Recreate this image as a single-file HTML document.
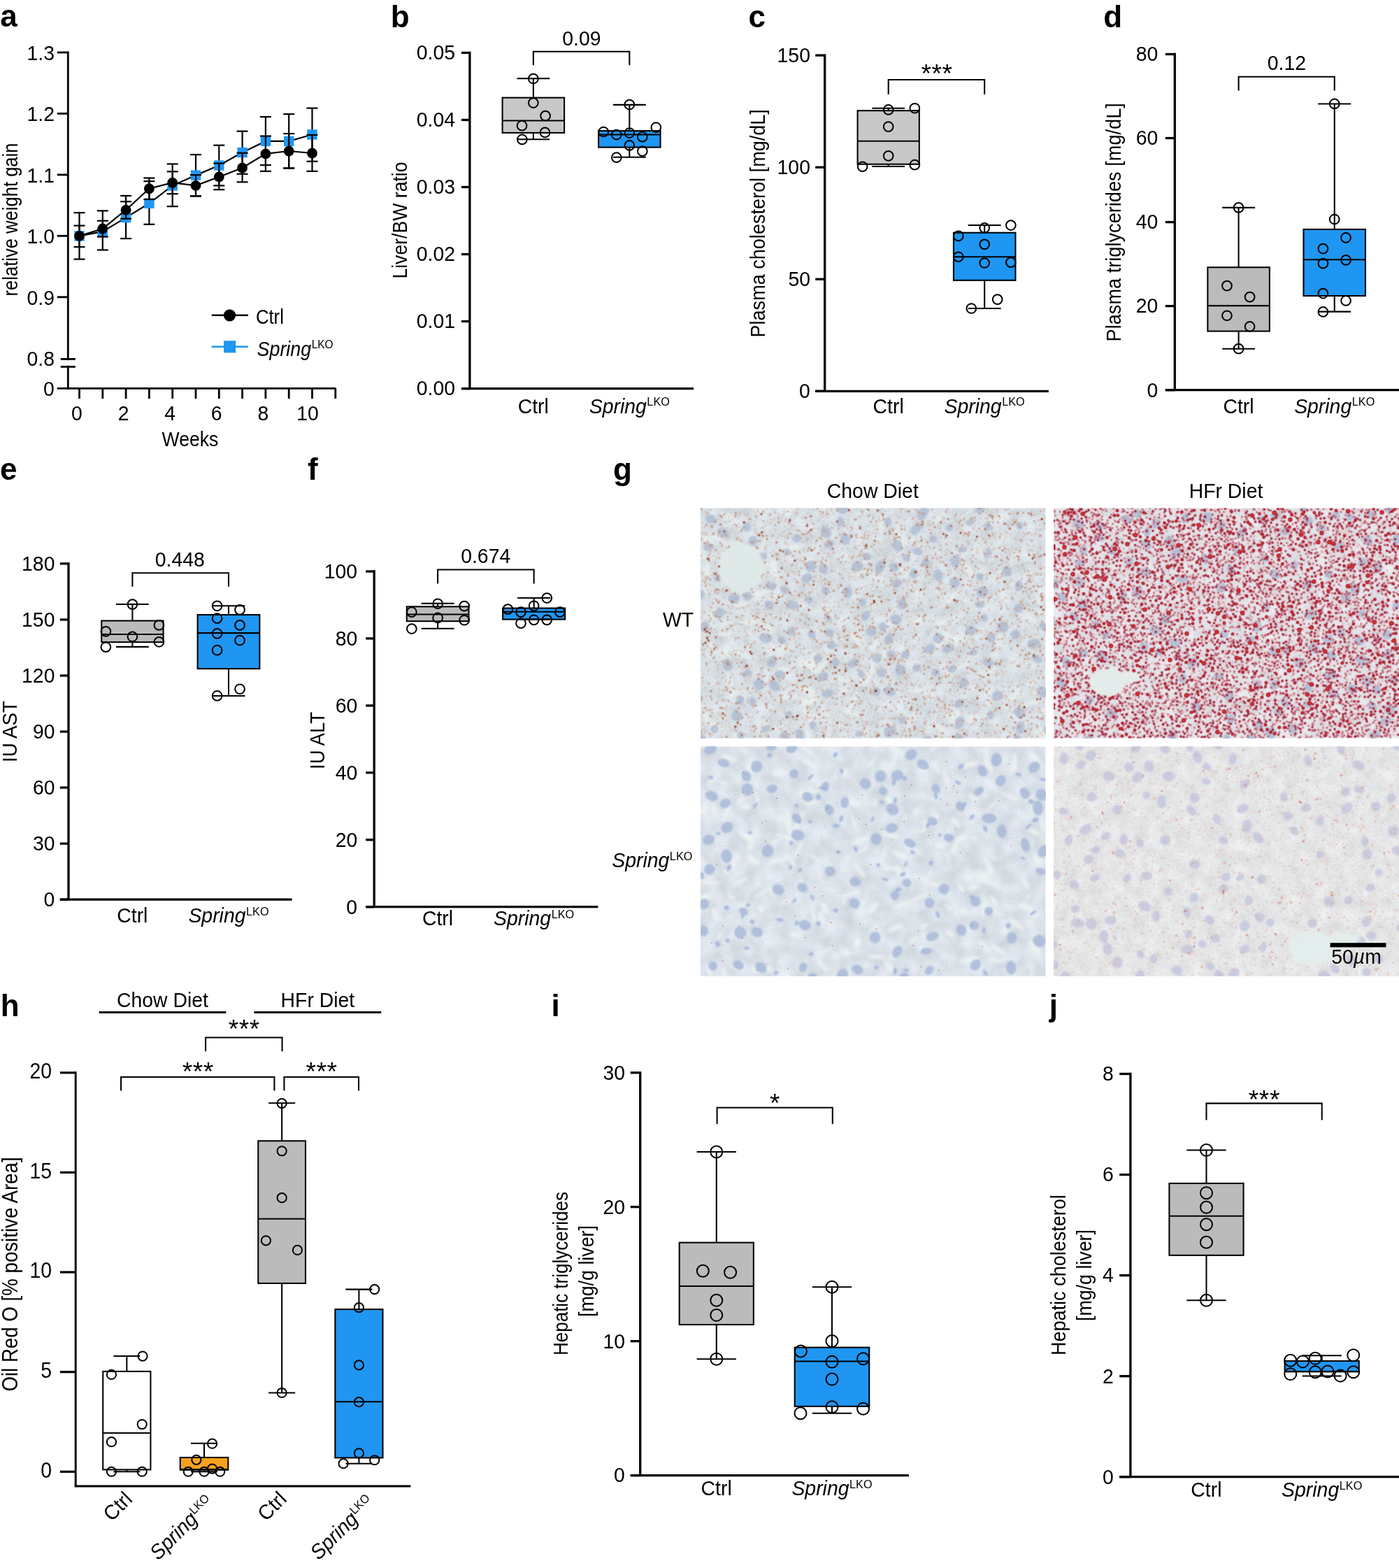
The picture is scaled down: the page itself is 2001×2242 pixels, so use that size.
<!DOCTYPE html>
<html lang="en"><head><meta charset="utf-8"><title>Figure</title>
<style>
html,body{margin:0;padding:0;background:#fff;}
body{width:2001px;height:2242px;overflow:hidden;}
svg{display:block;font-family:'Liberation Sans', sans-serif;fill:#000;}
</style></head><body>
<svg width="2001" height="2242" viewBox="0 0 2001 2242">
<rect width="2001" height="2242" fill="#fff"/>
<defs><filter id="b0" x="-2%" y="-2%" width="104%" height="104%"><feGaussianBlur stdDeviation="0.4"/></filter><filter id="b1" x="-5%" y="-5%" width="110%" height="110%"><feGaussianBlur stdDeviation="1.1"/></filter><filter id="b2" x="-5%" y="-5%" width="110%" height="110%"><feGaussianBlur stdDeviation="2.2"/></filter><clipPath id="ctl"><rect x="1002" y="726.4" width="493.4" height="329"/></clipPath><filter id="ttl" x="0" y="0" width="100%" height="100%" color-interpolation-filters="sRGB"><feTurbulence type="fractalNoise" baseFrequency="0.05" numOctaves="2" seed="11" result="a"/><feColorMatrix in="a" type="matrix" values="0.13 0 0 0 0.774 0.13 0 0 0 0.806 0.13 0 0 0 0.829 0 0 0 0 1" result="A"/><feTurbulence type="fractalNoise" baseFrequency="0.5" numOctaves="2" seed="12" result="b"/><feColorMatrix in="b" type="matrix" values="0.2 0 0 0 -0.100 0.2 0 0 0 -0.100 0.2 0 0 0 -0.100 0 0 0 0 1" result="B"/><feComposite in="A" in2="B" operator="arithmetic" k1="0" k2="1" k3="1" k4="0"/><feColorMatrix type="matrix" values="1 0 0 0 0 0 1 0 0 0 0 0 1 0 0 0 0 0 0 1"/></filter><filter id="dtl" x="0" y="0" width="100%" height="100%" color-interpolation-filters="sRGB"><feGaussianBlur in="SourceAlpha" stdDeviation="0.85"/><feColorMatrix type="matrix" values="0 0 0 1 0 0 0 0 1 0 0 0 0 1 0 0 0 0 1 0"/><feComponentTransfer><feFuncR type="table" tableValues="0.86 0.8 0.7 0.58 0.45 0.36 0.36 0.36 0.36"/><feFuncG type="table" tableValues="0.66 0.56 0.42 0.3 0.2 0.14 0.14 0.14 0.14"/><feFuncB type="table" tableValues="0.54 0.44 0.32 0.24 0.2 0.16 0.16 0.16 0.16"/><feFuncA type="table" tableValues="0 0.24 0.48 0.72 0.9 1 1 1 1"/></feComponentTransfer></filter><clipPath id="ctr"><rect x="1507" y="726.4" width="494" height="329"/></clipPath><filter id="ttr" x="0" y="0" width="100%" height="100%" color-interpolation-filters="sRGB"><feTurbulence type="fractalNoise" baseFrequency="0.05" numOctaves="2" seed="23" result="a"/><feColorMatrix in="a" type="matrix" values="0.12 0 0 0 0.818 0.12 0 0 0 0.818 0.12 0 0 0 0.846 0 0 0 0 1" result="A"/><feTurbulence type="fractalNoise" baseFrequency="0.5" numOctaves="2" seed="24" result="b"/><feColorMatrix in="b" type="matrix" values="0.2 0 0 0 -0.100 0.2 0 0 0 -0.100 0.2 0 0 0 -0.100 0 0 0 0 1" result="B"/><feComposite in="A" in2="B" operator="arithmetic" k1="0" k2="1" k3="1" k4="0"/><feColorMatrix type="matrix" values="1 0 0 0 0 0 1 0 0 0 0 0 1 0 0 0 0 0 0 1"/></filter><filter id="dtr" x="0" y="0" width="100%" height="100%" color-interpolation-filters="sRGB"><feGaussianBlur in="SourceAlpha" stdDeviation="0.85"/><feColorMatrix type="matrix" values="0 0 0 1 0 0 0 0 1 0 0 0 0 1 0 0 0 0 1 0"/><feComponentTransfer><feFuncR type="table" tableValues="0.9 0.84 0.68 0.6 0.74 0.8 0.83 0.84 0.84"/><feFuncG type="table" tableValues="0.6 0.42 0.23 0.14 0.15 0.17 0.18 0.19 0.19"/><feFuncB type="table" tableValues="0.55 0.42 0.32 0.25 0.18 0.16 0.15 0.15 0.15"/><feFuncA type="table" tableValues="0 0.32 0.62 0.88 1 1 1 1 1"/></feComponentTransfer></filter><clipPath id="cbl"><rect x="1002" y="1067.6" width="493.4" height="328.2"/></clipPath><filter id="tbl" x="0" y="0" width="100%" height="100%" color-interpolation-filters="sRGB"><feTurbulence type="fractalNoise" baseFrequency="0.045" numOctaves="2" seed="37" result="a"/><feColorMatrix in="a" type="matrix" values="0.14 0 0 0 0.781 0.14 0 0 0 0.808 0.14 0 0 0 0.836 0 0 0 0 1" result="A"/><feTurbulence type="fractalNoise" baseFrequency="0.5" numOctaves="2" seed="38" result="b"/><feColorMatrix in="b" type="matrix" values="0.16 0 0 0 -0.080 0.16 0 0 0 -0.080 0.16 0 0 0 -0.080 0 0 0 0 1" result="B"/><feComposite in="A" in2="B" operator="arithmetic" k1="0" k2="1" k3="1" k4="0"/><feColorMatrix type="matrix" values="1 0 0 0 0 0 1 0 0 0 0 0 1 0 0 0 0 0 0 1"/></filter><clipPath id="cbr"><rect x="1507" y="1067.6" width="494" height="328.2"/></clipPath><filter id="tbr" x="0" y="0" width="100%" height="100%" color-interpolation-filters="sRGB"><feTurbulence type="fractalNoise" baseFrequency="0.05" numOctaves="2" seed="51" result="a"/><feColorMatrix in="a" type="matrix" values="0.1 0 0 0 0.840 0.1 0 0 0 0.844 0.1 0 0 0 0.848 0 0 0 0 1" result="A"/><feTurbulence type="fractalNoise" baseFrequency="0.5" numOctaves="2" seed="52" result="b"/><feColorMatrix in="b" type="matrix" values="0.2 0 0 0 -0.100 0.2 0 0 0 -0.100 0.2 0 0 0 -0.100 0 0 0 0 1" result="B"/><feComposite in="A" in2="B" operator="arithmetic" k1="0" k2="1" k3="1" k4="0"/><feColorMatrix type="matrix" values="1 0 0 0 0 0 1 0 0 0 0 0 1 0 0 0 0 0 0 1"/></filter><filter id="dbr" x="0" y="0" width="100%" height="100%" color-interpolation-filters="sRGB"><feGaussianBlur in="SourceAlpha" stdDeviation="0.85"/><feColorMatrix type="matrix" values="0 0 0 1 0 0 0 0 1 0 0 0 0 1 0 0 0 0 1 0"/><feComponentTransfer><feFuncR type="table" tableValues="0.92 0.88 0.82 0.76 0.7 0.7 0.7 0.7 0.7"/><feFuncG type="table" tableValues="0.76 0.64 0.5 0.38 0.28 0.28 0.28 0.28 0.28"/><feFuncB type="table" tableValues="0.7 0.58 0.44 0.34 0.26 0.26 0.26 0.26 0.26"/><feFuncA type="table" tableValues="0 0.24 0.48 0.72 0.9 1 1 1 1"/></feComponentTransfer></filter></defs>
<text transform="translate(877 685.5)" font-size="44" font-weight="bold">g</text>
<text transform="translate(1182.84 712) scale(0.9627 1)" font-size="29.5">Chow Diet</text>
<text transform="translate(1700.67 712) scale(0.9627 1)" font-size="29.5">HFr Diet</text>
<text transform="translate(947.96 896.3) scale(0.9627 1)" font-size="29.5">WT</text>
<text transform="translate(875.24 1240) scale(0.9627 1)" font-size="29.5"><tspan font-style="italic">Spring</tspan><tspan font-size="16.9" dx="0.6" dy="-10.3">LKO</tspan></text>
<g clip-path="url(#ctl)"><rect x="1002" y="726.4" width="493.4" height="329" fill="#d6dee4" filter="url(#ttl)"/><g filter="url(#b2)"><g fill="#e8efee" fill-opacity="0.9"><ellipse cx="1225.2" cy="910.6" rx="12.1" ry="4.8" transform="rotate(25 1225.2 910.6)"/><ellipse cx="1458" cy="879.6" rx="7.7" ry="1.8" transform="rotate(80 1458 879.6)"/><ellipse cx="1252.6" cy="919.6" rx="13.9" ry="3.2" transform="rotate(145 1252.6 919.6)"/><ellipse cx="1093.1" cy="894.8" rx="17.6" ry="3.9" transform="rotate(35 1093.1 894.8)"/><ellipse cx="1312.8" cy="987.3" rx="8.9" ry="3.9" transform="rotate(1 1312.8 987.3)"/><ellipse cx="1048.4" cy="826.2" rx="12.6" ry="2.7" transform="rotate(32 1048.4 826.2)"/><ellipse cx="1046.7" cy="992.8" rx="8.3" ry="2.8" transform="rotate(125 1046.7 992.8)"/><ellipse cx="1344.1" cy="740.2" rx="12.4" ry="3" transform="rotate(136 1344.1 740.2)"/><ellipse cx="1486.6" cy="1043.8" rx="12.3" ry="2.4" transform="rotate(163 1486.6 1043.8)"/><ellipse cx="1324.6" cy="928.9" rx="9.5" ry="1.6" transform="rotate(130 1324.6 928.9)"/><ellipse cx="1079.7" cy="731.3" rx="7.7" ry="2.3" transform="rotate(112 1079.7 731.3)"/><ellipse cx="1262.7" cy="746" rx="14.1" ry="4.6" transform="rotate(102 1262.7 746)"/><ellipse cx="1095.8" cy="806" rx="17.8" ry="3.5" transform="rotate(169 1095.8 806)"/><ellipse cx="1016.8" cy="879" rx="12.1" ry="2.8" transform="rotate(36 1016.8 879)"/><ellipse cx="1219.4" cy="1003.6" rx="16.2" ry="3.1" transform="rotate(115 1219.4 1003.6)"/><ellipse cx="1258.1" cy="937.1" rx="11" ry="4.6" transform="rotate(161 1258.1 937.1)"/><ellipse cx="1248.6" cy="944.3" rx="20.8" ry="3.4" transform="rotate(96 1248.6 944.3)"/><ellipse cx="1227.6" cy="817.9" rx="12.6" ry="4.4" transform="rotate(163 1227.6 817.9)"/><ellipse cx="1494.2" cy="1054" rx="13.4" ry="4.5" transform="rotate(14 1494.2 1054)"/><ellipse cx="1416.6" cy="959.3" rx="11.2" ry="2.9" transform="rotate(138 1416.6 959.3)"/><ellipse cx="1157.6" cy="802" rx="7.9" ry="4.5" transform="rotate(145 1157.6 802)"/><ellipse cx="1144.6" cy="749.5" rx="8.6" ry="1.7" transform="rotate(31 1144.6 749.5)"/><ellipse cx="1380.1" cy="858.1" rx="11.6" ry="2.3" transform="rotate(25 1380.1 858.1)"/><ellipse cx="1419.7" cy="853.6" rx="8.1" ry="2.2" transform="rotate(130 1419.7 853.6)"/><ellipse cx="1474.7" cy="1005.2" rx="16.4" ry="3.6" transform="rotate(170 1474.7 1005.2)"/><ellipse cx="1002.3" cy="795.4" rx="14.5" ry="2.4" transform="rotate(15 1002.3 795.4)"/><ellipse cx="1485.7" cy="857.2" rx="8.9" ry="2.4" transform="rotate(52 1485.7 857.2)"/><ellipse cx="1038" cy="933.5" rx="14.8" ry="3.5" transform="rotate(94 1038 933.5)"/><ellipse cx="1386.1" cy="815.2" rx="15.2" ry="3.9" transform="rotate(56 1386.1 815.2)"/><ellipse cx="1477.7" cy="975.8" rx="12.5" ry="2.3" transform="rotate(162 1477.7 975.8)"/><ellipse cx="1060.2" cy="807.5" rx="10.5" ry="2" transform="rotate(174 1060.2 807.5)"/><ellipse cx="1051.9" cy="746.1" rx="12.2" ry="3.1" transform="rotate(36 1051.9 746.1)"/><ellipse cx="1395.3" cy="784.9" rx="11.8" ry="3.2" transform="rotate(108 1395.3 784.9)"/><ellipse cx="1278" cy="873.6" rx="9" ry="1.5" transform="rotate(92 1278 873.6)"/><ellipse cx="1096.1" cy="967.2" rx="12.4" ry="2.4" transform="rotate(101 1096.1 967.2)"/><ellipse cx="1066.6" cy="938.2" rx="12.7" ry="2.8" transform="rotate(11 1066.6 938.2)"/><ellipse cx="1059.5" cy="864.8" rx="11.1" ry="3.4" transform="rotate(172 1059.5 864.8)"/><ellipse cx="1107" cy="815.2" rx="13.2" ry="5" transform="rotate(85 1107 815.2)"/><ellipse cx="1481.1" cy="990.7" rx="7.5" ry="2.3" transform="rotate(146 1481.1 990.7)"/><ellipse cx="1152.1" cy="1017.5" rx="15" ry="4.3" transform="rotate(57 1152.1 1017.5)"/><ellipse cx="1106" cy="856.1" rx="9.1" ry="2.2" transform="rotate(166 1106 856.1)"/><ellipse cx="1423.5" cy="937.6" rx="9.3" ry="1.9" transform="rotate(4 1423.5 937.6)"/><ellipse cx="1051.5" cy="1051.9" rx="7" ry="2.8" transform="rotate(123 1051.5 1051.9)"/><ellipse cx="1383.2" cy="834.6" rx="8.8" ry="3" transform="rotate(111 1383.2 834.6)"/><ellipse cx="1046.5" cy="918.1" rx="8.8" ry="1.8" transform="rotate(22 1046.5 918.1)"/><ellipse cx="1121.9" cy="924.2" rx="9.7" ry="3.8" transform="rotate(35 1121.9 924.2)"/><ellipse cx="1185.4" cy="875.5" rx="11.2" ry="3.4" transform="rotate(67 1185.4 875.5)"/><ellipse cx="1475.2" cy="885.5" rx="10.8" ry="2.9" transform="rotate(28 1475.2 885.5)"/><ellipse cx="1285.5" cy="1011.5" rx="9.3" ry="2.2" transform="rotate(114 1285.5 1011.5)"/><ellipse cx="1092.2" cy="777.1" rx="14.3" ry="2.6" transform="rotate(110 1092.2 777.1)"/><ellipse cx="1450.2" cy="995.5" rx="12.3" ry="4.9" transform="rotate(133 1450.2 995.5)"/><ellipse cx="1125.1" cy="788.8" rx="18" ry="3.2" transform="rotate(56 1125.1 788.8)"/><ellipse cx="1366.8" cy="1035.8" rx="12.2" ry="2.1" transform="rotate(39 1366.8 1035.8)"/><ellipse cx="1099" cy="1039" rx="20.1" ry="3.6" transform="rotate(24 1099 1039)"/><ellipse cx="1437.3" cy="925" rx="10.2" ry="2.2" transform="rotate(46 1437.3 925)"/><ellipse cx="1209.9" cy="760.6" rx="9.2" ry="1.7" transform="rotate(75 1209.9 760.6)"/><ellipse cx="1021.1" cy="1043.1" rx="10.8" ry="5.1" transform="rotate(72 1021.1 1043.1)"/><ellipse cx="1119.6" cy="958.2" rx="9.2" ry="5.2" transform="rotate(36 1119.6 958.2)"/><ellipse cx="1128.8" cy="997.4" rx="16.5" ry="2.9" transform="rotate(174 1128.8 997.4)"/><ellipse cx="1296.3" cy="822.9" rx="7.8" ry="2.1" transform="rotate(136 1296.3 822.9)"/><ellipse cx="1035.9" cy="801.5" rx="12.8" ry="2.8" transform="rotate(34 1035.9 801.5)"/><ellipse cx="1454.6" cy="793.5" rx="5.5" ry="2.7" transform="rotate(6 1454.6 793.5)"/><ellipse cx="1010.2" cy="815" rx="12" ry="3.3" transform="rotate(102 1010.2 815)"/><ellipse cx="1221.9" cy="746.3" rx="6.4" ry="2.8" transform="rotate(36 1221.9 746.3)"/><ellipse cx="1089" cy="847.7" rx="19.2" ry="3.1" transform="rotate(166 1089 847.7)"/><ellipse cx="1284.3" cy="769.7" rx="5.5" ry="2.9" transform="rotate(171 1284.3 769.7)"/><ellipse cx="1180.7" cy="1019.5" rx="12.9" ry="2.6" transform="rotate(58 1180.7 1019.5)"/><ellipse cx="1485.8" cy="942.5" rx="11.2" ry="3" transform="rotate(77 1485.8 942.5)"/><ellipse cx="1343" cy="918.7" rx="8.6" ry="4.9" transform="rotate(126 1343 918.7)"/><ellipse cx="1010.8" cy="1025.9" rx="11.7" ry="5.1" transform="rotate(81 1010.8 1025.9)"/><ellipse cx="1347.9" cy="1043.2" rx="12.9" ry="4" transform="rotate(35 1347.9 1043.2)"/><ellipse cx="1012.5" cy="935.7" rx="8.3" ry="2.3" transform="rotate(2 1012.5 935.7)"/><ellipse cx="1239.9" cy="966.7" rx="18" ry="3.5" transform="rotate(126 1239.9 966.7)"/><ellipse cx="1159.3" cy="1055.2" rx="16" ry="3.8" transform="rotate(72 1159.3 1055.2)"/><ellipse cx="1039.1" cy="906.1" rx="12.4" ry="3.4" transform="rotate(176 1039.1 906.1)"/><ellipse cx="1365.6" cy="1022.6" rx="12.1" ry="4.7" transform="rotate(164 1365.6 1022.6)"/><ellipse cx="1365.7" cy="957.9" rx="16.1" ry="3.2" transform="rotate(146 1365.7 957.9)"/><ellipse cx="1393.4" cy="1027.4" rx="13.1" ry="2.3" transform="rotate(158 1393.4 1027.4)"/><ellipse cx="1175.6" cy="951.8" rx="15.5" ry="3.1" transform="rotate(137 1175.6 951.8)"/><ellipse cx="1446.5" cy="1013" rx="12" ry="2.6" transform="rotate(12 1446.5 1013)"/><ellipse cx="1207.8" cy="986.5" rx="9.7" ry="2.8" transform="rotate(1 1207.8 986.5)"/><ellipse cx="1428" cy="914.9" rx="10.9" ry="2.6" transform="rotate(112 1428 914.9)"/><ellipse cx="1310.4" cy="852.2" rx="11.3" ry="1.9" transform="rotate(119 1310.4 852.2)"/><ellipse cx="1289.5" cy="926.7" rx="10.9" ry="2.5" transform="rotate(102 1289.5 926.7)"/><ellipse cx="1492.1" cy="1015.9" rx="10.9" ry="3.5" transform="rotate(179 1492.1 1015.9)"/><ellipse cx="1361.3" cy="854.2" rx="14.4" ry="3.1" transform="rotate(137 1361.3 854.2)"/><ellipse cx="1364.7" cy="917.5" rx="11.2" ry="6.3" transform="rotate(110 1364.7 917.5)"/><ellipse cx="1043.3" cy="973.2" rx="11.6" ry="4.5" transform="rotate(72 1043.3 973.2)"/><ellipse cx="1016.7" cy="924.2" rx="5.8" ry="2.4" transform="rotate(67 1016.7 924.2)"/><ellipse cx="1239.3" cy="802.1" rx="6.4" ry="2.5" transform="rotate(163 1239.3 802.1)"/><ellipse cx="1346.6" cy="890" rx="11.9" ry="3.3" transform="rotate(174 1346.6 890)"/><ellipse cx="1305.2" cy="1029.2" rx="15.8" ry="2.5" transform="rotate(114 1305.2 1029.2)"/><ellipse cx="1128.2" cy="730.1" rx="10.5" ry="5.4" transform="rotate(107 1128.2 730.1)"/><ellipse cx="1150.5" cy="949.5" rx="9.9" ry="5.4" transform="rotate(167 1150.5 949.5)"/><ellipse cx="1448.9" cy="943.5" rx="8" ry="2.3" transform="rotate(30 1448.9 943.5)"/><ellipse cx="1220" cy="1019.8" rx="12.2" ry="2.9" transform="rotate(10 1220 1019.8)"/><ellipse cx="1163.3" cy="945.5" rx="14.8" ry="4.6" transform="rotate(94 1163.3 945.5)"/><ellipse cx="1099.9" cy="868.2" rx="11.3" ry="3.7" transform="rotate(51 1099.9 868.2)"/><ellipse cx="1436.3" cy="852.9" rx="13.4" ry="3.4" transform="rotate(51 1436.3 852.9)"/><ellipse cx="1069.2" cy="889.7" rx="11.7" ry="4.3" transform="rotate(2 1069.2 889.7)"/><ellipse cx="1415" cy="1005.6" rx="6.4" ry="3.5" transform="rotate(28 1415 1005.6)"/><ellipse cx="1138.6" cy="782" rx="12.9" ry="4.1" transform="rotate(161 1138.6 782)"/><ellipse cx="1310.7" cy="888.9" rx="9.9" ry="5.3" transform="rotate(177 1310.7 888.9)"/><ellipse cx="1157.6" cy="1002.5" rx="11.4" ry="5.9" transform="rotate(162 1157.6 1002.5)"/><ellipse cx="1486.5" cy="875.3" rx="10.6" ry="3" transform="rotate(175 1486.5 875.3)"/><ellipse cx="1038.8" cy="736.8" rx="9.1" ry="2.4" transform="rotate(168 1038.8 736.8)"/><ellipse cx="1432.7" cy="740" rx="13.2" ry="3.8" transform="rotate(176 1432.7 740)"/><ellipse cx="1154.5" cy="986.8" rx="15.4" ry="3.7" transform="rotate(20 1154.5 986.8)"/><ellipse cx="1011.4" cy="771.1" rx="12.2" ry="3.6" transform="rotate(36 1011.4 771.1)"/><ellipse cx="1226.4" cy="734.5" rx="7.3" ry="1.9" transform="rotate(22 1226.4 734.5)"/></g></g><g filter="url(#b1)"><g fill="#a7b7d0" fill-opacity="0.72"><ellipse cx="1219.9" cy="947.8" rx="8.1" ry="5.5" transform="rotate(150 1219.9 947.8)"/><ellipse cx="1226.3" cy="810.3" rx="7.6" ry="8.2" transform="rotate(78 1226.3 810.3)"/><ellipse cx="1290.1" cy="863.6" rx="8.2" ry="5.9" transform="rotate(94 1290.1 863.6)"/><ellipse cx="1388.6" cy="901.3" rx="6.6" ry="7" transform="rotate(162 1388.6 901.3)"/><ellipse cx="1499.2" cy="1044.3" rx="4.9" ry="7.6" transform="rotate(130 1499.2 1044.3)"/><ellipse cx="1366.6" cy="802.2" rx="8.9" ry="7.3" transform="rotate(107 1366.6 802.2)"/><ellipse cx="1054.3" cy="1024" rx="6.9" ry="8.3" transform="rotate(106 1054.3 1024)"/><ellipse cx="1391.8" cy="933.3" rx="4.4" ry="6.3" transform="rotate(80 1391.8 933.3)"/><ellipse cx="1177.8" cy="813.4" rx="6.4" ry="7" transform="rotate(9 1177.8 813.4)"/><ellipse cx="1341.8" cy="912.9" rx="7.4" ry="7.3" transform="rotate(43 1341.8 912.9)"/><ellipse cx="1294.8" cy="936" rx="5.8" ry="6.3" transform="rotate(42 1294.8 936)"/><ellipse cx="1376.2" cy="785.7" rx="6.2" ry="4.4" transform="rotate(173 1376.2 785.7)"/><ellipse cx="1122.3" cy="1053.5" rx="8.4" ry="6.3" transform="rotate(75 1122.3 1053.5)"/><ellipse cx="1458" cy="1019.3" rx="6.8" ry="8.8" transform="rotate(134 1458 1019.3)"/><ellipse cx="1016.9" cy="742" rx="8.2" ry="5.9" transform="rotate(17 1016.9 742)"/><ellipse cx="1133.4" cy="865.5" rx="6.4" ry="9.2" transform="rotate(96 1133.4 865.5)"/><ellipse cx="1310.8" cy="756.1" rx="6.4" ry="10.6" transform="rotate(43 1310.8 756.1)"/><ellipse cx="1269.7" cy="746" rx="5.6" ry="6.5" transform="rotate(11 1269.7 746)"/><ellipse cx="1040.5" cy="950.7" rx="9.2" ry="7.1" transform="rotate(71 1040.5 950.7)"/><ellipse cx="1274.2" cy="935.3" rx="6.4" ry="6" transform="rotate(8 1274.2 935.3)"/><ellipse cx="1184.9" cy="883.6" rx="6" ry="4.3" transform="rotate(55 1184.9 883.6)"/><ellipse cx="1103" cy="837.9" rx="8" ry="5.6" transform="rotate(175 1103 837.9)"/><ellipse cx="1371.9" cy="1005.7" rx="5.8" ry="7.6" transform="rotate(53 1371.9 1005.7)"/><ellipse cx="1034.4" cy="762" rx="9.6" ry="6.9" transform="rotate(35 1034.4 762)"/><ellipse cx="1404.7" cy="846.5" rx="7.3" ry="8.4" transform="rotate(85 1404.7 846.5)"/><ellipse cx="1326.1" cy="1056.7" rx="6.5" ry="4.8" transform="rotate(179 1326.1 1056.7)"/><ellipse cx="1160.8" cy="907.4" rx="6" ry="5.4" transform="rotate(34 1160.8 907.4)"/><ellipse cx="1372.6" cy="1033.6" rx="6.4" ry="10" transform="rotate(19 1372.6 1033.6)"/><ellipse cx="1212.3" cy="846.6" rx="6.9" ry="8.1" transform="rotate(162 1212.3 846.6)"/><ellipse cx="1281" cy="885.8" rx="8.7" ry="7.3" transform="rotate(24 1281 885.8)"/><ellipse cx="1342" cy="822.7" rx="8.8" ry="6.2" transform="rotate(80 1342 822.7)"/><ellipse cx="1387.4" cy="747.2" rx="4.6" ry="6" transform="rotate(55 1387.4 747.2)"/><ellipse cx="1104.4" cy="945.9" rx="6.4" ry="8.6" transform="rotate(32 1104.4 945.9)"/><ellipse cx="1362" cy="956.7" rx="6.2" ry="5.4" transform="rotate(142 1362 956.7)"/><ellipse cx="1139.4" cy="769.8" rx="6.7" ry="5.8" transform="rotate(159 1139.4 769.8)"/><ellipse cx="1177.1" cy="967.5" rx="6.2" ry="8" transform="rotate(54 1177.1 967.5)"/><ellipse cx="1181.4" cy="761.2" rx="8.7" ry="7.6" transform="rotate(49 1181.4 761.2)"/><ellipse cx="1459.4" cy="1040" rx="5.9" ry="8.8" transform="rotate(176 1459.4 1040)"/><ellipse cx="1456.8" cy="869.9" rx="6.6" ry="6.4" transform="rotate(95 1456.8 869.9)"/><ellipse cx="1401.3" cy="824.7" rx="5.4" ry="4.9" transform="rotate(51 1401.3 824.7)"/><ellipse cx="1156.9" cy="856.9" rx="6.6" ry="5.2" transform="rotate(15 1156.9 856.9)"/><ellipse cx="1122" cy="844" rx="6.6" ry="5.4" transform="rotate(44 1122 844)"/><ellipse cx="1181" cy="844.6" rx="6.1" ry="5.8" transform="rotate(33 1181 844.6)"/><ellipse cx="1095.1" cy="912.5" rx="9.8" ry="6.6" transform="rotate(6 1095.1 912.5)"/><ellipse cx="1418" cy="912.2" rx="7.3" ry="5.9" transform="rotate(69 1418 912.2)"/><ellipse cx="1085.9" cy="978.7" rx="8.2" ry="8.2" transform="rotate(32 1085.9 978.7)"/><ellipse cx="1440.4" cy="816.8" rx="7.3" ry="6.5" transform="rotate(64 1440.4 816.8)"/><ellipse cx="1008.2" cy="896.2" rx="8.1" ry="6.4" transform="rotate(93 1008.2 896.2)"/><ellipse cx="1270.9" cy="913.8" rx="7.7" ry="5.8" transform="rotate(123 1270.9 913.8)"/><ellipse cx="1483.5" cy="942.2" rx="8.1" ry="5.6" transform="rotate(31 1483.5 942.2)"/><ellipse cx="1272.3" cy="988.6" rx="6.5" ry="9" transform="rotate(109 1272.3 988.6)"/><ellipse cx="1323.7" cy="804.6" rx="5.6" ry="6" transform="rotate(139 1323.7 804.6)"/><ellipse cx="1108" cy="980.9" rx="8.7" ry="6.8" transform="rotate(42 1108 980.9)"/><ellipse cx="1245.5" cy="903.6" rx="5.8" ry="7.6" transform="rotate(104 1245.5 903.6)"/><ellipse cx="1412.9" cy="947.4" rx="5.3" ry="8.4" transform="rotate(107 1412.9 947.4)"/><ellipse cx="1426.7" cy="994.6" rx="7.7" ry="7.2" transform="rotate(157 1426.7 994.6)"/><ellipse cx="1416.7" cy="1022.7" rx="4.8" ry="6.6" transform="rotate(3 1416.7 1022.7)"/><ellipse cx="1260.7" cy="962.1" rx="6.5" ry="6.9" transform="rotate(79 1260.7 962.1)"/><ellipse cx="1400.9" cy="864.3" rx="6.7" ry="5.2" transform="rotate(13 1400.9 864.3)"/><ellipse cx="1208.7" cy="771" rx="8.3" ry="7.8" transform="rotate(97 1208.7 771)"/><ellipse cx="1370.1" cy="1057.4" rx="6.8" ry="8.7" transform="rotate(26 1370.1 1057.4)"/><ellipse cx="1186" cy="778.2" rx="4.8" ry="7.6" transform="rotate(56 1186 778.2)"/><ellipse cx="1099.9" cy="865.5" rx="7.2" ry="7" transform="rotate(47 1099.9 865.5)"/><ellipse cx="1144" cy="1050.1" rx="5.7" ry="8.5" transform="rotate(147 1144 1050.1)"/><ellipse cx="1026.8" cy="826" rx="5" ry="6.3" transform="rotate(28 1026.8 826)"/><ellipse cx="1028.4" cy="876.9" rx="8.4" ry="6.4" transform="rotate(141 1028.4 876.9)"/><ellipse cx="1291" cy="1029.7" rx="5" ry="5.4" transform="rotate(65 1291 1029.7)"/><ellipse cx="1089.9" cy="795.1" rx="6.9" ry="4.8" transform="rotate(7 1089.9 795.1)"/><ellipse cx="1115.5" cy="964.5" rx="7.4" ry="6" transform="rotate(177 1115.5 964.5)"/><ellipse cx="1296.4" cy="797.3" rx="5.4" ry="5.6" transform="rotate(134 1296.4 797.3)"/><ellipse cx="1408.3" cy="883.9" rx="4.5" ry="5.8" transform="rotate(160 1408.3 883.9)"/><ellipse cx="1128.1" cy="1022.2" rx="5.2" ry="5.8" transform="rotate(53 1128.1 1022.2)"/><ellipse cx="1457.2" cy="837.4" rx="5.2" ry="7.9" transform="rotate(6 1457.2 837.4)"/><ellipse cx="1272.5" cy="1045.8" rx="9.4" ry="7.5" transform="rotate(132 1272.5 1045.8)"/><ellipse cx="1239.9" cy="796.3" rx="5.2" ry="6.5" transform="rotate(99 1239.9 796.3)"/><ellipse cx="1022" cy="1042.6" rx="5.7" ry="5.9" transform="rotate(167 1022 1042.6)"/><ellipse cx="1262.6" cy="896.3" rx="5.8" ry="6.7" transform="rotate(176 1262.6 896.3)"/><ellipse cx="1184" cy="991.5" rx="5.6" ry="8.9" transform="rotate(72 1184 991.5)"/><ellipse cx="1356.1" cy="926.9" rx="5.8" ry="8.9" transform="rotate(61 1356.1 926.9)"/><ellipse cx="1076.2" cy="774.6" rx="8.5" ry="6.3" transform="rotate(106 1076.2 774.6)"/><ellipse cx="1159" cy="809.3" rx="7.9" ry="8.1" transform="rotate(70 1159 809.3)"/><ellipse cx="1434.6" cy="896.4" rx="7.5" ry="8.3" transform="rotate(140 1434.6 896.4)"/><ellipse cx="1131.2" cy="902.6" rx="5.3" ry="6.1" transform="rotate(33 1131.2 902.6)"/><ellipse cx="997.7" cy="999.9" rx="5.9" ry="8.1" transform="rotate(36 997.7 999.9)"/><ellipse cx="1357.7" cy="754.3" rx="5.6" ry="5.8" transform="rotate(55 1357.7 754.3)"/><ellipse cx="1238.7" cy="880.3" rx="7.9" ry="5.4" transform="rotate(122 1238.7 880.3)"/><ellipse cx="1478" cy="920.3" rx="6.9" ry="9.1" transform="rotate(68 1478 920.3)"/><ellipse cx="1458.5" cy="752.2" rx="5.7" ry="4.8" transform="rotate(65 1458.5 752.2)"/><ellipse cx="1413" cy="792.1" rx="4.7" ry="7.5" transform="rotate(32 1413 792.1)"/><ellipse cx="1076.3" cy="1003.5" rx="5.6" ry="6.2" transform="rotate(166 1076.3 1003.5)"/><ellipse cx="1153.8" cy="826.7" rx="6.7" ry="8.3" transform="rotate(64 1153.8 826.7)"/><ellipse cx="1232.2" cy="963.8" rx="6.6" ry="4.6" transform="rotate(64 1232.2 963.8)"/><ellipse cx="1050.2" cy="855" rx="8.4" ry="6.9" transform="rotate(163 1050.2 855)"/><ellipse cx="1229.4" cy="1049.2" rx="4.7" ry="5.5" transform="rotate(69 1229.4 1049.2)"/><ellipse cx="1003.2" cy="849.2" rx="6.2" ry="4.5" transform="rotate(58 1003.2 849.2)"/><ellipse cx="1002.3" cy="1057.6" rx="7.7" ry="7.6" transform="rotate(9 1002.3 1057.6)"/><ellipse cx="1307.1" cy="819.8" rx="5.6" ry="7.2" transform="rotate(7 1307.1 819.8)"/><ellipse cx="1186.3" cy="904.4" rx="5.7" ry="5.3" transform="rotate(5 1186.3 904.4)"/><ellipse cx="1194.4" cy="947.4" rx="5.9" ry="6.3" transform="rotate(97 1194.4 947.4)"/><ellipse cx="1126.1" cy="789.2" rx="6" ry="5" transform="rotate(46 1126.1 789.2)"/><ellipse cx="1365.2" cy="833.1" rx="8" ry="7" transform="rotate(26 1365.2 833.1)"/><ellipse cx="1413.3" cy="752.7" rx="5.1" ry="6.3" transform="rotate(128 1413.3 752.7)"/><ellipse cx="1067.9" cy="753.4" rx="6.1" ry="6.7" transform="rotate(155 1067.9 753.4)"/><ellipse cx="1338.2" cy="961.5" rx="5.2" ry="6.3" transform="rotate(62 1338.2 961.5)"/><ellipse cx="1201.8" cy="746" rx="4.6" ry="7.2" transform="rotate(4 1201.8 746)"/><ellipse cx="1254.5" cy="940.8" rx="7.4" ry="6.9" transform="rotate(145 1254.5 940.8)"/><ellipse cx="1204.5" cy="726.6" rx="7.6" ry="9.1" transform="rotate(120 1204.5 726.6)"/><ellipse cx="1491.3" cy="989.1" rx="7.1" ry="9.3" transform="rotate(124 1491.3 989.1)"/><ellipse cx="1329.4" cy="927.7" rx="8.7" ry="6.1" transform="rotate(156 1329.4 927.7)"/><ellipse cx="1169.3" cy="942" rx="6.1" ry="5.5" transform="rotate(16 1169.3 942)"/><ellipse cx="1253.4" cy="988.7" rx="6.1" ry="6.8" transform="rotate(10 1253.4 988.7)"/><ellipse cx="1451.6" cy="907.3" rx="5.8" ry="6.8" transform="rotate(89 1451.6 907.3)"/><ellipse cx="1068.4" cy="963.2" rx="5.1" ry="7" transform="rotate(72 1068.4 963.2)"/><ellipse cx="1493.7" cy="896.3" rx="5.6" ry="7.8" transform="rotate(119 1493.7 896.3)"/><ellipse cx="1096.3" cy="1041.7" rx="4.8" ry="7.1" transform="rotate(61 1096.3 1041.7)"/><ellipse cx="1312.7" cy="788.5" rx="5.4" ry="7.6" transform="rotate(104 1312.7 788.5)"/><ellipse cx="1287.2" cy="957.7" rx="7.6" ry="7.2" transform="rotate(126 1287.2 957.7)"/><ellipse cx="1162.7" cy="1036.4" rx="4.8" ry="5.3" transform="rotate(65 1162.7 1036.4)"/><ellipse cx="1059.4" cy="1051.4" rx="5" ry="5.4" transform="rotate(9 1059.4 1051.4)"/><ellipse cx="1279.1" cy="811" rx="6.9" ry="6.4" transform="rotate(84 1279.1 811)"/><ellipse cx="1454.8" cy="1057.7" rx="5.4" ry="6.9" transform="rotate(4 1454.8 1057.7)"/><ellipse cx="1058.7" cy="1001" rx="7.2" ry="5.3" transform="rotate(101 1058.7 1001)"/><ellipse cx="1118.2" cy="915.8" rx="6.3" ry="5.5" transform="rotate(33 1118.2 915.8)"/><ellipse cx="1013.1" cy="782.4" rx="6.9" ry="6.3" transform="rotate(171 1013.1 782.4)"/><ellipse cx="1189.1" cy="922.1" rx="6.4" ry="6" transform="rotate(169 1189.1 922.1)"/><ellipse cx="1401.6" cy="726.9" rx="8.1" ry="7.2" transform="rotate(111 1401.6 726.9)"/><ellipse cx="1069" cy="852.4" rx="6.2" ry="6.6" transform="rotate(49 1069 852.4)"/><ellipse cx="1283.7" cy="780.3" rx="9.1" ry="6.7" transform="rotate(68 1283.7 780.3)"/><ellipse cx="1258.7" cy="810.8" rx="6.4" ry="10.2" transform="rotate(24 1258.7 810.8)"/><ellipse cx="1282.9" cy="834" rx="6.2" ry="7.3" transform="rotate(64 1282.9 834)"/><ellipse cx="1320" cy="734.2" rx="7" ry="9.8" transform="rotate(34 1320 734.2)"/><ellipse cx="1334.8" cy="770.5" rx="6.2" ry="5.4" transform="rotate(42 1334.8 770.5)"/><ellipse cx="1233.6" cy="860.9" rx="5.1" ry="4.9" transform="rotate(70 1233.6 860.9)"/><ellipse cx="1311" cy="955.1" rx="5.8" ry="5.8" transform="rotate(117 1311 955.1)"/><ellipse cx="1378.6" cy="976.2" rx="7.2" ry="6.5" transform="rotate(100 1378.6 976.2)"/></g></g><g filter="url(#b2)"><path d="M1092.1 803Q1095.4 811 1094.3 820.2Q1093.2 829.5 1086 833.9Q1078.9 838.4 1072.8 841.8Q1066.8 845.3 1059.4 848.4Q1052 851.5 1046.6 844.9Q1041.2 838.2 1035.2 833.2Q1029.2 828.2 1027.6 819.6Q1026 811 1027.7 802.5Q1029.4 794 1033.3 785.9Q1037.1 777.8 1044.6 774.5Q1052.1 771.2 1059.2 775Q1066.3 778.9 1073.5 779.9Q1080.7 780.9 1084.7 788Q1088.7 795 1092.1 803Z" fill="#dfe9e8"/></g><g filter="url(#dtl)"><rect x="1002" y="726.4" width="493.4" height="329" fill="none"/><path transform="scale(.5)" d="M2429 1459zm82 1zm-333 10zm-50 24zm132-7zm135 4zm585-6zm-659 30zm-12-11zm-237 16zm99 11zm8-9zm385 6zm135-1zm9 4zm40-7zm47 11zm-563 39zm90 0zm156-14zm510 26zm-34 11zm-10-10zm-670 16zm257 6zm301 30zm-213-4zm-562-15zm-11 21zm702 16zm125 7zm-546 8zm-77-5zm-172 22zm403 10zm79-3zm74-10zm170 7zm-74 23zm-230 2zm-272-10zm750 28zm7 8zm-801 27zm68 3zm608-3zm-236 14zm-445 6zm-164 9zm15 10zm291-4zm501 20zm-795 6zm-4-7zm-5 13zm195 20zm178 1zm27 9zm-41 8zm-227-6zm-4-6zm222 21zm8 8zm171-8zm283 22zm-287-7zm-124 18zm-18-1zm-13-8zm-252-4zm116 19zm139 0zm436 6zm-493 11zm-48 5zm-73-4zm237 19zm55 16zm38 2zm260-5zm-7 23zm-383-13zm-104-4zm310 20zm134 7zm127 9zm50 6zm-71 3zm-791 15zm183 11zm29-3zm392 28zm-277-9zm-285 0zm-6 11zm107 6zm548 14zm174-7zm-207 16zm-370-3z" stroke="#000" stroke-width="5.4" stroke-linecap="round" fill="none"/><path transform="scale(.5)" d="M2005 1454zm334 0zm39 0zm107 5zm93-4zm223-2zm150 21zm-2-5zm-8-1zm-14-2zm-16 2zm-23 1zm-31 6zm-17 1zm-10-3zm-18-11zm-106 2zm-79 1zm-28-2zm-71 9zm-5-3zm-38 7zm-19-13zm-113 5zm-7-5zm-27 13zm-116-4zm-19-9zm-20 15zm-59-11zm-2 10zm-32-5zm-11 3zm87 9zm81 10zm30 1zm46-15zm23 19zm122-14zm42 7zm17-1zm20-6zm84-2zm26 7zm2 5zm30 1zm21-2zm22-10zm30 11zm5-7zm10-4zm30-4zm41 13zm11-10zm15 11zm21 4zm29-6zm54-1zm29 6zm-58 3zm-36 0zm-5 11zm-61-9zm-10 12zm-17-2zm-48-10zm-34 2zm-44 5zm-36-8zm-60 14zm-25 2zm-11 1zm-6-13zm-77 7zm-45-8zm-35 6zm-65 9zm-31-2zm-68-16zm-95 15zm-62-16zm-23 5zm-15-4zm20 26zm34 2zm105 1zm4 4zm9-2zm17 0zm44 7zm7-13zm37 2zm137 2zm1 7zm28 1zm8-1zm33-2zm26-9zm14 1zm19 11zm7-2zm31 1zm60-12zm43 12zm54-10zm11 5zm2-10zm55 8zm5 4zm28 2zm81-11zm34 7zm-23 15zm-30-1zm-104 4zm-27-5zm-84 11zm-54-5zm-37 1zm-4 7zm-54-17zm-57 16zm0-13zm-20-5zm-74 9zm-28 8zm-4-6zm-6-4zm-34 0zm-24-4zm-117-1zm-41 9zm-34-5zm-10-3zm-49 9zm-27 7zm-18-5zm71 9zm79 4zm75 11zm33-2zm14 2zm24-3zm35-14zm35 8zm82 9zm30-15zm86 4zm24 12zm33-16zm36 3zm18 6zm47-10zm132 12zm5-6zm33 3zm10 4zm62 14zm-21-3zm-44 6zm-5-2zm-28 3zm-29-1zm-68-3zm-53 3zm-9-10zm-46 5zm-7 8zm-18 1zm-69-10zm-111-1zm-73 14zm-56-17zm-38 16zm-54-14zm-26 15zm-4-15zm-162 12zm-35 1zm6 7zm159 5zm77 8zm38-4zm29-3zm16-4zm4 5zm7 6zm4-14zm42 5zm48-1zm35 5zm87 6zm2-6zm61 6zm11-16zm49 5zm8 11zm47-17zm4 13zm2-9zm22 1zm77 11zm7-15zm20-2zm40 17zm35-6zm18 15zm-36 7zm-63-11zm-88-2zm-27 5zm-28-5zm-3 7zm-83-3zm-62 6zm-40 2zm-28-11zm-26 9zm-12 2zm-8-6zm-95 7zm-51 1zm-36-9zm-7 10zm-50-10zm-38 12zm-177 20zm6-6zm27 4zm2-7zm178 3zm21-5zm32-1zm74 12zm41-16zm9 12zm55-10zm3 8zm12-7zm82 0zm14-4zm83 3zm54 1zm18 8zm52-1zm3-7zm79-3zm81 5zm20-4zm10 1zm-5 35zm-15-1zm-7-13zm-15 6zm-11 8zm-12-9zm-94 10zm-21-12zm-20 8zm-8-3zm-12 0zm-30 5zm-36-12zm-70-4zm-6 3zm-28-4zm-37 2zm-1 10zm-35-11zm-4 18zm-103-5zm-36-4zm-42-8zm-28 12zm-20-9zm-85 9zm-176 2zm9 23zm20-14zm7 2zm47 11zm52-4zm32-13zm73 14zm36 0zm22 0zm46 4zm23-10zm23 5zm10-9zm31 1zm1 11zm107-10zm36 9zm12-8zm37-3zm1 14zm38-18zm21 17zm146 0zm9-7zm12-6zm58 6zm5-10zm12 4zm7 8zm11-3zm18 7zm0 11zm-1 9zm-84-5zm-60-5zm-6 3zm-12-9zm-21 11zm-13-10zm-5 15zm-41 1zm-54-10zm-100 3zm-41 5zm-26-8zm-21-5zm-7 3zm-29 11zm-7-3zm-35-8zm-9 9zm-91-1zm-15-12zm-81 13zm-39-6zm-49-4zm-84 11zm-15 21zm4-12zm15-1zm13 5zm28-6zm29 15zm95-13zm26-1zm7 6zm39 2zm67 4zm80 1zm17 0zm43-12zm24-5zm55 7zm50 5zm8-7zm29 11zm47 2zm88-9zm14-7zm114 8zm4 9zm24-14zm6-5zm3 35zm-163-3zm-31-12zm-3 12zm-9-7zm-36 13zm-74 1zm-51-11zm-60 8zm-102-5zm-58-4zm-8 5zm-8 7zm-1-14zm-46-1zm-32-1zm-77 14zm-172 12zm25-5zm24 9zm27-8zm45-4zm11 3zm22 15zm4-18zm29 4zm13 5zm81 1zm21 5zm33-12zm22-3zm7 7zm19 5zm12-6zm26 6zm1-12zm40 9zm134-8zm12 2zm95 2zm109 7zm21-9zm46 7zm8 7zm17-3zm44 1zm-67 15zm-19-7zm-37 4zm-24-4zm-41-3zm-15 15zm-95-1zm-85-7zm-16 11zm-13-7zm-5-10zm-8-2zm-16 12zm-42-10zm-3 10zm-28-2zm-12-4zm-43 6zm-23-7zm-35-4zm-74 16zm-94 2zm-22-11zm-73 2zm-67 16zm43-3zm13-3zm80 2zm10 3zm29-2zm1 16zm52-10zm98-4zm8 1zm55 0zm12 12zm20-8zm13-9zm8 0zm59 12zm39-13zm56 16zm59-3zm85-5zm1 6zm69-4zm21-5zm133-5zm-6 27zm-37-6zm-55 12zm-24-6zm-60 1zm-46-3zm-13 9zm-22-3zm-25-9zm-7 5zm-80-6zm-62 15zm-48-11zm-40-1zm-13-4zm-26 10zm-22-6zm-44 13zm-22-4zm-6-6zm-94 10zm-123-14zm-8 2zm-58-2zm-36 20zm32 15zm6-8zm81 0zm17 1zm3-8zm81 5zm48 2zm8-7zm14 11zm48-12zm73 7zm22 2zm1-8zm6 4zm36-6zm45 13zm149 2zm16-10zm59-4zm29 13zm57 4zm1-18zm4 13zm65-6zm64 0zm6 24zm-6-9zm-19 13zm-22-3zm-16 0zm-82-12zm-69 8zm-20-7zm-83 4zm-21-3zm-73 6zm-19 6zm-58 2zm-106-3zm-73-7zm-54-7zm-75 11zm-71 4zm-11-3zm-39-5zm-29-1zm-2 7zm-13 24zm20-15zm24 9zm17 8zm41-5zm98-9zm9-2zm28 14zm15-5zm43 2zm19 3zm116-6zm36-8zm44 4zm38 10zm18-5zm103 3zm28-2zm53 0zm22 5zm34-7zm5-7zm15 14zm9 0zm76-13zm9-1zm-25 22zm-7-2zm-124 15zm-7-6zm-9-3zm-61-4zm-10 7zm-43-5zm-10 6zm-2-10zm-156 6zm-26-6zm-42 7zm-2-11zm-52 9zm-11 9zm-26-6zm-28-4zm-30 2zm-71 7zm-69-8zm-120 29zm58-14zm60 7zm45-2zm12 5zm94-1zm17-4zm3 10zm14-1zm7-2zm9-5zm53-6zm159 11zm46-15zm57 6zm36-6zm7 16zm27-6zm77-10zm14 13zm7 2zm38-5zm134 7zm-13 2zm-23 12zm-192-8zm-16 10zm-21-2zm-30 0zm-2-9zm-6 11zm-15-14zm-57 19zm-33-8zm-12 3zm-93-11zm-32 4zm-24 10zm-22-16zm-6 1zm-44 5zm-24 10zm-26-11zm-25 13zm-37-13zm-40 11zm-11-7zm-10-8zm-47 14zm-95-1zm7 22zm36-2zm7-8zm2 7zm8 5zm12-10zm38 3zm1-6zm15 2zm9 8zm108 0zm9-11zm14-1zm1 10zm174 1zm8-7zm53 4zm22-1zm14 1zm103 1zm49 0zm44-3zm51 2zm9 6zm76-1zm13-14zm-152 20zm-74 15zm-94-6zm-12 1zm-122 2zm-63 3zm-12-3zm-41-2zm-78-4zm-3 9zm-25 0zm-33-16zm-24 7zm-7 8zm-135 2zm-4-7zm18 18zm57 2zm8-3zm47 9zm29-6zm25-10zm19 4zm55 3zm41 0zm20 1zm41 4zm32 5zm16-14zm6 12zm11-4zm114-6zm16-2zm12 4zm81 7zm37 0zm76-1zm124 3zm50-17zm8-1zm-2 26zm-27 11zm-32-13zm-24-2zm-44 11zm-123 1zm-50 0zm-48-4zm-17-9zm-4 9zm-54 2zm-17-10zm-27 6zm-35 4zm-115 2zm-11-12zm-8 9zm-25 6zm-2-17zm-1 7zm-92 7zm-24-10zm-79 1zm-46 0zm-6-1zm-30 6zm-9 1zm-10 6zm55 18zm7-9zm59-4zm145 15zm53-3zm11-10zm13 8zm106-7zm6 0zm111 0zm19 11zm23-15zm13-1zm67 10zm17-3zm74 12zm29-4zm71-3zm27 1zm11-6zm37 4zm8 5zm7 0zm-15 22zm-16-8zm-36 7zm-12-11zm-24 10zm-27-2zm-41-5zm-56-8zm-31 13zm-15 1zm-12-4zm-52-1zm-36-3zm-18-1zm-48 12zm-4-7zm-15 5zm-71-9zm-29 6zm-7 0zm-54 6zm-72 0zm-57-10zm-74 7zm-6 2zm-36-6zm-64-4zm-28 0zm131 23zm5-7zm16 10zm70-2zm157-3zm67-5zm6 14zm76-5zm13 6zm34-15zm1 7zm13-5zm22 5zm58 6zm102 0zm22-1zm52-11zm19 10zm78 11zm-86 4zm-205-5zm-72-3zm-64 0zm-27 2zm-5 3zm-152 4zm-159-4zm-25-2zm-15 1zm-36-3zm-43 3zm-47-6z" stroke="#000" stroke-width="3.6" stroke-linecap="round" fill="none"/><path transform="scale(.5)" d="M2006 1456zm22 2zm5 1zm51-4zm50 0zm58-1zm18 2zm9 2zm62-2zm3-2zm13-1zm31 6zm38-6zm25 1zm36 3zm54-1zm1-1zm36 4zm6-5zm20 2zm76 1zm47 0zm41 1zm5-4zm54 3zm36-4zm22 3zm27 1zm24 0zm3 1zm6-3zm103 3zm-9 5zm-4-2zm-5 10zm-10 1zm-9-8zm-6 4zm-32-4zm-4 6zm-10-3zm-39 10zm-7-13zm-4 15zm-12-13zm0 0zm-1 10zm0 2zm-4-6zm-4-10zm-6 5zm-18 1zm-2 3zm-16-7zm-29 0zm-8 7zm-14-2zm-2 6zm0-2zm-38 3zm-23-10zm-2 13zm-6-19zm-8 0zm-12 7zm-1 2zm-4 3zm-5-4zm-12-8zm-3 17zm-18-16zm-9 1zm-14 2zm-5 15zm-8-5zm-14 1zm-18-13zm-7 17zm-1-4zm-12 3zm-16-4zm-8-3zm-22 0zm-5 6zm-5 1zm-23-12zm-23-1zm-15-5zm-2 0zm-10 9zm-5-8zm-6 10zm-4 7zm-2-17zm0 7zm-2 2zm-1 1zm-8 6zm-1-14zm-9 9zm-23 5zm-6 0zm-5-11zm-31 4zm-1-5zm-4 7zm-3-8zm-17-1zm-4-1zm-8 2zm-4 7zm-10 7zm-4-7zm-7-4zm-3-3zm-49-3zm-8 12zm-3-10zm-16 3zm-1 7zm-6 1zm-3-5zm-13 1zm0-5zm-3 13zm-9-6zm-15-8zm-5 14zm-9-11zm-12 10zm-1 1zm-9-6zm-27-4zm-3-2zm-4 6zm-1-8zm-12 31zm38-5zm2 3zm0-1zm8-7zm8 13zm4-17zm5 13zm5-2zm10-1zm8-5zm6 13zm12-1zm18-5zm10-8zm4 8zm15-2zm23-1zm3 1zm10 0zm6 8zm4-5zm0-9zm10 1zm9-5zm1 14zm2-10zm7 3zm1-8zm10 11zm3-5zm8 5zm38-10zm11 2zm2 16zm1-2zm11-8zm2 6zm19-8zm38 6zm5 6zm28-1zm1-5zm13-6zm14 10zm3-12zm2 4zm52-6zm2-3zm17 5zm1 5zm6-1zm16 10zm3-18zm22 12zm2 3zm23-11zm24 10zm9-4zm3 7zm3-14zm27 15zm3-7zm16-12zm18 16zm1-4zm7-7zm0-5zm4 16zm6-11zm19-5zm6 9zm29 3zm13-6zm1-5zm2 1zm7 11zm2-6zm17-5zm13 2zm5-2zm15 10zm2 2zm19-11zm11 13zm2 2zm1-17zm24 8zm2-4zm0 10zm2 2zm6-13zm0 6zm2 9zm8-4zm14 0zm5 3zm25 1zm10-12zm0 1zm11-5zm6-1zm-1 29zm-12 4zm-1-13zm-10 11zm-29-1zm0-8zm-18 3zm-2-1zm-3-5zm-14 1zm-9 12zm-4-3zm-1-7zm-3-4zm-41 9zm-4 4zm-14 2zm-6-3zm-5-9zm-23 1zm-5 10zm-1-5zm-30 7zm-9-11zm-7 9zm-14-9zm-34 6zm-5-8zm-11 2zm-7 11zm-2-14zm-4 1zm-1 12zm-1-1zm-21-13zm-5 1zm-7 1zm-3-3zm-33 15zm-2-11zm-1 8zm-8-9zm0 7zm-1-9zm-20 11zm-7 0zm-26-10zm-14 12zm-1-1zm-2-12zm-5 14zm-4-10zm-36 5zm0-2zm-3-2zm-1-1zm-20 8zm-2-4zm-2-2zm0 11zm-8-17zm-2 9zm-25 4zm0-5zm-33-6zm-8 14zm-2-8zm-1 9zm-1-14zm-12 8zm-13-2zm-29-4zm-22 9zm-3-9zm-7-3zm-4 0zm-10 10zm-10-6zm-1 12zm-24-3zm-28-13zm-6 6zm-6 0zm0 0zm-18 6zm-4-13zm-28 6zm-3 3zm-11-4zm-7 0zm-1-5zm-2 0zm-11 10zm-13-2zm-16-3zm-1-6zm-26 7zm-22-2zm-12 26zm4-9zm6 8zm1-6zm6-2zm2 6zm13 0zm6-5zm11 8zm3-6zm0-6zm4 1zm0-1zm5 16zm1-4zm14 1zm3 6zm5-2zm1-15zm17 15zm7 0zm1-15zm8-1zm38 3zm6 3zm7-1zm12-5zm40 17zm5-10zm7 6zm0-11zm9 12zm8-4zm26 1zm10-12zm3 19zm1-12zm10 1zm2 10zm2-15zm2 4zm5-3zm7 6zm1 7zm20 2zm0-1zm7-1zm1-7zm11-9zm6 6zm22 12zm3 0zm1-4zm8-7zm1 1zm6-7zm4 6zm4-4zm1 4zm2 2zm14 5zm2-3zm7 1zm6-2zm1 8zm1-3zm0-8zm22 2zm1-2zm4-7zm4 11zm4-1zm1-9zm11 2zm7 3zm7-1zm21 1zm10 12zm2-15zm3-2zm8 7zm2 7zm17 0zm4-11zm17 5zm6-9zm32 13zm2 2zm5-15zm26 4zm8 0zm15 13zm74-14zm1 2zm4 1zm6-1zm20-6zm12 0zm1 14zm6 4zm6-15zm11 8zm6-7zm3 7zm1-4zm5 10zm2-13zm14 4zm1-1zm13 11zm2-17zm1 5zm10 3zm22 7zm3-12zm12 10zm1-12zm4 5zm4 3zm10-8zm6 7zm10-2zm16 6zm-30 10zm-10 12zm-19-13zm-12 1zm-4-3zm-30 7zm-11-5zm-25 14zm-6-15zm-8 15zm-2-13zm-10 0zm-11 10zm-27 0zm-2-7zm-1 11zm-4-8zm-12 9zm-14-17zm-19 11zm-34-1zm-19-11zm-5 6zm-8 4zm-16-7zm-2 4zm-1 2zm0-5zm-7 6zm-6-5zm-3 13zm-1-7zm-17-10zm-1 11zm-23-1zm0-9zm-17 6zm-10 10zm-5-11zm-13 2zm-8 7zm-11-9zm0 6zm-8-6zm-2 2zm-25 5zm-7-11zm-3 9zm-24-2zm-16 6zm-20-9zm-7 8zm-30 1zm-9-3zm-1 5zm-10-14zm-3-3zm-10 4zm-5 9zm-11-3zm-18-4zm-8 3zm-8 8zm-34-1zm-6-6zm-3 4zm-21-3zm-2-2zm-1 0zm-2 3zm-24-13zm-18 6zm-4 1zm-4 0zm-6 1zm-15 1zm-13 5zm-9-4zm-7-5zm-39 1zm-7-2zm-8 12zm-26 3zm-14-8zm0-4zm-2 12zm-4-8zm-10-10zm-4 0zm9 25zm16-1zm4 12zm5-17zm5 10zm4 5zm1-2zm16-9zm1-4zm5 16zm7-9zm4 0zm82-4zm4 7zm20-7zm2 7zm22 6zm28-1zm1 1zm13 1zm43-7zm3 8zm14-12zm0 3zm4-1zm11 3zm1-2zm3-4zm18 2zm0 8zm8-4zm21-2zm4 0zm2 10zm24-8zm16-2zm20-6zm1 4zm5 3zm6-9zm9 12zm5-13zm1 9zm2-3zm3 1zm1-5zm4 7zm22 5zm11-4zm6 4zm33-14zm24 8zm13-4zm7 15zm27-9zm21 1zm2-9zm7-1zm5 7zm27-8zm5 1zm2 18zm9-2zm4-7zm6 5zm22-15zm2 8zm7 8zm5-4zm1-11zm10 12zm5-8zm12 7zm4 0zm11 1zm1-7zm5 12zm14-3zm6-5zm7 0zm1 0zm4-6zm10 8zm4-4zm12 0zm2-2zm4-3zm3 12zm9-15zm5 12zm6 0zm9-5zm21-1zm2 9zm3-11zm19-3zm2 18zm1-6zm7 0zm3 3zm6-15zm16 4zm3 5zm-2 22zm-3-1zm-3 5zm-2-14zm-6 10zm-3 2zm-2-3zm-39-9zm-3 15zm-4-17zm-9 2zm-2 13zm0-15zm-10 11zm-1-8zm-8 14zm-5-16zm-10 10zm-14 2zm-3-2zm-5 1zm-8 1zm-3-11zm-8 1zm-8 4zm0-5zm-3 0zm-21-1zm-2 17zm-13-1zm-31-12zm-7 2zm-1 0zm-14-5zm-17 1zm-5 4zm-10 5zm-1 3zm-1 1zm-8-2zm-4 3zm-3-17zm-22 9zm-4 1zm-8 2zm-15 5zm-26-10zm-2 1zm-28 4zm-5-11zm-7 8zm-20-7zm-2 9zm-2 5zm-5-7zm-2 10zm-13-11zm-4-6zm-27 15zm-3-12zm-6 14zm-2-3zm-8-8zm-2 11zm-3-11zm-2-2zm-2 6zm-5 1zm-8-3zm-4 1zm-1 7zm-1-3zm-6 1zm-2-7zm-16-1zm-2 4zm-1 0zm-3 2zm-25-12zm-6 11zm-5-8zm-3-3zm-2 10zm-6-12zm-5 19zm-2-4zm-15-12zm-34 13zm-5-3zm-11-10zm-7 16zm-9-9zm-5-2zm-1 4zm-3-11zm-19 11zm-16-6zm-3-2zm-3 8zm-10-3zm-2 2zm-2-3zm-4-8zm-13 1zm-2 15zm-134-12zm-4 9zm-9-3zm-11-7zm-2 14zm-1-6zm0-4zm-1 12zm-2-1zm-19-8zm-1-2zm21 12zm19 9zm145-1zm10 1zm22-8zm13 9zm11-8zm1 4zm21 5zm4-8zm6 13zm13-14zm5 4zm4-1zm4-5zm4 14zm21-9zm9 0zm6 13zm16-1zm18-4zm34 1zm7-7zm1-1zm8 4zm55 2zm7 7zm3-2zm0-3zm24-8zm9 3zm2-7zm4-1zm11 17zm6-2zm2-10zm6-6zm4 19zm10-7zm2 3zm2-1zm23-11zm12 11zm7-9zm8-1zm9 11zm10-1zm6 3zm4-14zm8 5zm0 10zm6-7zm15-9zm7 4zm1 1zm13 7zm3 0zm6 4zm4-17zm21 3zm0 14zm12-18zm1 15zm47-6zm9-2zm3 5zm6 1zm6-10zm0 8zm16 2zm26-10zm1 10zm6-6zm9 2zm5 6zm21 3zm7 1zm0-18zm3 1zm24 8zm10 0zm10-2zm2-3zm13 11zm14 7zm-7-2zm-9 4zm-40 6zm-2 5zm-1-10zm-15 6zm-25-6zm-11 0zm-9 11zm-17-10zm-4 2zm-4 8zm-5-7zm-7-4zm-32 0zm-4 0zm-9 7zm-26 6zm-7-7zm-1-9zm-5 9zm-8 5zm-21 0zm-6-6zm-35-10zm-10 13zm-5-10zm-9-3zm-2 15zm0-15zm0 10zm-1 3zm-18-2zm-12 5zm-7 0zm-12-14zm-6 2zm-1-4zm-1 10zm-8-7zm-9-3zm-14-1zm-13 10zm-23-10zm-15 14zm-4-9zm-16 14zm-6-12zm-5 0zm-3 11zm-11-9zm-10-9zm-11 19zm-3-6zm-4-5zm-1 10zm-2-11zm-19 0zm-8 3zm-21 4zm-8-14zm-20 4zm-2 14zm-10-5zm-14-13zm-21 15zm-3-11zm-3-3zm-31 4zm-5 11zm-6-3zm-8-3zm-5 7zm-6-3zm-8-8zm-2-3zm-8 13zm-3 0zm-11 2zm-164 0zm-10 0zm-5-12zm-22 10zm-6 3zm2 5zm1 14zm7-7zm0-4zm13 10zm2 0zm6-13zm12 11zm2-9zm125 2zm1 5zm2-8zm3-3zm8 8zm16-3zm6 10zm5-5zm18-3zm2 4zm7 6zm8-15zm18 13zm4-15zm2 17zm24-8zm15 3zm12-4zm5-3zm13 0zm2 5zm4 7zm15-19zm18 19zm21-14zm21 12zm2-9zm1-8zm5 10zm7-3zm3 9zm15-8zm22-4zm15 14zm9-12zm1-2zm2-3zm8 3zm12 3zm17 6zm5 5zm6-18zm5 12zm7-10zm16-1zm12 18zm5-16zm27 1zm18 1zm1 4zm5-8zm12 15zm4-9zm25-7zm5 3zm30 12zm8-1zm9-8zm8-6zm11 6zm6 13zm9-10zm26-2zm3-4zm12 10zm1-10zm1 14zm28-1zm1-4zm1 1zm1-9zm5 8zm4-3zm5-2zm7-2zm12 0zm3 12zm31-14zm1 12zm1 1zm14-10zm1-1zm4 14zm2-2zm2-4zm6-5zm6-8zm23 18zm-2 18zm-2 1zm-2-12zm-9 10zm0-6zm-9 7zm-2-16zm-14 2zm-1 2zm-27 11zm-5 0zm-12-14zm-8 3zm-7 7zm-4-8zm-20 2zm-3 5zm-6-9zm-14 15zm-25-8zm-2-7zm-13 15zm-7 1zm-10-15zm-9 0zm-16 13zm-19-10zm-3 14zm-4-3zm-10-4zm-9 0zm-12-3zm-8 4zm-30-7zm-10 13zm-4-9zm-17-7zm-5 7zm-3-3zm-8 8zm-4-3zm-4-9zm-8 3zm0 8zm-17-8zm-13-3zm0 6zm-2 9zm-3-4zm-20 2zm-6-2zm-6-7zm-1-4zm-14-1zm-15-2zm-4 12zm-17 3zm-47 0zm-23 2zm-3-7zm-8 4zm-18-1zm-3-8zm-2-1zm-1 9zm-1 1zm-4-12zm-6 9zm-1-3zm-6 8zm-5-12zm-9 0zm-13-3zm-10 15zm-2-5zm-6-2zm-25-3zm-33 1zm-1 5zm-32 3zm-11 3zm-9-13zm-1 0zm-23 8zm-1 4zm-96 2zm-20-19zm-26 14zm-2-4zm-10 0zm-1-4zm-2-3zm-6 1zm-3 10zm16 13zm10 3zm12 3zm0-2zm3 6zm4-10zm2 11zm1-3zm10-6zm4-6zm3 10zm8-6zm5 0zm18 9zm26 2zm21-12zm0-3zm17 1zm8-2zm25-2zm8 16zm1-11zm1 13zm4-11zm3-7zm18 0zm10 8zm10-2zm3 9zm2-4zm3 7zm11-7zm1 0zm14 7zm24 1zm9-7zm4-8zm9-1zm3 16zm24-17zm0 12zm0-8zm12 8zm3-13zm5 9zm16-7zm1-2zm19 14zm4-10zm3 6zm1 3zm21-2zm9-8zm3 10zm5-10zm0-2zm34 10zm11-4zm8 4zm5 1zm9-10zm35 6zm17-8zm25 11zm4 1zm1-12zm3 7zm8-7zm6 10zm4-4zm1 0zm42-3zm9 1zm1-3zm1 6zm5-1zm1 9zm6-13zm2 10zm9-3zm9-7zm14 3zm9 10zm0-1zm5-4zm17 3zm21-5zm3-3zm6-1zm19-4zm9 7zm33-4zm10 5zm7-4zm8-2zm3-3zm7 2zm3 16zm11-1zm3-9zm19 9zm10-6zm1 4zm11-13zm18 11zm19 12zm-3 8zm-3 3zm-2-10zm-1-3zm-1-3zm-16 8zm-13 4zm-4-4zm-1-4zm-14 11zm-5 1zm-28-9zm-16 4zm-5-2zm-6 8zm-21-1zm-8-15zm-11 11zm-1 6zm-13-9zm0-8zm-48 0zm-10 9zm-24 8zm-18-8zm-16 1zm-4-10zm-8 16zm-26-1zm-32-8zm-11-2zm-2 8zm-7-3zm-11-5zm-4-1zm-3 11zm-2-7zm-5-4zm-14 4zm-3 10zm-30-5zm-12-10zm-4 14zm-7-12zm-15 0zm-8 10zm-12-8zm-5-8zm-50 2zm-35 17zm-11-12zm-21 3zm-11-5zm-39 8zm-6 5zm-8-14zm-6-3zm-1 4zm-1-3zm-14 12zm-1-10zm-7-3zm-2 18zm-6-1zm-4-6zm-10-9zm-1 1zm-3 2zm-8-5zm-16 10zm-3-4zm-4-1zm-25 12zm-23-12zm-5-1zm-6 3zm-20-8zm-3 4zm-18 6zm-13 9zm-5-3zm-17-7zm-12 10zm-8-2zm-6-6zm-15-3zm-12 6zm-9 1zm20 18zm27 5zm3-16zm11 5zm8 4zm5 1zm3 5zm9-16zm3 13zm3-14zm5 4zm5 0zm23 13zm5-6zm6 2zm14-3zm9-8zm1 5zm2 2zm11 3zm9-11zm4 9zm4-3zm3 10zm4 1zm17-15zm1 3zm4-6zm25 19zm27-15zm3 11zm7-3zm1 4zm14-9zm10-1zm12 6zm7-9zm22-1zm7-1zm4 17zm6 0zm13-3zm13-11zm2 11zm24-7zm18-4zm1 13zm9-9zm1 9zm1-2zm14-4zm3 8zm7-5zm9 0zm4-8zm0 4zm1 9zm0-12zm8-3zm3-4zm1 3zm5 6zm13 1zm1-7zm20 16zm22-4zm1-14zm21 4zm0 12zm1-5zm5 3zm1-4zm0-4zm13-5zm6 3zm56 12zm10-2zm10-8zm18 7zm1-5zm8 6zm19-11zm4-3zm9-1zm6 5zm3 11zm59-6zm11-7zm29 10zm2-12zm4 3zm2 8zm1 7zm0-6zm14-1zm33 6zm5-17zm2 1zm2 5zm2 12zm1-17zm11 16zm4-11zm4 4zm22 0zm16 24zm-2 3zm-11-1zm-5-9zm-3 7zm-6-8zm0-3zm-7 4zm-4-3zm-1-3zm-11 1zm-22 1zm-6-3zm-1 15zm-12 3zm-5-16zm-3-3zm-19 1zm0 1zm-33 5zm-1-6zm-26 11zm-53-9zm-11 10zm-1-5zm-7 4zm-7-9zm-17-3zm-5 17zm-24 0zm-15-17zm-18 19zm-7-15zm-14 14zm-6-12zm-9 3zm-13 0zm-4-4zm-13 12zm-20-8zm-3 3zm-3-12zm-6 7zm-3-1zm-2-1zm-5 12zm-17 0zm-14-2zm-12-9zm-6 3zm-20 9zm-13-15zm-8 7zm-41 2zm-43 2zm-8-11zm-2-3zm-38 5zm-1 2zm0-5zm-5 16zm-7-1zm-6 1zm-4-1zm-10-8zm-11-3zm-10 7zm-3 6zm-13-4zm-12-14zm0 10zm-21-7zm-5 3zm-9 7zm-4-8zm-6 7zm-3-10zm-14 11zm-4-10zm-1 13zm0 0zm-2-5zm-13-6zm-4 9zm-16-8zm-8 12zm-9-19zm-7 0zm-14 15zm0-15zm-6 12zm-11 1zm-2-3zm-15-7zm-8 7zm-9 1zm-3 1zm-10-5zm-3 11zm-8-8zm-4 2zm-6 15zm12 6zm9-12zm0 15zm3 2zm9-18zm6 3zm2-2zm10 13zm0-2zm5 4zm2 2zm14-14zm3 0zm9 9zm12-8zm14 3zm6-7zm2 13zm16 2zm16-5zm0-9zm4 8zm6-4zm4 2zm6 11zm35-11zm18 5zm2-8zm23-3zm19 8zm14 6zm0-3zm0-1zm14 6zm2-13zm5 1zm29 12zm20-10zm5 10zm7-10zm0-3zm7 14zm11-10zm19 9zm16-9zm21-5zm1 6zm3-2zm11 10zm7-14zm31-1zm38 0zm0 11zm2 4zm3-5zm36-1zm3-11zm14 4zm7 13zm4-15zm3 15zm8-8zm26 8zm1-4zm0-2zm16 2zm12 3zm4-15zm37 16zm5 1zm8-5zm23 1zm9-7zm1 0zm10 11zm18-5zm4 0zm7-13zm2 3zm0 6zm3 4zm5-11zm2 2zm2 3zm49 5zm21 2zm25-14zm4 1zm0-2zm9 6zm46-3zm4 16zm14 3zm-7 6zm-6 10zm-2-2zm-8-7zm-16-6zm-11 13zm-43-3zm-6-2zm-6-9zm-1 4zm-7-6zm-2 8zm-7 4zm-5 1zm-4-9zm-62 15zm-10-16zm-1 12zm-16-7zm-2 0zm-8-4zm-14-1zm-2 0zm-19 3zm-5 2zm-10 5zm-2 6zm-6-8zm-15 0zm-5 1zm-46-9zm-11 0zm-1 13zm-8-11zm-33 4zm-1 9zm-4-4zm-7 5zm-7-2zm-48-8zm-5 8zm-3 0zm-1-4zm-12-4zm0 4zm-2 5zm-7-8zm-10 6zm-11-13zm-5 5zm-7 2zm-2-8zm-2 1zm-22 15zm-2-8zm-6 9zm-50-3zm-2-9zm-3-3zm-3 4zm-12 4zm-18-5zm-7 11zm-4-11zm-1 1zm-4 4zm-5-7zm0-2zm-8 11zm-22 5zm-1-1zm-5-7zm-32-4zm-8 3zm-15-1zm-4 0zm0-2zm-5-4zm-14 2zm-17 8zm-2-12zm-27 0zm-2 13zm-12 0zm-4-9zm-5 1zm-7-2zm-7 1zm-8 3zm-1 1zm-6 7zm-4-10zm-4 11zm-9-2zm-31 4zm-1-17zm-7 14zm-4 2zm-10-3zm-3-4zm0 6zm-9-11zm-1 31zm1-11zm10 1zm1-2zm1 2zm8 12zm5-18zm18 6zm14-4zm12 4zm18 9zm3-12zm15 2zm17-4zm3 16zm1-8zm6 7zm11-12zm4 6zm24 2zm0 2zm2-15zm11 1zm3 13zm30 1zm15-11zm3 1zm8 5zm15-5zm5 8zm0 6zm0-5zm3-6zm6 3zm5 0zm1 2zm44-8zm15-4zm14 4zm1 3zm1 6zm5-7zm9 12zm6-4zm13-1zm4-6zm1 7zm15-12zm1 16zm1-18zm7 16zm6-9zm2 9zm12-3zm4-3zm3-2zm3 10zm3-1zm2-14zm11 12zm0-12zm36 3zm10 4zm4 2zm9-12zm2 7zm2-2zm10 6zm5-9zm6 13zm2-2zm2 2zm1-11zm0 3zm17-6zm13 11zm28-10zm2 11zm3 3zm32-10zm2 8zm7-12zm18 13zm8 3zm16-16zm4-3zm20 16zm8-5zm4 1zm40 5zm5-7zm7-8zm1 6zm1-5zm5 0zm8 3zm10 10zm2-13zm5 6zm1 8zm13-4zm8 3zm3-10zm15-4zm8 13zm34-4zm1-9zm7 7zm15-3zm4 10zm26-1zm8-3zm1-9zm22 8zm-10 18zm-1 0zm-29-9zm-5 16zm-15-12zm-7-2zm-3 7zm-6 9zm-1-18zm-5 2zm-8 3zm-8 7zm-8-7zm-11-1zm-17 5zm-2-1zm-25 2zm-16-4zm-26 7zm-5-5zm-1 11zm-1-8zm-8-4zm-8 7zm-37 4zm-9-9zm-2 10zm-2-13zm-31 12zm-54-13zm-2 6zm-13-5zm-14 4zm-9 4zm-1 4zm-14 1zm0-14zm-13 5zm-20-2zm-8 10zm-13-7zm-8 1zm-2-10zm0 1zm-20 13zm-5-11zm-23 10zm-8-10zm-31 6zm-5-1zm-4-9zm-10 13zm-7-1zm-4-7zm-16-3zm-1 14zm-1-9zm-10 6zm-2 4zm-27-1zm-16-6zm-36-5zm-10 7zm-3 6zm-2-13zm-12 2zm-3 0zm-27 1zm0-8zm-16 16zm-54-2zm-2 1zm-25-3zm-30-1zm-21 1zm-20-7zm-12-6zm-1 3zm-28-2zm-16 15zm2 22zm5 1zm0-10zm1-8zm5 16zm5-8zm0-5zm5 8zm6 3zm7-11zm2 10zm0-10zm2 9zm8 3zm78 1zm2-6zm3-7zm5-4zm37 1zm3 12zm4 0zm14 2zm21-5zm26 5zm0 3zm2-8zm1-4zm0 10zm4-3zm2-11zm37 15zm19-4zm27-4zm3 6zm9-3zm21-4zm1 0zm20-2zm6-1zm14-2zm2 10zm2-7zm4 3zm6-2zm11-6zm1 8zm0 4zm13-1zm7 0zm10-10zm10 14zm3-7zm13-6zm15 16zm0-8zm6 0zm5-11zm2 5zm18-3zm4 12zm2-2zm2-5zm9 8zm31-9zm8 12zm6-8zm10-3zm0 9zm6-8zm10 9zm11-5zm2 1zm3-11zm65 4zm4 0zm1 3zm0 2zm12 6zm1-9zm0 8zm9 3zm21-12zm8-6zm6 10zm3 3zm15-5zm5 1zm3 2zm13 3zm3-9zm2-1zm10 5zm13 0zm2-3zm8-7zm11 18zm1-5zm14-13zm13 0zm5 17zm2-4zm15-7zm2-2zm10 14zm10-3zm14-12zm1 4zm6-1zm3-3zm3 9zm0-11zm8 17zm5-8zm2-10zm3 16zm9-2zm-4 23zm-6-15zm-5 12zm-6 5zm-4-18zm-1 18zm-1-7zm-1-1zm-1 3zm-11-4zm0-4zm-1 2zm-4 2zm-7 2zm-6-10zm-3-1zm-14 3zm-119-2zm-10 3zm-2 3zm-5 3zm-9 8zm-9-13zm-11 10zm-4-1zm-32-4zm-2-11zm-44 11zm-18 6zm-1 0zm-7 1zm-1-11zm-36 3zm-3-9zm-1 3zm-15 14zm-16-3zm-1-11zm-3 14zm-14-10zm-4 7zm-21-3zm-20-4zm-7 4zm0-5zm-14-4zm-9 13zm-4-2zm-10-3zm0 6zm-12-5zm0-1zm-2 1zm-16-3zm-9 2zm-36 1zm-8-3zm-8 5zm-8-6zm-5-5zm-7 9zm-6-1zm-13-9zm-30 11zm-7-7zm-11 13zm-9-18zm-4 4zm-3 11zm-6 2zm-10-3zm-32-15zm-26 5zm-3 2zm-13 9zm-16-9zm-33-2zm-5-4zm-11 0zm-4 9zm-4-10zm-4 5zm-4 8zm-6-5zm-10 9zm-6-7zm-13 9zm-13-1zm-9-18zm-2 4zm-17 14zm-2-6zm-4-1zm35 22zm1 1zm8-1zm18 3zm1-6zm7 2zm1-5zm0 7zm6 4zm6-6zm3-11zm8 7zm4 8zm0 2zm4-12zm5 8zm9-8zm6 3zm21-8zm3 5zm13 6zm8-5zm8-1zm12 11zm8-4zm3 1zm6-12zm1 8zm2-10zm14 1zm11 5zm0-4zm17 11zm16-13zm20 17zm7-13zm30 2zm18-4zm38-1zm5 4zm14 14zm3-18zm15 0zm19 16zm0-16zm12 10zm2-11zm9 4zm47 2zm24 0zm0 9zm6-3zm5 7zm5-15zm2 9zm2-10zm1 4zm1-3zm9 7zm1-4zm7 0zm0 4zm4-5zm13-2zm17 2zm16-2zm24 6zm8 1zm4 6zm17-7zm5 7zm15-17zm9 12zm2 6zm3-16zm5 14zm6-13zm2 6zm7-1zm9-8zm13 13zm49-1zm9-12zm6 3zm9 5zm20 4zm12 7zm0-6zm2-5zm1 3zm12-4zm17 11zm3-5zm6-1zm14 7zm12-4zm61-8zm-12 31zm-7-15zm-2 3zm-4 10zm-18-16zm-1 9zm-3-7zm-4 8zm-25-5zm-39 1zm-11 13zm-4-18zm-11-1zm-14 14zm-5-2zm-9 5zm-10-5zm-7-10zm-24 13zm-5-9zm-9 1zm-2 7zm-22-13zm-7 6zm0 4zm-15-2zm-8 2zm-7 1zm-23-7zm-9-4zm-3 15zm-10-7zm-26 7zm-2-13zm-4 3zm-26 11zm-16-6zm-13-3zm-6 9zm0-2zm-1-12zm-17 9zm-13-11zm-1 14zm-16-8zm-2-7zm-5 19zm-3-6zm-5-5zm-17-5zm-6 14zm-5-8zm-7-3zm-13 9zm-3 1zm-2-15zm-2 0zm-20 2zm-7-3zm-2 9zm-25 1zm-17 0zm-3-7zm-4 13zm-9-3zm-25-8zm-20 14zm-6-4zm-7-4zm-3-5zm-22 11zm-4-10zm-10 9zm-5-8zm-27-3zm-25 11zm-10-5zm-16-1zm-3 1zm-3 2zm-27-10zm-6 8zm-4-9zm-2 14zm-4-16zm-10 14zm-8-7zm-1 0zm-24-3zm-8-3zm-3 7zm-22-7zm-3 14zm-2-9zm-21 7zm-5 6zm-5-17zm-8 25zm10 2zm25 10zm5-5zm14 4zm10-4zm13 2zm6-8zm23-1zm2-1zm8-1zm10 3zm10 7zm16-3zm3-4zm1 11zm10-18zm1 13zm11-3zm17 5zm2 2zm0-4zm16 1zm0-1zm15 4zm2-14zm3 10zm6-8zm7-6zm19 5zm4 4zm2 6zm6-3zm2-3zm1 4zm8-12zm16 14zm26-2zm17-3zm4 5zm19-9zm25 3zm7 1zm4-8zm12 14zm27-7zm19 4zm1 6zm8-11zm0-7zm13 18zm1-9zm27 3zm7-10zm2 15zm3-5zm13-10zm30 7zm4-9zm1 5zm4 11zm4-8zm5 7zm7-9zm4-6zm26 1zm42 3zm14 14zm4-4zm6-10zm1 9zm1 2zm2-5zm2 6zm6-17zm13 18zm6-3zm7 4zm5-5zm12-8zm8-2zm5 3zm26 3zm5 0zm15 7zm6-17zm3 11zm26-9zm5 5zm13 3zm8-9zm27 5zm23 2zm3 9zm19-9zm13-4zm16-3zm0 7zm-16 22zm-1 4zm-7-7zm-15-7zm-14 17zm-9-10zm-2 10zm-20-8zm-43 1zm-7 8zm-13-7zm-2-1zm-2 1zm-3-6zm-5 14zm-8-8zm-6-8zm-5 1zm-5 13zm-6-2zm-2-11zm-5 13zm-2-8zm-9 9zm-1-6zm-8-3zm-13 9zm-9-18zm-13 14zm-2-9zm-7 8zm-6 0zm-33 4zm-1 1zm-15-17zm-2 11zm-3-10zm-13 13zm-14 4zm-5-13zm-9 11zm-11-3zm-11 3zm-2-13zm-4-4zm-20 0zm-3 19zm-4-7zm-3 5zm-13-12zm-1 13zm0-11zm-3 10zm-21-6zm-2-3zm-18 8zm-6-7zm-2 4zm-2-8zm-21 1zm-1-2zm-6 9zm-2-2zm-2-1zm-9 9zm-4-1zm-11-11zm-2-6zm-2 11zm-13-12zm-1 15zm-24-6zm-1 10zm-7-2zm-8-2zm-8-9zm-7-4zm-4 1zm-2 14zm-6-17zm-24 12zm-9-12zm-40 18zm-5 1zm-9-1zm-5-6zm-5 7zm-3-8zm-10-10zm-18 1zm-15 5zm0 1zm-1 0zm-6-2zm-3 7zm-53-13zm-12 5zm-44 3zm-1-8zm-1 11zm-1 4zm-8-11zm-3 6zm-15 6zm-5-8zm0 8zm-3-4zm-3 5zm-38-8zm5 17zm17 10zm25-4zm17-8zm18 15zm1-15zm22 8zm12-4zm47 11zm4-13zm20 10zm27-8zm6 7zm4-11zm4 8zm3-2zm6-4zm13 12zm5-3zm19-8zm11 2zm1-8zm4 2zm0-3zm6 17zm1-14zm0 2zm26 3zm2 10zm11-15zm1 9zm5 6zm1-5zm12-3zm12-7zm13 11zm8 0zm24-6zm5 1zm8-9zm6 18zm2-9zm13 3zm7-6zm6 10zm18-5zm1 6zm4-4zm3-8zm2-5zm2 14zm3-6zm3 5zm1 3zm22-3zm13 6zm7-5zm4-4zm23 7zm5-2zm8-13zm5 7zm17-1zm20-3zm21 11zm11 0zm11-14zm1 9zm0 6zm29 1zm23-18zm11 15zm1-4zm7-6zm3 0zm21 8zm4-1zm15-5zm3 1zm2-6zm4 1zm10 5zm8-6zm12 8zm2 0zm20 0zm15-8zm4 15zm1-13zm15 3zm3-5zm9 12zm22-14zm3 15zm22-9zm5 10zm6-8zm8 5zm8 6zm6-10zm3-2zm9 14zm-12 13zm-1 4zm-7-15zm-2 15zm0-8zm-3 9zm-5-12zm-9 0zm-31 1zm-1-8zm-8 10zm-32 1zm-2 5zm-3-8zm-6 6zm-2-13zm-5 13zm-32-5zm-7-6zm-26 7zm-13 9zm-38-15zm-11 7zm-3-11zm-7 9zm-6-8zm-16 9zm-1 7zm-19-6zm-13 4zm-7 2zm-3-9zm0 5zm-7-3zm-6 9zm-1-4zm-5-1zm0-2zm-1-12zm-3 2zm-25 17zm-9-14zm-64-2zm-21 14zm-22-12zm-4-5zm-2 3zm-9 15zm-30-10zm0 2zm-14-3zm-18-4zm-2 8zm-10 2zm-13-8zm-5-2zm-13 7zm-4-9zm-7 17zm-31-15zm-3 12zm-16 4zm-29-10zm-21 4zm-6-11zm-2 3zm-17 4zm-5-2zm-1 4zm-2-1zm-22 2zm-4-2zm-14 7zm-4-13zm-12 5zm-4-6zm-24-1zm-8 15zm-15-14zm-10 10zm-7-1zm-17-11zm-23 18zm0-12zm-11 4zm-36 1zm-11 7zm-2-4zm-1 10zm9 7zm41-6zm12-1zm4-2zm7-1zm0 16zm6-15zm1 3zm9 6zm9-2zm25 9zm8-10zm1-5zm14 9zm10 5zm21-16zm7 16zm1-5zm1 0zm2 5zm5-11zm12 8zm23-5zm0-10zm13 6zm24 5zm6-6zm6 8zm5-11zm43 15zm21-14zm6 4zm13 6zm38-8zm1 2zm2 7zm18-3zm6-4zm1 2zm12-4zm10-1zm5 2zm0 5zm4-8zm15 4zm4 7zm6 4zm36-14zm17 5zm1-1zm2-2zm7 11zm34-3zm10-2zm10-1zm2-9zm13 14zm19-1zm0-5zm1-10zm3 13zm29-11zm9 0zm5 2zm4 3zm5-1zm1 11zm1-4zm3 3zm17-10zm3 0zm0 9zm2 4zm7-5zm10-8zm20-5zm2 18zm4-12zm9 3zm12-5zm9 10zm12 2zm8 0zm2-15zm5 0zm2 2zm5 7zm2-1zm3 8zm3-17zm4-1zm21 11zm19-10zm3 5zm11-1zm3 10zm1-13zm2 4zm11 2zm7 3zm3 1zm45-1zm12-3zm-2 30zm-5 1zm-1-6zm-5 3zm-5-4zm-13-1zm-17-1zm-6-5zm-3 8zm-7-3zm-7 9zm0-7zm-8-3zm-7 8zm-9-6zm-39-2zm0-4zm-49 1zm-5 10zm-8 0zm-15 3zm-9-19zm-13 14zm-35-4zm-2-2zm-1 10zm-7 1zm0-13zm-3 1zm0-5zm-6 13zm-1-10zm-7-1zm0 7zm-7-9zm-1 15zm-10 2zm-11-3zm-3 1zm-23-16zm-10 8zm-3 4zm-11-7zm-1 5zm-3-8zm-1 5zm-14-5zm-26 5zm-1 0zm-2-7zm-18 14zm-8-13zm-7 10zm-3-8zm-14-2zm-4-2zm-16 5zm-9 13zm-5-16zm-14 12zm-25-7zm-1 9zm-36 0zm-27-5zm-8 2zm0-2zm-27-8zm-22 4zm-9 12zm-13-15zm-27 7zm-4-10zm-5 16zm-16 1zm0-7zm-26 7zm-12-5zm-3-2zm-36 6zm0-2zm-11-12zm-3-3zm-43 15zm-2-8zm-1 8zm-4-2zm-27-5zm0-4zm-16 15zm-2-14zm-5 14zm-14-11zm-1 10zm-1 0zm-18-15zm-1 2zm-4 0zm-2 12zm16 10zm5 0zm1 3zm18 6zm2-8zm5-3zm5 2zm2 6zm2 2zm3-10zm27 8zm13 1zm4-9zm7 9zm3-1zm14-6zm2 6zm11-1zm28-2zm6 1zm15 2zm38 3zm28-2zm1-5zm1 2zm2-1zm2 9zm10-14zm1 3zm12 7zm8 4zm2-10zm3-3zm1 7zm4-1zm6 0zm7 7zm13-17zm6 14zm1-13zm16 9zm7 1zm10-8zm6 14zm28-17zm2 8zm7 1zm5-5zm2 10zm14-1zm16-12zm2 11zm7-12zm32 8zm10-9zm3 16zm9 0zm4-5zm4-11zm15 14zm8 1zm0-6zm5 5zm4-2zm8 0zm16-1zm7-1zm16 2zm0 2zm1-5zm14 2zm20 0zm8-10zm7 6zm22 6zm5-8zm3 8zm28-12zm12 1zm7 16zm13-18zm35 16zm2-14zm1 12zm19 1zm7 2zm11-15zm4-2zm8-1zm9 6zm19-5zm29 9zm4 6zm16-7zm7 3zm2-2zm5-5zm3-3zm19 8zm1 3zm7 2zm10-5zm1 1zm13 1zm4-4zm-21 25zm-24-11zm0 10zm-3-10zm-9 1zm-2 7zm-21-5zm-5 14zm-15-18zm-49 13zm-11 1zm-2-12zm-2 9zm-13 2zm-5 2zm-12-16zm-2 8zm-6-2zm-2 7zm-6 0zm-11-5zm-18-7zm-8 6zm-4 3zm-15 3zm-39-9zm-10 3zm-6 5zm-16-9zm-3 0zm-29 2zm-1 13zm0-2zm-8-16zm-16 11zm0-6zm-12 14zm-20-6zm-3 5zm-16-6zm-4 3zm-6-3zm-22-1zm0 5zm0 3zm-13-14zm-7 7zm-7-8zm-2 3zm-3 4zm-3 8zm-1-16zm-3 10zm-3-10zm-13 0zm0 15zm-6-13zm-15 8zm-14-12zm-11 4zm-1 1zm-25 9zm-9-1zm-8-9zm-2 1zm-14 1zm-1 3zm-2-3zm-24 0zm-23 4zm-1 6zm0-6zm-37-7zm-5 13zm-9-4zm-4-13zm-10 1zm-6 1zm-3 13zm-16-1zm-1-9zm-13-2zm-1-3zm-13 10zm0 6zm-33-13zm-2 14zm-11 2zm-15-6zm-7-12zm-10 16zm-17-8zm-9 6zm0-13zm-12 6zm0 10zm-14-4zm-4 2zm-19-7zm-16 0zm-5 21zm1 4zm5 4zm1-13zm5 7zm10 4zm11-14zm2 12zm24-1zm23-13zm6 8zm8-3zm3 4zm2 3zm11 3zm30-7zm34-7zm24 10zm8-5zm13-1zm6 1zm3-2zm6 7zm6 8zm9-14zm9 10zm3 3zm20-17zm2 18zm1-6zm5-4zm23-7zm8 3zm7 6zm18-9zm0 11zm1 3zm5-10zm1 11zm4-11zm22 4zm19 0zm5-9zm3 6zm6-1zm5 8zm2-3zm25-1zm15 2zm3 4zm19-6zm16 4zm7 4zm21-13zm11 8zm17 6zm1-13zm2 10zm23-3zm1-4zm2-6zm28-3zm1 2zm6 2zm7 8zm5-12zm6 14zm0-12zm2 5zm28-7zm27 17zm35-15zm2 13zm3 4zm5-8zm7-2zm4-2zm12 4zm18 4zm23-4zm38 4zm1-4zm4 8zm8-9zm5 5zm5-11zm0-2zm3 6zm3-4zm8 6zm16-3zm0-5zm5 17zm5-4zm3-13zm9 12zm24 5zm3-14zm3 2zm17-2zm8 11zm9-5zm5 6zm-9 6zm-29 3zm-11-5zm-6 7zm-28 0zm-3-6zm-3 1zm-12 2zm-3 0zm-4 2zm-27 3zm-22-6zm-34 5zm-5-7zm-28 3zm0-4zm-10 5zm-11 2zm-13-3zm-18 2zm-18 2zm-5-1zm-11-1zm-6 0zm-5-6zm-24-1zm-5 0zm-20 1zm-17 5zm-11-3zm-1 3zm-9-5zm-5 9zm-31-7zm-31-3zm-5 2zm-6 2zm-11 4zm-4-8zm-15 5zm-3-3zm-7-1zm-15 1zm-8 7zm-13-5zm-15 3zm-31-7zm-3 9zm-30-4zm-5 6zm-8-8zm-3 5zm-11 1zm-40-3zm-3 4zm-20-2zm-1-8zm-2 0zm-9 7zm-5-2zm-5-3zm-5 4zm-35-4zm-7 0zm-12 3zm-45-4zm-7 9zm-4-9zm-45 9zm-13-1zm-24-8zm-7 8zm-17 2z" stroke="#000" stroke-width="2.6" stroke-linecap="round" fill="none"/></g></g>
<g clip-path="url(#ctr)"><rect x="1507" y="726.4" width="494" height="329" fill="#e0e0e7" filter="url(#ttr)"/><g filter="url(#b2)"><g fill="#ecf0f0" fill-opacity="0.7"><ellipse cx="1963.9" cy="1038.5" rx="8.2" ry="2.1" transform="rotate(150 1963.9 1038.5)"/><ellipse cx="1947.9" cy="753.9" rx="9.4" ry="1.6" transform="rotate(14 1947.9 753.9)"/><ellipse cx="1799.5" cy="865.8" rx="9.7" ry="2.5" transform="rotate(42 1799.5 865.8)"/><ellipse cx="1768.9" cy="769.3" rx="9.3" ry="2.7" transform="rotate(80 1768.9 769.3)"/><ellipse cx="1601.8" cy="872.7" rx="7.2" ry="4.2" transform="rotate(67 1601.8 872.7)"/><ellipse cx="1616.2" cy="876.1" rx="8.5" ry="3.9" transform="rotate(156 1616.2 876.1)"/><ellipse cx="1519.2" cy="754.6" rx="7.9" ry="1.8" transform="rotate(31 1519.2 754.6)"/><ellipse cx="1857.7" cy="865" rx="8.3" ry="2.5" transform="rotate(14 1857.7 865)"/><ellipse cx="1760.2" cy="968" rx="10.2" ry="2.9" transform="rotate(124 1760.2 968)"/><ellipse cx="1684.3" cy="745.3" rx="9.6" ry="2.5" transform="rotate(94 1684.3 745.3)"/><ellipse cx="1893.9" cy="920.2" rx="9.6" ry="1.7" transform="rotate(15 1893.9 920.2)"/><ellipse cx="1832" cy="930.7" rx="14.2" ry="2.6" transform="rotate(89 1832 930.7)"/><ellipse cx="1986.5" cy="845.8" rx="12.1" ry="2.7" transform="rotate(108 1986.5 845.8)"/><ellipse cx="1882.3" cy="847.7" rx="6.8" ry="2.4" transform="rotate(62 1882.3 847.7)"/><ellipse cx="1789.6" cy="943.7" rx="9.9" ry="1.7" transform="rotate(61 1789.6 943.7)"/><ellipse cx="1662.3" cy="754.6" rx="7.9" ry="2.4" transform="rotate(146 1662.3 754.6)"/><ellipse cx="1741.2" cy="962.6" rx="9.2" ry="2.4" transform="rotate(45 1741.2 962.6)"/><ellipse cx="1824.3" cy="786.3" rx="5.6" ry="2.8" transform="rotate(39 1824.3 786.3)"/><ellipse cx="1595.2" cy="832.8" rx="9.1" ry="1.7" transform="rotate(90 1595.2 832.8)"/><ellipse cx="1910" cy="790.8" rx="6.3" ry="1.8" transform="rotate(21 1910 790.8)"/><ellipse cx="1563.5" cy="758.8" rx="9.1" ry="2.7" transform="rotate(154 1563.5 758.8)"/><ellipse cx="1526.2" cy="817.1" rx="9.1" ry="1.7" transform="rotate(44 1526.2 817.1)"/><ellipse cx="1790" cy="996.4" rx="13.3" ry="3.1" transform="rotate(7 1790 996.4)"/><ellipse cx="1670.4" cy="848" rx="9.5" ry="3.6" transform="rotate(65 1670.4 848)"/><ellipse cx="1649.5" cy="826.7" rx="8.1" ry="1.5" transform="rotate(16 1649.5 826.7)"/><ellipse cx="1891.1" cy="907" rx="9.9" ry="3.1" transform="rotate(122 1891.1 907)"/><ellipse cx="1634.7" cy="761.6" rx="5.6" ry="2.9" transform="rotate(164 1634.7 761.6)"/><ellipse cx="1894.2" cy="959.1" rx="8" ry="3.5" transform="rotate(175 1894.2 959.1)"/><ellipse cx="1916.3" cy="804.7" rx="9.4" ry="4.1" transform="rotate(3 1916.3 804.7)"/><ellipse cx="1776.5" cy="1028.7" rx="7.5" ry="3.5" transform="rotate(131 1776.5 1028.7)"/><ellipse cx="1799.8" cy="1037.5" rx="10" ry="2.2" transform="rotate(102 1799.8 1037.5)"/><ellipse cx="1589.6" cy="1047.2" rx="13" ry="2.5" transform="rotate(108 1589.6 1047.2)"/><ellipse cx="1534.6" cy="863.3" rx="8.6" ry="3" transform="rotate(24 1534.6 863.3)"/><ellipse cx="1518.5" cy="992.7" rx="7.7" ry="1.4" transform="rotate(37 1518.5 992.7)"/><ellipse cx="1846.5" cy="1046.8" rx="7.5" ry="2.7" transform="rotate(111 1846.5 1046.8)"/><ellipse cx="1904.7" cy="1038.6" rx="11.3" ry="2.1" transform="rotate(78 1904.7 1038.6)"/><ellipse cx="1773.1" cy="1051.5" rx="8.9" ry="2" transform="rotate(134 1773.1 1051.5)"/><ellipse cx="1602.5" cy="751.4" rx="10.4" ry="3.7" transform="rotate(159 1602.5 751.4)"/><ellipse cx="1737.2" cy="791.1" rx="16" ry="2.6" transform="rotate(23 1737.2 791.1)"/><ellipse cx="1613.7" cy="760.5" rx="9.7" ry="1.9" transform="rotate(149 1613.7 760.5)"/><ellipse cx="1768.3" cy="782.2" rx="5.6" ry="1.8" transform="rotate(130 1768.3 782.2)"/><ellipse cx="1775.6" cy="993.8" rx="11" ry="2.9" transform="rotate(37 1775.6 993.8)"/><ellipse cx="1632" cy="865.2" rx="6.1" ry="3.2" transform="rotate(56 1632 865.2)"/><ellipse cx="1952" cy="872.7" rx="10.3" ry="2" transform="rotate(106 1952 872.7)"/><ellipse cx="1676.3" cy="1020" rx="7.1" ry="2.8" transform="rotate(56 1676.3 1020)"/><ellipse cx="1909" cy="1020.9" rx="9.8" ry="2.9" transform="rotate(31 1909 1020.9)"/><ellipse cx="1849.4" cy="999.4" rx="11.7" ry="3" transform="rotate(174 1849.4 999.4)"/><ellipse cx="1822.9" cy="804.8" rx="10" ry="2.4" transform="rotate(76 1822.9 804.8)"/><ellipse cx="1652.9" cy="861.2" rx="12.3" ry="2.1" transform="rotate(176 1652.9 861.2)"/><ellipse cx="1560.6" cy="934.1" rx="9.7" ry="2.9" transform="rotate(11 1560.6 934.1)"/></g></g><g filter="url(#b1)"><g fill="#a9b8d5" fill-opacity="0.85"><ellipse cx="1925.5" cy="854.1" rx="8.6" ry="6.5" transform="rotate(126 1925.5 854.1)"/><ellipse cx="1694.8" cy="740.8" rx="7.6" ry="5.2" transform="rotate(112 1694.8 740.8)"/><ellipse cx="1519.2" cy="853.8" rx="7.1" ry="5.6" transform="rotate(40 1519.2 853.8)"/><ellipse cx="1993.3" cy="972.5" rx="7.2" ry="5.2" transform="rotate(9 1993.3 972.5)"/><ellipse cx="1859.2" cy="948" rx="7.3" ry="8" transform="rotate(102 1859.2 948)"/><ellipse cx="1639.5" cy="778.6" rx="8.5" ry="6.1" transform="rotate(39 1639.5 778.6)"/><ellipse cx="1805.6" cy="742.9" rx="5.8" ry="5.7" transform="rotate(40 1805.6 742.9)"/><ellipse cx="1798.4" cy="895.8" rx="5.4" ry="7.9" transform="rotate(16 1798.4 895.8)"/><ellipse cx="1775.4" cy="762.5" rx="5.6" ry="8.6" transform="rotate(47 1775.4 762.5)"/><ellipse cx="1536.1" cy="881.8" rx="5.3" ry="7.9" transform="rotate(145 1536.1 881.8)"/><ellipse cx="1575.4" cy="938.9" rx="6.2" ry="9.8" transform="rotate(145 1575.4 938.9)"/><ellipse cx="1658" cy="931.8" rx="6.5" ry="5.4" transform="rotate(10 1658 931.8)"/><ellipse cx="1880.1" cy="927" rx="8.8" ry="6.2" transform="rotate(46 1880.1 927)"/><ellipse cx="1769.9" cy="788.3" rx="5.5" ry="6.4" transform="rotate(154 1769.9 788.3)"/><ellipse cx="1677" cy="1052.9" rx="6.3" ry="8.8" transform="rotate(162 1677 1052.9)"/><ellipse cx="1637.4" cy="817.8" rx="8.8" ry="6.1" transform="rotate(175 1637.4 817.8)"/><ellipse cx="1750.6" cy="906.5" rx="6.5" ry="5.4" transform="rotate(4 1750.6 906.5)"/><ellipse cx="1900.5" cy="821.5" rx="6.1" ry="5.9" transform="rotate(41 1900.5 821.5)"/><ellipse cx="1987.3" cy="728.9" rx="5.7" ry="6.4" transform="rotate(82 1987.3 728.9)"/><ellipse cx="1900.3" cy="914.5" rx="8.1" ry="7.5" transform="rotate(100 1900.3 914.5)"/><ellipse cx="1956.2" cy="773.3" rx="6.3" ry="8.5" transform="rotate(144 1956.2 773.3)"/><ellipse cx="1849.4" cy="1042.5" rx="8.4" ry="6.5" transform="rotate(81 1849.4 1042.5)"/><ellipse cx="1838.2" cy="759.5" rx="5.6" ry="8.4" transform="rotate(82 1838.2 759.5)"/><ellipse cx="1966.2" cy="1050.1" rx="8.5" ry="5.9" transform="rotate(161 1966.2 1050.1)"/><ellipse cx="1557.8" cy="1001.8" rx="7.1" ry="5.7" transform="rotate(154 1557.8 1001.8)"/><ellipse cx="1542" cy="749" rx="8.5" ry="7.3" transform="rotate(59 1542 749)"/><ellipse cx="1902.9" cy="965.5" rx="6" ry="9.8" transform="rotate(102 1902.9 965.5)"/><ellipse cx="1984.4" cy="935.6" rx="7.8" ry="5.7" transform="rotate(111 1984.4 935.6)"/><ellipse cx="1759.9" cy="813.6" rx="5.1" ry="7" transform="rotate(6 1759.9 813.6)"/><ellipse cx="1790.7" cy="1057.8" rx="8.3" ry="6.6" transform="rotate(67 1790.7 1057.8)"/><ellipse cx="1827.9" cy="1018.2" rx="6.2" ry="5.9" transform="rotate(35 1827.9 1018.2)"/><ellipse cx="1870.8" cy="745.4" rx="6.3" ry="7.3" transform="rotate(57 1870.8 745.4)"/><ellipse cx="1915.4" cy="781.1" rx="6.4" ry="8.1" transform="rotate(59 1915.4 781.1)"/><ellipse cx="1611.5" cy="742.2" rx="8.3" ry="5.8" transform="rotate(27 1611.5 742.2)"/><ellipse cx="1788.9" cy="915.3" rx="5.6" ry="7" transform="rotate(56 1788.9 915.3)"/><ellipse cx="1904.2" cy="937.1" rx="7.7" ry="5.9" transform="rotate(32 1904.2 937.1)"/><ellipse cx="1680.4" cy="919.3" rx="7.1" ry="7.5" transform="rotate(102 1680.4 919.3)"/><ellipse cx="1760.3" cy="1027.9" rx="7.1" ry="6.5" transform="rotate(32 1760.3 1027.9)"/><ellipse cx="1710.8" cy="1010.7" rx="6.7" ry="7.4" transform="rotate(141 1710.8 1010.7)"/><ellipse cx="1543.2" cy="832" rx="6.7" ry="7.3" transform="rotate(177 1543.2 832)"/><ellipse cx="1840" cy="928.9" rx="4.7" ry="7.6" transform="rotate(22 1840 928.9)"/><ellipse cx="1907.3" cy="991.1" rx="5.9" ry="8.8" transform="rotate(132 1907.3 991.1)"/><ellipse cx="1574" cy="768.8" rx="5.2" ry="6.3" transform="rotate(112 1574 768.8)"/><ellipse cx="1811.3" cy="866.5" rx="5.4" ry="5.7" transform="rotate(179 1811.3 866.5)"/><ellipse cx="1757.5" cy="995.8" rx="7" ry="7.7" transform="rotate(163 1757.5 995.8)"/><ellipse cx="1801" cy="1037.4" rx="7.9" ry="6.1" transform="rotate(61 1801 1037.4)"/><ellipse cx="1636.2" cy="924.9" rx="7" ry="5.9" transform="rotate(136 1636.2 924.9)"/><ellipse cx="1981.7" cy="1031.7" rx="6.1" ry="8.5" transform="rotate(75 1981.7 1031.7)"/><ellipse cx="1566.3" cy="893.7" rx="5.6" ry="7.1" transform="rotate(20 1566.3 893.7)"/><ellipse cx="1682.3" cy="790.9" rx="6.2" ry="8.8" transform="rotate(63 1682.3 790.9)"/><ellipse cx="1754.4" cy="1054.8" rx="6" ry="5.1" transform="rotate(112 1754.4 1054.8)"/><ellipse cx="1889.2" cy="755" rx="6.8" ry="4.8" transform="rotate(179 1889.2 755)"/><ellipse cx="1626.9" cy="846.7" rx="8.4" ry="6.5" transform="rotate(126 1626.9 846.7)"/><ellipse cx="1948.1" cy="877.2" rx="5" ry="6.2" transform="rotate(42 1948.1 877.2)"/><ellipse cx="1582.4" cy="907.9" rx="5.9" ry="5.2" transform="rotate(106 1582.4 907.9)"/><ellipse cx="1626.6" cy="734.4" rx="7.1" ry="5.8" transform="rotate(42 1626.6 734.4)"/><ellipse cx="1823" cy="978.7" rx="5.2" ry="7.5" transform="rotate(42 1823 978.7)"/><ellipse cx="1727.1" cy="739.5" rx="7.6" ry="7.7" transform="rotate(132 1727.1 739.5)"/><ellipse cx="1969.6" cy="811.4" rx="8.2" ry="7.1" transform="rotate(65 1969.6 811.4)"/><ellipse cx="1874.2" cy="878.8" rx="6.5" ry="9.7" transform="rotate(74 1874.2 878.8)"/><ellipse cx="1548.6" cy="866.5" rx="8.3" ry="7.1" transform="rotate(63 1548.6 866.5)"/><ellipse cx="1705.5" cy="947.3" rx="8.4" ry="6.8" transform="rotate(130 1705.5 947.3)"/><ellipse cx="1691.7" cy="969.8" rx="6.7" ry="5.7" transform="rotate(118 1691.7 969.8)"/><ellipse cx="1589.8" cy="1019.7" rx="7.6" ry="7.6" transform="rotate(167 1589.8 1019.7)"/><ellipse cx="1934.6" cy="985.2" rx="6.4" ry="8.4" transform="rotate(104 1934.6 985.2)"/><ellipse cx="1871.4" cy="983" rx="6.3" ry="5.7" transform="rotate(58 1871.4 983)"/><ellipse cx="1817.6" cy="1048.1" rx="7.4" ry="8.6" transform="rotate(142 1817.6 1048.1)"/><ellipse cx="1652.3" cy="901" rx="7.2" ry="8" transform="rotate(106 1652.3 901)"/><ellipse cx="1822.5" cy="932" rx="5.7" ry="6.4" transform="rotate(79 1822.5 932)"/><ellipse cx="1672.9" cy="773.5" rx="7.3" ry="7.3" transform="rotate(28 1672.9 773.5)"/><ellipse cx="1507.5" cy="835.3" rx="7.2" ry="7.1" transform="rotate(94 1507.5 835.3)"/><ellipse cx="1653.3" cy="748.9" rx="7.7" ry="5.7" transform="rotate(117 1653.3 748.9)"/><ellipse cx="1746.7" cy="840.4" rx="7.2" ry="7.1" transform="rotate(72 1746.7 840.4)"/><ellipse cx="1968.7" cy="986" rx="7.1" ry="6.1" transform="rotate(78 1968.7 986)"/><ellipse cx="1640.4" cy="760.8" rx="5" ry="6.5" transform="rotate(9 1640.4 760.8)"/><ellipse cx="1809.3" cy="798.5" rx="5.3" ry="6" transform="rotate(68 1809.3 798.5)"/><ellipse cx="1998.5" cy="865.5" rx="5.8" ry="7.6" transform="rotate(41 1998.5 865.5)"/><ellipse cx="1948.6" cy="804.7" rx="6" ry="7.3" transform="rotate(46 1948.6 804.7)"/><ellipse cx="1549.2" cy="934" rx="7.5" ry="6" transform="rotate(10 1549.2 934)"/><ellipse cx="1851.2" cy="808.2" rx="5.4" ry="5.7" transform="rotate(160 1851.2 808.2)"/><ellipse cx="1997.5" cy="771.6" rx="6.7" ry="7.5" transform="rotate(175 1997.5 771.6)"/><ellipse cx="1870.9" cy="836.5" rx="8.2" ry="6.3" transform="rotate(151 1870.9 836.5)"/><ellipse cx="1930.4" cy="738.8" rx="4.8" ry="6.5" transform="rotate(142 1930.4 738.8)"/><ellipse cx="1691.1" cy="828.1" rx="7.6" ry="5.5" transform="rotate(12 1691.1 828.1)"/><ellipse cx="1938.3" cy="841.8" rx="8.3" ry="7.4" transform="rotate(74 1938.3 841.8)"/><ellipse cx="1956.2" cy="974.4" rx="7.7" ry="7.5" transform="rotate(82 1956.2 974.4)"/><ellipse cx="1870.1" cy="1007.2" rx="6.7" ry="5.3" transform="rotate(26 1870.1 1007.2)"/><ellipse cx="1917.6" cy="904.8" rx="5.1" ry="7.6" transform="rotate(2 1917.6 904.8)"/><ellipse cx="1824.8" cy="736.2" rx="5" ry="7.8" transform="rotate(84 1824.8 736.2)"/><ellipse cx="1742.6" cy="967.8" rx="5" ry="8.1" transform="rotate(83 1742.6 967.8)"/><ellipse cx="1962.4" cy="1009" rx="5.5" ry="7" transform="rotate(97 1962.4 1009)"/><ellipse cx="1723.4" cy="799.2" rx="5.1" ry="7.9" transform="rotate(167 1723.4 799.2)"/><ellipse cx="1948.3" cy="944.2" rx="7" ry="9" transform="rotate(118 1948.3 944.2)"/><ellipse cx="1944.5" cy="916.9" rx="6.2" ry="7.8" transform="rotate(96 1944.5 916.9)"/><ellipse cx="1557.2" cy="1057" rx="5.6" ry="6.8" transform="rotate(81 1557.2 1057)"/><ellipse cx="1798" cy="978.6" rx="4.9" ry="6.4" transform="rotate(177 1798 978.6)"/><ellipse cx="1605.6" cy="852.6" rx="6.9" ry="8" transform="rotate(179 1605.6 852.6)"/><ellipse cx="1502.8" cy="859.2" rx="7.3" ry="5.5" transform="rotate(58 1502.8 859.2)"/><ellipse cx="1987.1" cy="1014.9" rx="7.6" ry="7.9" transform="rotate(156 1987.1 1014.9)"/><ellipse cx="1615.4" cy="802.6" rx="5.6" ry="6.1" transform="rotate(62 1615.4 802.6)"/><ellipse cx="1823.3" cy="821.1" rx="8.7" ry="6.4" transform="rotate(24 1823.3 821.1)"/><ellipse cx="1591.1" cy="786.6" rx="5.6" ry="7.6" transform="rotate(11 1591.1 786.6)"/><ellipse cx="1961.6" cy="735.6" rx="4.7" ry="7.2" transform="rotate(54 1961.6 735.6)"/><ellipse cx="1865" cy="722.4" rx="7.7" ry="5.6" transform="rotate(117 1865 722.4)"/><ellipse cx="1666.3" cy="885.5" rx="6.9" ry="8" transform="rotate(57 1666.3 885.5)"/><ellipse cx="1549.3" cy="787.1" rx="5.8" ry="7.4" transform="rotate(3 1549.3 787.1)"/><ellipse cx="1544.3" cy="805.4" rx="7.4" ry="5.2" transform="rotate(9 1544.3 805.4)"/><ellipse cx="1572.3" cy="750.7" rx="6" ry="7.7" transform="rotate(137 1572.3 750.7)"/><ellipse cx="1910.5" cy="737" rx="5.6" ry="5.6" transform="rotate(130 1910.5 737)"/><ellipse cx="1524.9" cy="947.2" rx="5.6" ry="7.9" transform="rotate(160 1524.9 947.2)"/><ellipse cx="1505.5" cy="892.8" rx="6.6" ry="4.7" transform="rotate(147 1505.5 892.8)"/><ellipse cx="1518.6" cy="977" rx="8.9" ry="6.6" transform="rotate(66 1518.6 977)"/><ellipse cx="1984.3" cy="907.4" rx="7" ry="7.2" transform="rotate(105 1984.3 907.4)"/><ellipse cx="1837.8" cy="1004.5" rx="7.5" ry="5.6" transform="rotate(55 1837.8 1004.5)"/><ellipse cx="1747.6" cy="751.1" rx="5.6" ry="8.5" transform="rotate(10 1747.6 751.1)"/></g></g><g filter="url(#b2)"><path d="M1610.8 966.1Q1614.7 970.1 1611.4 975Q1608.1 980 1605.3 984Q1602.5 988.1 1598.9 993.2Q1595.3 998.3 1588.4 998.5Q1581.4 998.6 1576.8 995.3Q1572.2 992 1566.7 990.4Q1561.2 988.9 1559.4 984.5Q1557.6 980.2 1557.5 975.4Q1557.4 970.6 1561.9 967Q1566.3 963.5 1570.9 960.8Q1575.4 958.1 1581.1 954.3Q1586.8 950.5 1592.5 953.1Q1598.3 955.7 1602.5 958.9Q1606.8 962 1610.8 966.1Z" fill="#e3ecea"/><path d="M1630.8 961.1Q1632.2 962.8 1632.3 965.1Q1632.5 967.3 1629.9 969.2Q1627.2 971.2 1625.9 973.6Q1624.6 976 1621.3 976.6Q1618.1 977.2 1615.5 976.8Q1613 976.3 1610.6 975.8Q1608.3 975.4 1605.3 974.6Q1602.3 973.7 1602.6 971.2Q1603 968.7 1604.3 966.3Q1605.7 963.8 1608.9 962.3Q1612.1 960.8 1615 959.5Q1617.9 958.2 1620.7 958.5Q1623.6 958.8 1626.5 959Q1629.5 959.3 1630.8 961.1Z" fill="#e6ebeb"/></g><g filter="url(#dtr)"><rect x="1507" y="726.4" width="494" height="329" fill="none"/><path transform="scale(.5)" d="M3953 1465zm-97-3zm-210 4zm-64 8zm-484-5zm593 17zm-261 16zm-354 35zm172-7zm474-1zm59-5zm34 31zm-12-5zm-32 0zm-400 9zm-71-19zm-75 16zm-180 9zm144 4zm358 9zm114-7zm-3 18zm-196 3zm-415-7zm204 27zm617 8zm-527 1zm-232 16zm-40 5zm70 6zm21 9zm753-11zm-57 30zm-97-13zm-355 22zm139 3zm-367 20zm-158 5zm536 40zm-70 1zm-26-12zm-115 11zm-68-10zm227 21zm430 15zm48 3zm-228 12zm-161-6zm-349 3zm-69-6zm222 27zm86-5zm236-6zm271 31zm-412 6zm-398 9zm117 12zm496 4zm-135-2zm-580 14zm271 12zm97 10zm94-15zm150 35zm-559-4zm623 44zm46 14zm-58 15zm-112 1zm-234 2zm-140-5zm-200 5zm31 21zm497 3zm164-2zm225 19zm-469 5zm-116 25zm-347 2zm444 31z" stroke="#000" stroke-width="10.4" stroke-linecap="round" fill="none"/><path transform="scale(.5)" d="M3092 1455zm354 4zm59-6zm151 1zm11 0zm141 1zm121 0zm62 0zm-7 6zm-162-1zm-62 6zm-34 4zm-31 2zm-20 6zm-53-2zm-19-7zm-80-6zm-142 1zm-109 2zm-76-6zm-8 14zm-115-7zm-8 9zm-9-9zm-11-3zm202 29zm18-6zm66 8zm34-5zm148-3zm17-7zm40 13zm34-1zm11-8zm25 1zm151 9zm69 2zm17-8zm52-5zm59 13zm-253 4zm-7 9zm-25 5zm-14-7zm-5 11zm-29-3zm-78-15zm-82 16zm-36-2zm-44-13zm-40 2zm-41 6zm-18 1zm-187-6zm-102 19zm62-3zm41 1zm37 16zm63 1zm32-3zm189-3zm77-6zm82 1zm5 9zm77-3zm41 4zm113-5zm37-4zm81 3zm8-5zm-3 18zm-31 2zm-201 13zm-9-10zm-15-8zm-101 12zm-12 6zm-87-1zm-107-1zm-63-6zm-25-1zm-40-4zm-89 9zm-109 0zm-65 13zm58 6zm51-4zm78 6zm121-4zm59 3zm19-7zm59 6zm30 3zm16-11zm30-2zm20 3zm3 10zm27-3zm114-2zm113-1zm25-7zm2 11zm107-11zm38 8zm-113 14zm-11 1zm-236 6zm-100 3zm-253 1zm-104-4zm-30-11zm-118 26zm21 9zm320 0zm19-3zm1-14zm43 8zm109 10zm100-8zm25-9zm11 11zm176 6zm72-7zm7-9zm72 19zm-59 11zm-16 2zm-10-14zm-9 5zm-150 0zm-11 5zm-199 8zm-122-7zm-49 1zm-74 4zm-40-8zm-18 0zm-86 1zm-58 8zm-5-12zm99 18zm64 6zm70 1zm32 3zm28-5zm140-2zm0 11zm154-13zm102-2zm41 3zm25 0zm136 7zm4 17zm-21 8zm-53-11zm-9 8zm-119 4zm-1-11zm-36 9zm-25 0zm-9-6zm-42 7zm-63-10zm-46 5zm-48-11zm-141 16zm-32-15zm-17-2zm-6 19zm-47-11zm-16-4zm-25 7zm-51 2zm-104-9zm-24 21zm50 13zm20-16zm78 17zm30-13zm58 3zm73 4zm85-3zm134 0zm56-5zm166 7zm8-8zm17 3zm6 8zm52-5zm88 26zm-38-2zm-173-4zm-194-6zm-48 0zm-62 12zm-255-6zm-82-8zm-49 28zm30-8zm41 5zm77-5zm48 6zm82 2zm183-4zm82 11zm42-11zm15 8zm24 0zm6-12zm54 17zm13-19zm55 19zm10-19zm123 2zm2 11zm38-13zm-122 33zm-10 5zm-61-7zm-28-4zm-74 11zm-4-8zm-30-7zm-259-3zm-190 12zm-64-2zm-52-7zm-53 25zm17-4zm21 15zm36-18zm108 13zm39-13zm100 13zm12-6zm32 3zm21-3zm87 0zm13-5zm14 9zm75-8zm292 9zm83-5zm-9 30zm-117-14zm-43 9zm-37-5zm-27-7zm-53-1zm-148 4zm-62-2zm-90 1zm-92 1zm-50 11zm-112-12zm-14 6zm-11 4zm-34 0zm-69-12zm42 25zm165 8zm105-4zm184 3zm140-13zm138 7zm12-2zm87 11zm90-5zm-231 22zm-48-2zm-87 1zm-32-10zm-5 17zm-139-14zm-132 13zm-84 1zm-157-18zm-46 8zm-5 10zm96 10zm149 2zm54 5zm13-15zm58 17zm21-15zm63 11zm85 1zm105-2zm18-2zm31-8zm81-1zm171 0zm12 11zm-40 20zm-99 4zm-15-13zm-139-3zm-6 10zm-102-5zm-17-1zm-26 0zm-85-4zm-3 12zm-124-6zm-14-7zm-292 11zm64 15zm66 4zm98 0zm119 9zm24-5zm11-7zm12 3zm10-10zm9 11zm29-8zm85 0zm20 3zm140 0zm13 12zm69-15zm48 13zm94-14zm15 14zm10-3zm13-13zm4 13zm-60 13zm-186 10zm-33-10zm-11-5zm-120 13zm-11-3zm-85 0zm-92 3zm-34-1zm-90-10zm-9 15zm-186-15zm-31 4zm325 31zm91-5zm113-11zm34 4zm87 1zm252 5zm60 4zm2 21zm-287-4zm-47 0zm-35-1zm-113 5zm-42-4zm-58-8zm-76 10zm-280-5zm-25-9zm36 31zm12-1zm260-6zm90 13zm151-15zm3 10zm11-6zm177-6zm37 0zm66 12zm91-4zm-2 13zm-99 10zm-108-2zm-6 9zm-66-12zm-71 7zm-170-1zm-122 1zm-35-8zm-100 8zm-8 4zm-144-6zm-15 3zm-1 20zm382-7zm122-4zm53-1zm15-1zm181 15zm203-6zm22 26zm-44-3zm-59-14zm-100 2zm-37 5zm-25-2zm-3 14zm-65-14zm-33 2zm-58 6zm-152 1zm-9 3zm-137-15zm-67 9zm-10 2zm-57-3zm-10-2zm-18-8zm-10 3zm-47 11zm-9 5zm90 19zm53-8zm140-1zm24 1zm72-2zm24 2zm42-8zm265 3zm51 8zm118-8zm63 1zm-131 16zm-11-2zm-223 13zm-33-1zm-359 6zm-17-10zm-13 6zm-99-1zm-28-7zm28 26zm27-3zm78-5zm42 4zm88 9zm62-14zm59 7zm26-10zm45 19zm82-12zm17-1zm10 8zm11 4zm14-18zm16 0zm153 13zm-37 10zm-437-3zm-123 9zm-10-9zm-12 5z" stroke="#000" stroke-width="7.4" stroke-linecap="round" fill="none"/><path transform="scale(.5)" d="M3061 1455zm7 2zm46 2zm20-1zm14-4zm337 4zm132-1zm106 1zm17 1zm102-4zm99 3zm26 20zm-54-12zm0 13zm-8-1zm-11-15zm-90 6zm-22 0zm-8-3zm0 7zm-9 1zm-30 2zm-4-12zm-25 4zm-53 5zm-81 0zm-8-6zm-20-7zm-49 13zm-10 3zm-38 1zm-13-1zm-15-2zm-3-14zm-7 2zm-8 8zm-32-6zm-19 5zm-17 7zm0-15zm-35 1zm-50 0zm-13 11zm-37 0zm-54-1zm-37 7zm0-16zm-20-1zm-47 11zm-25 16zm10-2zm18 4zm8 6zm11-12zm10 1zm13 5zm9-8zm2 12zm58 3zm22-18zm23 13zm20-4zm3 9zm42 1zm8-6zm18-9zm22 14zm30-10zm13 4zm15-11zm28 6zm7-3zm28 0zm10 5zm22 4zm19-9zm8 5zm1 9zm35-6zm32 1zm28-10zm3 9zm9-10zm22 9zm14 4zm14-15zm22 12zm10 7zm25-4zm4-13zm15 12zm13-11zm39 0zm10-1zm16 16zm5-15zm23 15zm16-12zm43 1zm33 7zm26-13zm10 12zm15 0zm7-9zm18 26zm-24-7zm-17 7zm-13-4zm-29 2zm-14 9zm-21-14zm-5 7zm-9-6zm-30 1zm-12 0zm-11 0zm-47-4zm-16 6zm-31 10zm-45-12zm-23-4zm-23 4zm-13-1zm-59 14zm-6-13zm-15 8zm-7-13zm-12 0zm-6 19zm-41-7zm-30-7zm-14 7zm-13 7zm-15-9zm-11-7zm-2 9zm-13 7zm-24-13zm-10-5zm-16 14zm-25 3zm-6-12zm-12 13zm-44-2zm-4-10zm-4 9zm-12-7zm-40 6zm-28 0zm-11-1zm-16-7zm-73 8zm-16-8zm-14 16zm28 15zm5-16zm40 15zm9-13zm4 8zm18 5zm28-15zm7 7zm37 10zm37-14zm52 11zm27-6zm16-5zm41 5zm35-4zm28 5zm48-6zm25 0zm14 2zm3-6zm24 8zm22-3zm18-1zm17-5zm24 10zm10-9zm24 8zm50-7zm34 0zm7 13zm13-4zm11 8zm31-2zm27-9zm29 8zm46-9zm29-1zm17-4zm34 4zm4 16zm-3 14zm-19 3zm-63-16zm-34 14zm-3-13zm-15 10zm-20-5zm-13-4zm-29-2zm-85 13zm-14 2zm-28-4zm-5-12zm-20 10zm-3-12zm-6 15zm-44-1zm-93-12zm-24 1zm-11-1zm-35 15zm-5-13zm-17-4zm-21 18zm-70 0zm-9-5zm-15-5zm-1 9zm-36-13zm-3 15zm-36-7zm-47 3zm-23-10zm-18 8zm-52 4zm-12-14zm-25 9zm-19 7zm13 12zm36 1zm38-1zm15 7zm41-14zm1 10zm9-13zm6 7zm5 9zm17-17zm53 18zm39 1zm51-17zm5 10zm10-3zm60-4zm11 7zm15-4zm36-5zm10-2zm88 4zm28 8zm37 2zm2-11zm11 12zm73-13zm8 10zm11 5zm50-3zm33 0zm25-4zm46-1zm21 1zm12-2zm0 10zm2-19zm6 12zm10 0zm18 3zm9 4zm15-17zm1 17zm7-17zm-8 34zm-44-16zm-21 9zm-17 0zm-7-7zm-12 16zm-61 0zm-32-16zm-5 13zm-21-6zm-9 5zm-11-12zm-29 16zm-32-8zm-6-4zm-14 10zm-51 2zm-71-2zm-66-10zm-9 6zm-35 5zm-21-11zm-20-2zm-26 2zm-27 3zm-31 9zm-60 0zm-3-8zm-52-6zm-7 2zm-3 8zm-61-10zm-29 11zm-40-15zm-27 9zm-15 29zm50-5zm32-7zm45 0zm13 0zm29 3zm9 9zm1-14zm9 14zm3-15zm22-1zm3 15zm38-1zm14-15zm33 18zm0-11zm19-3zm15 11zm17-13zm41 16zm24-5zm10-10zm23 9zm14-10zm66 9zm22-4zm130 3zm26 3zm22-1zm47-3zm32-4zm8 9zm10-10zm15-4zm18 13zm18 1zm36 2zm19 2zm7-17zm7-2zm3 12zm9-2zm12 29zm-76-6zm-10 2zm-10-3zm-16 2zm-11-3zm-7-8zm-11 8zm-17-1zm-27-6zm-11 1zm-31 13zm-37-14zm-17 9zm-20 3zm-33-10zm-24-1zm-43 14zm-9-5zm-9 2zm-21-12zm-22 1zm-1 10zm-27 2zm-10-16zm-16 15zm-10-14zm-15 9zm-11-6zm-39 10zm-13-11zm-10 0zm-61 8zm-33 0zm-64 1zm-43 0zm-8-7zm-11 13zm-18-12zm-13 1zm-9-3zm-41 4zm-15 0zm-31 4zm15 8zm59 13zm12 2zm18-4zm20-1zm5-4zm12 3zm29 9zm38-6zm25-10zm11 7zm12 2zm22-6zm61 1zm48 5zm36-7zm7 3zm27 5zm33-13zm17 0zm4 18zm22-11zm10-1zm6 9zm22 3zm4-8zm9-2zm38 10zm45 0zm7-17zm53 8zm10-1zm109 3zm18-5zm34-2zm0 9zm26-11zm7-2zm44 35zm-47 0zm-14-1zm-14-7zm-41 6zm-9 3zm-40-15zm-24 0zm-7 7zm-3 9zm-38 0zm-16-13zm-28-2zm-15 1zm-31 0zm-31 14zm-11-15zm-8 0zm-22 16zm-12-17zm-24 2zm-87 15zm-6-16zm-86 8zm-40-1zm-65 5zm-42-13zm-52 17zm-33-5zm-31 0zm-27 4zm-58 7zm34 11zm4-9zm50 0zm9 4zm15-1zm21 2zm23-4zm12 4zm4 7zm42-9zm0-8zm9 12zm33-13zm8 1zm17 12zm29 4zm11-15zm19 4zm19 12zm28-11zm30 4zm1-10zm13-1zm38 7zm14 2zm17 10zm29-15zm21-3zm24 16zm10 2zm35-18zm38 17zm12-12zm1 13zm32-11zm12 11zm66-2zm95-9zm10-8zm19 10zm16-3zm17 8zm17-14zm8 20zm-14 3zm-70-2zm-10 14zm-6-8zm-74 0zm-4 6zm-25-11zm0 15zm-8 0zm-6-5zm-8 6zm-25-6zm-37 3zm-24 3zm-2-8zm-18-7zm-9 9zm-14-3zm-50-5zm-11 7zm-5-10zm-26 8zm-31 0zm-26-2zm-36-8zm-79 2zm-3 16zm-21-10zm-5 5zm-14-12zm-4 6zm-19 5zm-10 5zm-16 1zm-78-5zm-70-7zm-31 10zm-27-15zm-62 33zm8-11zm30 7zm30-5zm23 9zm8-11zm8 5zm26-8zm18 16zm1-13zm32 0zm20 1zm60 15zm25 0zm2-8zm9-7zm11 5zm33-5zm20 12zm22-12zm21 0zm16 7zm22-10zm47 7zm10 4zm0-12zm14 7zm57-2zm27 5zm10-2zm4-8zm4 8zm18 7zm10-10zm16 9zm31-8zm17-4zm30 5zm1 8zm36-7zm51 6zm6-9zm48-2zm6 16zm8-6zm17-3zm33 2zm26 7zm-33 13zm-8 5zm0-14zm-12 0zm-6 12zm-9-6zm-19 9zm-15-18zm-10 10zm-44 1zm-17 2zm-45 3zm-39-10zm0 9zm-20-12zm-6 10zm-36 3zm-1-9zm-17 10zm-5-7zm-26-4zm-29 11zm-11-5zm-24-11zm-34 3zm-1 12zm-23-8zm-8-8zm-4 8zm-21-4zm-4 8zm-55 2zm-14-4zm-18 9zm-30-14zm-36 3zm-54 3zm-41-11zm-8 3zm-7 8zm-24 1zm-73 0zm-20-10zm-11 11zm-18-9zm-28 25zm39 2zm35 2zm14-4zm14 0zm34 8zm39-11zm23-4zm14 12zm6-12zm5 13zm32 1zm34-4zm32 7zm42-9zm15-6zm67 9zm137-3zm31 7zm9-12zm34 8zm1-7zm9 4zm59-1zm11-2zm8-2zm10 6zm7-10zm12 2zm8 0zm23 3zm0 9zm48-11zm42 5zm11-2zm48 1zm13 20zm-52 3zm-45 2zm-39 6zm-22-7zm-24-4zm-39 0zm-55-1zm-72-3zm-2 10zm-10-1zm-1-8zm-7 12zm-22 2zm-31-1zm-4-10zm-8 7zm-19-3zm-65-2zm-7-8zm-13-2zm-21 11zm-37-6zm-42 1zm-8 13zm-7-7zm-11-2zm-15 7zm-26-14zm-22-3zm-55 14zm-25-4zm-31 5zm-99-13zm-9 25zm30 6zm2-13zm24 8zm32-6zm14 7zm9-4zm33 6zm78 1zm18 1zm14-6zm13 8zm50-7zm12 4zm78-3zm14 6zm32-10zm73 7zm49 2zm8-4zm5-5zm12-1zm18 10zm20 4zm9-15zm51 14zm2-10zm9 4zm34-3zm24 6zm14-9zm7 10zm12-10zm7 4zm7 8zm14 2zm49-3zm2-16zm46 17zm8-5zm-38 17zm-4 7zm-1-15zm-9 10zm-12-9zm-15 5zm-11 6zm-48 3zm-1-8zm-11 8zm-16 2zm-15-11zm-9-5zm-24 10zm-10-12zm-10 16zm-72-1zm-7 4zm-31-1zm-73-13zm-20 7zm-7 6zm-12 0zm-18-10zm-8 10zm-9-18zm-12 16zm-7-11zm-24 14zm-14-18zm-9 7zm-37 4zm-12 7zm-17-9zm-3-10zm-25 6zm-77 8zm-11 1zm-22-1zm-28-10zm-8-4zm-30 16zm-36-6zm-25 3zm-30-3zm-53 12zm56 5zm42-7zm31 10zm6-10zm53 3zm0 9zm7-9zm7 5zm11 0zm7 3zm103 7zm8-5zm7-3zm57-3zm3 11zm14-8zm6-10zm9 6zm34-3zm15-3zm31 9zm9-3zm5 5zm8-2zm7-6zm6 8zm29 7zm22-7zm34 7zm59-8zm0 7zm57-10zm0 11zm8-4zm7-13zm13 14zm3-15zm11 11zm38 5zm60-1zm35-11zm18 6zm1-7zm42 16zm5 9zm-18 7zm-10-7zm-14-1zm-2 9zm-28-6zm-4-9zm-28 6zm-10 8zm-14-10zm-10 1zm-45 4zm-32 3zm-7-10zm-27 9zm-1-10zm-9 3zm-2 11zm-16-16zm-58 19zm-19-5zm-21 1zm-14-6zm-7 4zm-6-7zm-35 7zm-7-10zm-37-1zm-19 1zm-33 11zm-35-5zm-41-2zm-15-7zm-3 8zm-6 6zm-59 3zm-18-9zm-10-3zm-10 1zm-8-2zm-16 8zm-33 3zm-10-15zm-18 18zm-9 1zm-10-7zm-5-6zm-29-1zm-14-3zm-50 7zm-45 25zm14-4zm38 6zm26-8zm18 7zm27-9zm9-5zm8 11zm16 2zm27 5zm14-18zm45-1zm15 15zm50-7zm36-3zm11 0zm7 4zm8-8zm37 18zm23-12zm12 10zm11 1zm2-8zm25 1zm17 5zm67 2zm36 1zm26-2zm3-16zm33-1zm1 10zm12-3zm50-6zm15 4zm9 5zm47-5zm19-3zm17 14zm12-11zm6 14zm2-11zm22-6zm7 17zm14-13zm70 11zm1-9zm-16 18zm-31-4zm-62 14zm-12 0zm-35-4zm-18 4zm-9-1zm-5-15zm-3 14zm-17-1zm-6-12zm-7 17zm-29-12zm-66-1zm-75 14zm-69-13zm-25 12zm-11-17zm-6 8zm-26-4zm-43 8zm-80 2zm-64-8zm-9 0zm-35 9zm-12-10zm-13 9zm-59-11zm-36 12zm-26-15zm-11 2zm-38 23zm11-1zm28 8zm11-6zm13 3zm11 9zm157-3zm8-4zm27-3zm9 10zm17-8zm0-8zm15 7zm42 2zm6-11zm17 14zm43-11zm63 8zm19 6zm16-18zm13 16zm23 1zm31-5zm35-8zm5 5zm61-9zm11 11zm25-3zm8 5zm30-2zm29 3zm2-13zm9 10zm59 3zm7-1zm44-13zm2 9zm15 8zm11 0zm27-15zm7 9zm-3 14zm-13 4zm-9-3zm-40-4zm-6 9zm-16 8zm-2-15zm-19 0zm-12 12zm-1-7zm-52-2zm-17 6zm-37-7zm-51-5zm-8 2zm-11 1zm-22 2zm-12 2zm-30-5zm-48 15zm-40-1zm-12-8zm-18 10zm-32-14zm-35 9zm-15 4zm-4-18zm-36 6zm-4 6zm-8-12zm-1 17zm-19-12zm-1 9zm-10 1zm-38-8zm-62 5zm-148 0zm-23 3zm-43-9zm-27 7zm4 12zm9-2zm10 11zm8-4zm10-4zm35-1zm24 12zm0-17zm11 16zm185-16zm34 12zm23-5zm8 6zm0-13zm24 14zm16-1zm39-4zm27-3zm12 9zm8-5zm6 4zm8 5zm8 0zm76-13zm9 0zm12-2zm32 15zm13-15zm15 12zm1-12zm17 5zm89-8zm28 17zm8-18zm0 19zm26-19zm31 7zm9 1zm4 6zm10 5zm17-4zm9 1zm15 3zm10-6zm31-3zm6 6zm9-5zm-9 14zm-3 14zm-56-6zm-12-5zm-6 5zm-10 0zm-26-3zm-33-3zm-38 5zm-10-1zm-21-4zm-62 1zm-5 11zm-23-4zm-15-12zm-31-2zm-47 3zm-45 14zm-38-10zm-62-2zm-20 1zm-18-2zm-46-2zm-27 2zm-31 7zm-1-9zm-38 1zm-43 13zm-29 1zm-33-6zm-12 3zm-8-6zm-11-8zm-1 11zm-56-7zm-44 20zm45 7zm30-4zm30 6zm16-5zm10 4zm10-2zm34-1zm58 5zm70-6zm34 7zm1-10zm49 13zm4-10zm2-8zm15 16zm24-14zm0 8zm11 7zm0-10zm23 10zm9 1zm33-18zm23 9zm35 0zm23 5zm29-3zm0-9zm22 0zm2 12zm16-4zm6-9zm1 16zm22-5zm4-13zm35 14zm15-12zm25 6zm16 7zm21-5zm3-8zm13 17zm2-12zm12 11zm11-12zm12 0zm41 7zm28-11zm32 8zm6-6zm8 8zm-42 10zm-25 12zm-5-8zm-6 10zm-24-8zm-33 8zm-15-6zm-26 4zm-45 0zm-83-7zm-12-1zm-17 11zm-13-4zm-12-10zm-25 11zm-24-14zm-2 7zm-41 9zm-5-15zm-16 18zm-41-10zm-14 8zm-6-5zm-28 6zm-5-13zm-93 1zm-23-1zm-24 9zm-16-7zm-12 9zm-14-16zm-14 17zm-1-17zm-24 9zm-27-4zm-18 3zm-21-8zm-46 12zm-11-5zm-22 0zm-8-7zm-25 3zm-7 8zm-1-11zm-14 6zm5 26zm15 1zm29-7zm11-3zm7 5zm44 1zm19-6zm19 7zm4 8zm43-14zm5 8zm6-9zm21 14zm4-13zm3 10zm20-8zm27 7zm56 5zm19-10zm62-1zm74 7zm51 4zm1-12zm11-4zm20 12zm10 3zm32 2zm0-15zm17 0zm6 7zm17 0zm35 6zm23-5zm16 1zm20-5zm18-7zm6 4zm40-5zm11 3zm0 8zm7-11zm37 2zm22 14zm2-13zm42 7zm17 1zm7-10zm24 10zm-2 24zm-15-9zm-15 7zm-2-11zm-20 6zm-36-5zm-20 4zm-7 2zm-7 6zm-18-4zm-11 7zm-12-9zm-4 6zm-12-5zm-5-6zm-10 3zm-15-7zm-35 19zm-21-11zm-9-5zm-19 14zm-18-2zm-14-6zm-51-6zm-18 0zm-21-1zm-33 15zm-4-14zm-25 7zm-5 8zm-15-4zm-10-7zm-21 1zm-4 8zm-12-4zm-10-2zm-14-5zm-1 13zm-9-16zm-46 15zm-7-1zm-2-13zm-11 6zm-14 5zm-13-2zm-6-12zm-20 10zm-34-5zm-7 13zm-5-12zm-6 10zm-17-8zm-9-6zm-66 12zm-25 4zm-24-7zm-19-8zm-38 21zm20-4zm6 9zm37-1zm38-5zm1 10zm10 6zm6-15zm43 3zm60-4zm22 12zm15-5zm23-4zm17 7zm40 5zm33 1zm5-9zm9 4zm26 5zm32-2zm10-11zm17 6zm35 0zm12-6zm73 1zm65 11zm14-13zm1 9zm24-7zm16 1zm19 9zm12-3zm13-6zm9 11zm4-14zm49 13zm3-7zm13-6zm26 4zm24 4zm16-4zm10 6zm3-8zm10 4zm27 10zm-76 3zm-47 3zm-19-2zm-140 5zm-45-3zm-15-6zm-165 4zm-34 6zm-12-4zm-8 1zm-52 0zm-8-2zm-49 2zm-17-4zm-21 2zm-18 0zm-17 4zm-69-7zm-12 4zm-20-7zm-31 3zm-71 0zm-16 7z" stroke="#000" stroke-width="5.4" stroke-linecap="round" fill="none"/><path transform="scale(.5)" d="M3053 1457zm73-3zm29 4zm7-5zm24 2zm26 1zm15-3zm13 0zm29 4zm20-4zm18 1zm13 2zm6-3zm6 1zm13 0zm25-1zm21 4zm46 1zm28 0zm29-3zm40 4zm53-2zm40-2zm46 3zm9 1zm68-2zm20-2zm16 1zm87-3zm36 5zm54-1zm11-1zm27-2zm-5 18zm-6 6zm-13-14zm-42 7zm-1-7zm-17-4zm-12 6zm-17 8zm-15 4zm-1-10zm-3-5zm-10 11zm-10-1zm-13-9zm-20 11zm-6 2zm-10 0zm-80 1zm-14-1zm-14-12zm-3-5zm-2 5zm-12-1zm-8 1zm-31-5zm-6 0zm-13 7zm-22-2zm-27-4zm-5 17zm-10 0zm-33-1zm-10 0zm-9-13zm-12 1zm-12-3zm-9 9zm-32-1zm-41 5zm-49-13zm-16 5zm-13 4zm-14 8zm-9-10zm-15 0zm-16-5zm-39 2zm-8-5zm-6 3zm-31 8zm-15-11zm-11 16zm-14 0zm-3-5zm-6-2zm-5 5zm-3-9zm-39 11zm-19-11zm-8 9zm-8-4zm-16-7zm-13 10zm-2-10zm11 35zm3-8zm3 6zm6-16zm19 13zm49-7zm1 6zm7-12zm4 16zm5-12zm5 12zm8-8zm6 4zm9-7zm15 2zm1 8zm14 2zm8-7zm12-5zm29 8zm22-8zm26-6zm3 17zm17-10zm1 7zm15-14zm1 13zm26 2zm5-4zm26 1zm9-11zm4 7zm26-6zm22 8zm9 7zm22-12zm16 10zm53-1zm14 5zm18-15zm46 12zm9 2zm6-9zm37 0zm2-8zm31 18zm16-9zm16-8zm10 8zm32 4zm7 0zm39 4zm11-11zm14 7zm29 0zm7-13zm5 4zm19 11zm1-6zm13 9zm15-5zm5-14zm1 17zm3-7zm4-4zm10 13zm13-12zm32-6zm-3 19zm-14 2zm-41 13zm-33-2zm-13 2zm-6-8zm-2 12zm-27-14zm-6-2zm-3 5zm-11 4zm-13-1zm-14 6zm-15-2zm-1-6zm-13-3zm-5 5zm-3-8zm-27-3zm-4 15zm-24-14zm-9 11zm-3-7zm-29 6zm-10 8zm-4-18zm-20 12zm0 6zm-6-12zm-7 6zm-12 0zm-2 6zm-9-1zm-1-11zm-26-1zm-19 8zm-5-4zm-35 4zm-6-6zm-10 1zm-8-7zm-8 6zm-16 1zm-1-9zm-25 0zm-3 16zm-16 2zm-25-7zm-27 4zm-6-4zm-9-5zm-8 4zm-86-9zm-6 8zm-7 4zm-6-5zm-4 11zm0-15zm-6-3zm-17 3zm-14 12zm0-15zm-4 9zm-8 4zm-4-8zm-13 4zm-7-2zm-7 0zm-5-7zm-3 10zm-2-8zm-13 3zm-6-6zm-16 17zm-14-7zm-7-7zm-4 13zm-3-5zm-10-3zm-3 7zm-3-13zm-13 15zm-28-12zm-1 11zm-17 20zm7-3zm16-11zm17 9zm6-7zm3 7zm9-7zm38 11zm20-1zm4-8zm6 3zm19-6zm10 9zm17-5zm6-3zm17 7zm7 1zm37-12zm10 1zm50 4zm5 14zm31-6zm15 3zm6-7zm7 4zm5-3zm7-2zm19 6zm16 5zm31-16zm7 11zm16-13zm3 17zm5-14zm4 7zm8 4zm9 2zm26-14zm3 14zm13-6zm1 8zm12 0zm10-5zm12-14zm43 11zm21 3zm15 4zm26-16zm32-2zm4 4zm83 5zm8-1zm0 9zm2-15zm35-2zm7 1zm2 11zm20 4zm6-9zm3 7zm17-1zm9-8zm22-4zm35 7zm20 0zm-24 22zm-15-4zm0 12zm-8-16zm-1 10zm-6 1zm-27-5zm-5 8zm-11-2zm-28-7zm-13 9zm-2-9zm-7-5zm-10-1zm-32 4zm-16 14zm-7-11zm-27-5zm0 10zm-10-1zm-2 6zm-5-7zm-24 4zm-21-6zm-6-4zm-5-5zm-7 13zm-4-13zm-22 12zm-6-10zm-16 6zm-9 3zm-19-3zm-19-3zm-12 1zm-20-1zm-9 13zm-9-4zm-2-14zm-7 10zm-1-8zm0 16zm-6-4zm0-11zm-7 4zm-5-4zm-6 5zm0 11zm-17-7zm-5-9zm-10 16zm-19 0zm-1-10zm-4 7zm-9-15zm-24 14zm-2-6zm-4-5zm-10 4zm-6 3zm-4-11zm-4 3zm-18 1zm-6 2zm-26 3zm-5 8zm-7 2zm-10-14zm-44 12zm-6-7zm-19-5zm-6-1zm-36-1zm-1 9zm-5-4zm-15-4zm-27-4zm-20 2zm-3 8zm-9-4zm-16 1zm-8-3zm-12 1zm-14-2zm-13 14zm-1-6zm-8 0zm-5 5zm-3-13zm-9-2zm-5 4zm9 30zm52-13zm34-2zm26 19zm4-18zm51 6zm35 12zm3-5zm9-3zm6-9zm7 3zm9 4zm7-7zm1 11zm20-9zm5 7zm8 5zm3-6zm38-9zm11 5zm21-1zm47 3zm3 9zm12-13zm14-2zm6 17zm9-5zm5-4zm12-7zm24 9zm11-7zm0 8zm26-13zm17 11zm7 8zm3-17zm26 16zm1-10zm2-7zm5 18zm15-2zm1-11zm15 3zm10-9zm17 0zm4 16zm9-15zm5 8zm25-9zm1 18zm37-6zm10-2zm17-9zm4 5zm7-2zm24 15zm31-18zm7 2zm17 15zm18 0zm23-12zm68-2zm20 6zm-3 29zm-4-12zm-18 8zm-8-3zm-10-1zm-36-11zm-3 18zm-34-16zm-12 12zm-23 5zm-33-9zm-8 2zm-40-12zm-5 3zm-12 13zm-10-3zm-5-9zm-16 5zm-54-7zm-24 1zm-1 6zm-5-5zm-14 0zm-13 2zm-9 7zm-21 0zm-10 1zm-2-10zm-23 5zm-12-4zm-17 2zm-8-6zm-4 11zm-1 6zm-10-12zm-10 10zm-21-13zm-8 10zm-5-3zm-8-9zm-13 11zm-12 3zm-5-13zm-4 11zm-11 2zm-7-12zm-2 9zm-14 1zm-13 1zm-2-9zm-3 12zm-27-6zm-7 1zm-10-7zm-10 5zm-6-7zm-14 11zm-13-9zm-3 9zm-24-3zm-14-10zm-9 16zm-10-9zm-9 3zm-28-10zm-8 16zm-16-1zm-12-1zm-13-7zm-13-1zm-11-2zm-14 9zm-5-5zm-13-8zm-5 7zm-6 8zm-25 0zm-10 3zm-3-6zm0-9zm12 29zm3-11zm7 7zm14 4zm10-10zm17 1zm8 13zm12-1zm6-15zm4 6zm1-7zm24 13zm0-6zm21 8zm9-7zm8-7zm1 11zm8-12zm38 7zm7 9zm36-6zm21 3zm19 2zm8-3zm0-7zm18-2zm20-3zm13 2zm6 8zm30-7zm8 0zm7-3zm17 0zm6 4zm17 1zm7 4zm23 7zm2-5zm11-9zm2 17zm3-5zm6-6zm10 9zm1-12zm7 3zm6-3zm19 1zm6 5zm3-10zm2 12zm20-4zm5-7zm3 10zm15 1zm2-10zm6-3zm3 11zm12-10zm12-1zm6 7zm12 7zm22-10zm3 5zm1 8zm6-2zm29-4zm13-9zm26 10zm9-7zm3 11zm9 3zm30-2zm5-6zm3-9zm4 6zm38 8zm10-6zm26-5zm8 8zm12-10zm20 2zm5 9zm6-7zm5 3zm27-7zm5-2zm2 11zm8-7zm10 32zm-2-9zm-9-2zm-43 4zm-17 8zm-76-8zm-16 3zm-17-5zm-11-6zm-2 15zm-7 0zm-10-2zm-11-10zm-4 5zm-7 3zm-45-3zm-22-6zm-7-3zm-2 16zm-11-13zm-6-3zm-8 9zm-5-7zm-3 10zm-15-12zm-7 14zm-13 2zm-2-15zm-5 10zm-8 1zm-3-6zm-3 11zm-21-8zm-6-5zm-37-3zm-9 11zm-12-3zm-1-5zm-22 3zm-13 2zm-9-1zm-3-5zm-61 2zm-9-5zm-17 14zm-26-10zm-31 10zm-4-6zm-18 8zm-1-14zm-15 9zm-8-8zm-11 9zm-17 3zm-10-15zm-15 2zm-7-2zm-19 10zm-9 0zm-6 2zm-16-7zm-29 0zm-7 10zm-9-16zm-23 7zm-21-1zm-4-6zm-29 9zm-14 9zm-2-12zm-17 4zm8 20zm12 3zm2 6zm12-5zm1-12zm10 17zm0-7zm6 3zm18-2zm16-10zm5 6zm42 9zm12-16zm21 4zm2 8zm49-11zm9 8zm1-8zm19 13zm5-15zm13 3zm10-4zm2 11zm10 3zm5 3zm6-3zm19-12zm16 2zm24 1zm24 4zm9 0zm9-5zm6 13zm4-6zm5-9zm6 10zm8-5zm24-1zm7 9zm8-15zm6 18zm1-14zm22 3zm54 8zm19 3zm52-16zm7 12zm9-8zm2-6zm10 3zm5 5zm52 4zm12 4zm3-13zm2 10zm4-5zm37 8zm32-7zm16 7zm5-11zm7 9zm8 1zm7-4zm1 6zm9-10zm9-3zm7 6zm14 5zm45 2zm16-1zm1-7zm12 0zm27 9zm0-6zm4-6zm2 15zm-23 6zm-6 1zm-1-8zm-13 9zm-12-1zm-11-6zm-15 7zm-1-8zm-23 2zm-6 5zm-18-3zm-4 13zm-2-8zm-35 1zm-6-7zm-8 10zm-22-7zm-22 5zm-32-7zm-3 5zm-1-9zm-8 5zm-22 9zm-29-7zm-13-2zm-8-3zm-7 9zm-13 3zm-8 0zm-10-3zm-5-11zm-12 9zm-6-1zm-19-6zm-1 15zm-17 1zm-2-13zm-12-4zm-4 16zm-16-4zm-4-5zm-9 5zm-6 5zm-2-17zm-8-1zm-4 5zm-9 6zm-21-6zm-6 7zm-11-2zm-12 5zm0-11zm-17 0zm-9 5zm-7-7zm-2 6zm0 9zm-21-8zm-24 5zm-17 4zm-10-6zm-22-11zm-4 11zm-38 5zm-17-2zm-8 0zm-5-14zm-12 16zm-2-15zm-8 13zm0-9zm-33-3zm-35-4zm-6 18zm-2-11zm-17-5zm-5 15zm-10-8zm-15-4zm-15 14zm-14-5zm-6-6zm-18-3zm-8 14zm-2-6zm-3-6zm-5 9zm6 21zm21 0zm13-2zm2-6zm0-8zm29 11zm1-10zm30 13zm28-10zm3-5zm18 15zm3-10zm4 13zm29-18zm5 4zm7 4zm26-4zm13 13zm19-5zm13 5zm16-2zm24-14zm26 4zm16 14zm0-8zm11 6zm15-11zm18 7zm4-13zm2 13zm13-12zm11 16zm6-16zm22 12zm5 3zm11 0zm8-16zm6 1zm22 15zm4-14zm6 3zm27 6zm29 0zm5 8zm9-5zm10-4zm6-7zm17 14zm17-12zm10 4zm5-4zm14 8zm1-12zm5 14zm11-14zm6 1zm13 6zm13-6zm1 12zm34-1zm21-2zm2 6zm24 0zm29 1zm12-5zm4 6zm5-3zm22 3zm3-18zm17 8zm4-4zm46 0zm1 14zm10 0zm3-12zm3 5zm17 1zm8 3zm-70 22zm-19-16zm-13 13zm-12-6zm-11-7zm-8 16zm-9-4zm-1-7zm-4-7zm-32 10zm-24-3zm-19 3zm-20-5zm-11 11zm-1-9zm-18-7zm-1 10zm-16 5zm-5-7zm-14-4zm-32-1zm-26 3zm-5 11zm-3-10zm-12 4zm-12 2zm-48-2zm-2 6zm0-17zm-49 1zm-8 3zm-3 7zm-13-4zm-4 4zm-10-3zm-15 0zm-23 1zm-4-9zm-5 12zm-13-5zm-1 7zm-21-7zm-46 5zm-10-5zm-8-2zm-6 0zm-8-2zm-4 5zm-8-1zm-8-5zm-2 5zm-4 5zm-8-3zm-4-4zm-4 7zm-10-11zm-7 2zm-1 13zm-12-3zm-8-11zm-11 5zm-20 12zm-2-8zm-22-3zm-2-6zm-27 9zm-27-5zm-29 11zm-16-6zm-12-10zm0 15zm-2-9zm-21 5zm1 19zm10 5zm1-13zm5 4zm6-3zm27 12zm6-4zm0-10zm19 8zm7-7zm9 15zm1-6zm29 1zm2-7zm25 4zm9-5zm4 14zm8-1zm2-6zm7-1zm30-8zm6 4zm5 8zm4-9zm26 0zm19 9zm44-15zm22 16zm17 2zm16-8zm7-10zm13 11zm37 0zm6-3zm10 5zm17-12zm0 8zm5 9zm49 0zm8-7zm7 3zm17-4zm2 6zm16 2zm15-8zm11-2zm9-5zm48-3zm10 4zm25 14zm2-8zm67-3zm7 9zm5-5zm8 4zm9-8zm1 7zm4-12zm2 8zm10 0zm17-6zm9-3zm22 0zm5 2zm1 7zm4-10zm4 12zm2-8zm14 9zm12-8zm11-1zm19 2zm22 0zm31 33zm-8-13zm-2 11zm-17-5zm-57-3zm-9-9zm-4 17zm-18-17zm-7 2zm-14 6zm-10 3zm-20 2zm-2-8zm-19-5zm-28 2zm-16 13zm-1-7zm-9 5zm-5 2zm-25-4zm-42-8zm-15 8zm-1 8zm-17-17zm-37 3zm-8 2zm-16-3zm-9 7zm-42-2zm-16-3zm-13 11zm0-17zm-23 1zm-30 10zm-10 3zm-6-7zm-8 6zm-2-7zm-14-4zm-11 12zm-4 4zm-11-9zm-19 4zm-10-1zm-4 7zm-19-16zm-9 14zm-8-3zm-16-9zm-1 6zm-5 3zm-33-12zm-14 10zm-8-6zm-7 1zm-9 2zm-42-3zm-7-5zm-5 6zm-13-3zm-9-2zm-16 9zm-5 6zm-16-11zm-7-3zm-14 2zm-9 5zm-33-3zm-5-6zm0 18zm-16-14zm-17 22zm8 8zm33-11zm26-4zm12 9zm1-9zm4 11zm11-10zm32 13zm4-4zm5 6zm4-15zm27 3zm2 8zm6 1zm8 0zm3-9zm8 14zm4-6zm64 3zm6-6zm11-6zm5 10zm16-5zm6-8zm6 8zm6 7zm2-11zm6 8zm4 6zm1-12zm5-4zm11 12zm41-4zm31 6zm19-10zm3 11zm24-12zm12 9zm22-9zm33-2zm12 15zm8-11zm6 1zm6 5zm15 5zm7-8zm3 6zm28-2zm12-5zm5-8zm15 4zm7 13zm10-6zm26-2zm9-3zm8-1zm6 6zm5-10zm39 10zm4 3zm26-5zm5 8zm15-8zm23-2zm6 7zm18 1zm19-4zm13-3zm6-4zm9 0zm4 14zm7-16zm17 9zm3-11zm6 17zm6-14zm2 15zm4-5zm2 5zm6-12zm24 31zm-21-2zm-8-1zm-9-6zm-12-8zm-20 8zm-19-7zm-5 6zm-10-4zm-3 7zm-13 4zm-10 2zm-3-5zm-54 1zm-15-11zm-1 13zm-22 3zm-4-4zm-14-11zm-11 1zm0 11zm-13-11zm-5 15zm-28-8zm-11 0zm-7-7zm-13 7zm-4-11zm-37 8zm-6 2zm-7 3zm-34-7zm-22 2zm-19 6zm-13-2zm-6-11zm-19 16zm-11-10zm-22 3zm-34-9zm-18 12zm-25-10zm-13 10zm-24-6zm-45 7zm-6-13zm-2 9zm-3 9zm-14-1zm-23-17zm-6 14zm0-9zm-5 13zm-16-12zm-13 2zm-12-2zm-7 7zm-11-11zm-8 7zm-3 7zm-29-4zm-16-8zm-11 7zm-5-6zm-4 7zm-7 2zm-2-15zm-20 11zm-7 8zm-9-17zm-18 2zm-6-4zm-1 10zm-8-3zm-16 0zm-1 10zm-3 17zm2-7zm9 3zm6 8zm2-11zm4 12zm8-16zm16 0zm19 4zm7 10zm6-13zm24 4zm3 6zm23 1zm22-5zm8-8zm5 15zm11-14zm11 7zm13-1zm2 10zm1-16zm5-2zm0 13zm6 2zm5-16zm10 11zm11 5zm9-6zm2 5zm4 4zm15-6zm39-8zm6-2zm5 12zm28 0zm3-15zm8 1zm1 18zm5-14zm37-5zm24 8zm8 0zm6 10zm6-15zm12-2zm20 12zm22-8zm24 9zm22 2zm1-9zm5 9zm18-14zm10 9zm15 6zm9-1zm25 0zm12-5zm20-9zm3 14zm25 0zm9-1zm6-4zm19-1zm8 1zm17-9zm22 11zm1-10zm7 13zm9-16zm29 16zm13-16zm16 19zm36-8zm6-4zm13 9zm2-11zm23 9zm6-8zm2-5zm8 0zm3 13zm3-7zm2-6zm3 34zm-7-2zm-9-8zm-12 3zm-7-4zm-7 13zm-13-12zm-1 7zm-23-11zm-7 18zm-4-4zm-5-11zm-15 1zm-22-2zm-22 7zm-30-7zm-13-3zm-31 10zm-7-7zm-8 11zm-1-6zm-7-5zm-27 7zm-2 8zm-28 1zm-1-15zm-7 13zm-3-10zm-9 4zm-17 7zm-8-15zm-38 5zm-47 2zm-9-5zm-4 10zm-20-1zm-11-5zm-17 8zm-4-6zm-25 7zm-1-8zm-21 5zm0-7zm-14 4zm-8-5zm-11-3zm-5 7zm-5-2zm-27-8zm-4 11zm-6 2zm-9-4zm-5-8zm-14 14zm0-15zm-8 16zm-6-11zm-15 9zm0-15zm-11 9zm-5 5zm-17-11zm-6 6zm-3-7zm-8 7zm-6-9zm-10 18zm-1-9zm-8-8zm-3 11zm-7 0zm-8 4zm-14-14zm-16 3zm-21 2zm-1 10zm-7-14zm-26 3zm-10-2zm-4 8zm-4 7zm-29-14zm-4 8zm-28-8zm-6-4zm26 31zm2-8zm6-4zm8 7zm18 10zm5-13zm11 9zm8-13zm6 14zm15 4zm8-4zm4-9zm27 0zm5 6zm10 8zm16-8zm31 3zm12 5zm12-11zm10 5zm34-12zm11 11zm0-10zm22 5zm37 6zm10-4zm21-2zm74 11zm22-10zm25 1zm46-8zm7 5zm23 1zm9 10zm0-14zm22 6zm8-6zm5 13zm6-6zm21-4zm3 7zm18 2zm1-10zm26-1zm21 9zm7-11zm2 5zm7 6zm36-11zm26 8zm4-9zm5 10zm2 7zm11-3zm14-5zm9 2zm6-5zm13 5zm1-9zm5 13zm39 2zm20-6zm2-11zm3 14zm18-6zm10 10zm22-14zm2 7zm1-11zm5 9zm1 7zm-14 15zm0 7zm-7-18zm-17 11zm-18-9zm-5 4zm-17 8zm-7-12zm-6-2zm-8 9zm-22-3zm-16 8zm-9-15zm-5 4zm-11 5zm-8 3zm-16-9zm-15 7zm0 9zm-29-4zm-5-10zm-35 0zm-17-5zm-37 4zm-16 9zm-5 1zm-22-2zm-3 7zm-3-13zm-9 2zm-2 8zm-40-6zm-47-7zm-4 7zm-12-2zm-6 2zm-21-1zm-7 5zm-2-6zm-5-8zm0 15zm-38-15zm-12 8zm-7 5zm-14 1zm-5 5zm0-12zm-21 10zm-10-11zm-5-3zm-1 16zm-6-12zm-8 7zm-12 0zm-13-9zm-12 5zm-14 2zm-15 5zm-27-12zm-2 11zm-35-15zm-24 1zm0 17zm-15-11zm-11-2zm-14-3zm-4 9zm-5-4zm-3 9zm-7-1zm-17 0zm-12-2zm-4-14zm-8 7zm-1 6zm-3-12zm-28 15zm-5-12zm-1 10zm-11 2zm-7-8zm-19-3zm-1 27zm5-12zm11 0zm7 2zm14 11zm12 1zm8-10zm19 9zm27-5zm20 3zm48-6zm2 8zm13-7zm12 4zm11 5zm9-14zm7 2zm18 4zm22-1zm25 12zm9-1zm3-10zm155-3zm13-1zm5 6zm25-9zm20 13zm17-1zm14 4zm13-9zm3-6zm10 17zm10-4zm4-13zm16 6zm7 4zm10 3zm12-3zm6 0zm7 6zm6-10zm49-1zm8 0zm7 8zm10 2zm7-7zm22-5zm6 11zm4-7zm22-2zm0 6zm19-2zm3 8zm17-13zm19 9zm14 4zm2-16zm9 17zm13-14zm7 0zm11 9zm6-4zm22-3zm51 8zm3-7zm-2 26zm-5-14zm-17 7zm-4 11zm-9-8zm-9 7zm-37-2zm-8-15zm-15 8zm-12 0zm-28 11zm-8-14zm-12 3zm-4 11zm-14-15zm-33 3zm-24-1zm-9 4zm-32-4zm-10-3zm-9 16zm-25-8zm-15-2zm-5-8zm-3 11zm-6-8zm-5 10zm-4-10zm-4 15zm-2-5zm-2-12zm-5 10zm-13-1zm0 7zm-7-13zm-15 0zm-20 2zm-15-5zm-9-1zm-6 10zm-2-7zm-17-2zm-8 7zm-3-6zm-14 9zm-45-3zm-10 7zm-13-10zm-14-5zm-10 10zm-24-11zm-5 8zm-5 6zm-23-12zm-32 9zm-12 3zm-15-13zm-6 3zm-2 6zm-12 4zm-26-7zm-18-4zm-2 10zm-14-6zm-19-5zm-18 8zm-6 1zm-9-7zm-6 7zm-22-9zm-11 6zm-19 3zm-4-11zm-7 6zm-8 3zm-2 6zm-25-4zm-9-5zm-25 13zm2 5zm19 8zm12 1zm2-7zm1 13zm11-12zm25-4zm6 0zm15 9zm5 7zm12-17zm133 1zm14-3zm2 6zm7 0zm8 6zm1-7zm25 7zm21 6zm7-12zm12 2zm5-3zm4 10zm7-15zm7 2zm47 15zm32-4zm6-13zm8 0zm8 7zm15 2zm0 10zm14 0zm0-18zm15 11zm6-12zm7 16zm29 2zm4-16zm14-2zm5 16zm10 0zm5-3zm23 3zm10-3zm25 2zm37-8zm37 7zm4-12zm29 12zm25-11zm8 1zm6 0zm38 15zm2-13zm2 6zm32-12zm7 2zm12 8zm13-2zm4-4zm8 0zm20 10zm3-7zm6-4zm12-1zm4 13zm9-5zm18-6zm-32 28zm-3-5zm-14 12zm-27-18zm-3 9zm-19 5zm-2-14zm-20 0zm-10 2zm-7 11zm-10-2zm-12 5zm-6 0zm-16-5zm-14-11zm-2 9zm-4-8zm-8-2zm-5 10zm-6-8zm-13-2zm-18 1zm-5 13zm-11-14zm-1 10zm-3 9zm-3-12zm-29 0zm-14 9zm-25-16zm-11 18zm-4-4zm-47-1zm-13-1zm-20 0zm-46-6zm-6 0zm-7 2zm-6 4zm-2 6zm-11 1zm-5-17zm-3 12zm-8-13zm-14 1zm-10 13zm-10-4zm-6-3zm-6 6zm-2-8zm-1 13zm-19 0zm-49-11zm-7 2zm-15-6zm-7 12zm-28-6zm-23-3zm-10 2zm-14 3zm-5 3zm-6 3zm-139-17zm-5 4zm-1 10zm-16-12zm-2 15zm0-6zm-23 6zm-31-12zm-3 31zm22-10zm7-6zm7 16zm32-15zm15 13zm6 2zm7-10zm104 3zm7-8zm1 11zm9-7zm9 7zm9-5zm10-6zm12 10zm3-12zm4 4zm17-3zm2 6zm5 5zm9 1zm3-5zm8 0zm19-8zm10 6zm29 4zm18-5zm9 3zm13-3zm6 2zm6 6zm3 5zm10-5zm11 1zm4-11zm8 5zm9 4zm33-3zm12-2zm6-5zm6 17zm1-10zm4 7zm3-5zm18-2zm9 4zm17 2zm10-2zm11 6zm27-13zm38 0zm18-4zm17 6zm11 2zm8 3zm4-4zm23 8zm14 1zm19 0zm6-16zm15 7zm20 1zm12-5zm8 4zm14-1zm14 9zm19-13zm14 3zm1 10zm19-12zm37-2zm11 2zm20 22zm-8 6zm-14-9zm0 10zm-7 2zm-14-7zm-4 3zm-63 1zm-20-10zm-13-1zm-7 15zm-16 0zm-4-5zm-9-3zm-4 10zm-1-8zm-12-9zm-18 11zm-23 6zm0-11zm-33-6zm-26 1zm-28 12zm-11-11zm-13 2zm-37-1zm-24 6zm-10 8zm-14-4zm-8-1zm-31 3zm-23-5zm-4-5zm-9-2zm-5-5zm-10 5zm-15 4zm-11 8zm-33-2zm-7 1zm-6-9zm-15 12zm-9-8zm-3-8zm-10 13zm-26-3zm-14-3zm-9-10zm-26 9zm-2 6zm-31-1zm-15-7zm-11 9zm-1-11zm-23 10zm-10-3zm0-7zm-7 5zm-35 8zm-11 1zm-5-2zm-18-14zm-11 12zm-4-6zm-26-3zm-13-6zm0 8zm-22 10zm-2-18zm-11 32zm4-9zm7 7zm12-1zm14 7zm26-2zm21-1zm3-10zm19 5zm20-4zm8 14zm35-14zm9 15zm1-8zm8-3zm2 11zm7-7zm10 0zm9-10zm6 5zm15-2zm8 8zm4-5zm4 7zm4-4zm2 8zm5-13zm1 6zm13-2zm2 9zm4-8zm10 1zm10-9zm7-2zm4 18zm2-7zm5 4zm1-10zm6-4zm15 6zm10 7zm2-6zm6 10zm18-5zm17-6zm4-5zm13 12zm0-7zm6-3zm3 12zm37-9zm39 1zm7 7zm19-11zm49 11zm1-8zm17-3zm6 1zm24 10zm24-5zm31-3zm16 10zm7-7zm31-3zm17 2zm4-6zm18 12zm7-9zm6 1zm28 6zm14-3zm9-6zm5 11zm9-2zm41-6zm22 2zm6-2zm30 8zm16-2zm4-13zm-6 19zm-7 2zm-66 2zm-36-1zm-8 4zm-33-2zm-21 4zm-5 4zm-2 6zm-4-5zm-6 2zm0-14zm-2 8zm-7 2zm-13-7zm-14 11zm-3-7zm-4-5zm-15 8zm-5 7zm-2-5zm-8 2zm-16-5zm-3-7zm-9 11zm-1-13zm-8 13zm-27-9zm-33 6zm-28-7zm-30-1zm-32 7zm-10-9zm-15 6zm0 10zm-8-9zm-23-9zm-45 8zm-12 2zm-16-5zm-6-1zm-13 6zm-17 2zm-6 4zm-4-6zm-14-3zm-26 1zm-24 3zm0-11zm-1 17zm-27 0zm-17 2zm-1-9zm-5 6zm-13-10zm-15 1zm-29-6zm-19-1zm-24 19zm-7-10zm-23-8zm-8 9zm-1-7zm-12 16zm-22-19zm-32 0zm4 28zm16 2zm19-10zm3 11zm9 3zm2-5zm16-8zm24 13zm12 5zm36-2zm5-8zm60 7zm14 3zm6-8zm5 8zm3-5zm8-7zm11-3zm10 9zm11-12zm17 2zm23 0zm3 13zm12-15zm12 6zm3 8zm5-9zm6 7zm11 0zm9-13zm7 13zm31-4zm14 0zm10 10zm4-5zm5-6zm6 11zm6-13zm11 10zm7 1zm7-11zm12 3zm22-2zm7 11zm5-18zm7 3zm30 5zm1 9zm21-7zm15 9zm11-15zm9 0zm6 7zm4-8zm15 11zm0-14zm6 1zm15 10zm1 6zm6-1zm8-13zm26 10zm28-1zm10 6zm10-15zm4 7zm10-1zm13 8zm16-8zm7 5zm12-11zm7 13zm8-4zm9-10zm2 7zm4-7zm31 0zm3 10zm23-12zm41 21zm-8 15zm-10 1zm-29 2zm-13-3zm-6-15zm-4 6zm-9 5zm-7 3zm-7 1zm-41-8zm-85 3zm-19-9zm-17 14zm-18-4zm-8 0zm-20-12zm-3 6zm-6 0zm-7-2zm-19-2zm-19 10zm-5 5zm-29-9zm-2 10zm-9-12zm-28-3zm-3 12zm-4-7zm-28-7zm0 8zm-21-2zm-6 9zm-25-4zm-2-10zm-8 17zm-4-19zm-8 7zm-11 12zm-10-15zm-34 10zm-6-3zm-16 4zm-7-9zm-42 1zm-21 10zm-10 0zm-4-14zm-12 4zm-10 5zm-6-4zm-27 3zm-7-1zm-16 0zm-7 5zm-28-2zm-5 5zm-7-18zm-7 5zm-4 10zm-1-6zm-19 8zm-22 0zm-3-8zm-5 5zm-32-14zm-18 18zm-2-8zm-23 3zm-9-1zm-13-4zm4 29zm1-8zm4 3zm9 3zm7-14zm16 9zm10 7zm14 1zm21-12zm38 3zm6 1zm14-5zm25 11zm24-16zm10 4zm21 12zm8 2zm8-14zm4 10zm14-4zm7 8zm0-8zm6-5zm16-2zm15 12zm36-13zm9 11zm5 1zm6-1zm9-2zm12 1zm21-11zm16 4zm27-1zm38-1zm13 13zm1-12zm4 14zm2-12zm20-6zm6 13zm17 5zm12-4zm4-6zm3 7zm10-10zm24 7zm46 2zm16-3zm9-8zm5 8zm16-5zm8-4zm39 6zm18-1zm14-6zm11 0zm2 16zm24-3zm17 5zm2-6zm10-3zm5 7zm2-10zm2-7zm7 3zm11 13zm9 1zm9-17zm1 7zm2 8zm17-9zm22-3zm29 15zm6-14zm15 0zm-11 26zm0-7zm-10 2zm-6-1zm-10 2zm-10-1zm-15 6zm-22-11zm-5 6zm-14-1zm-20 2zm-19-4zm-6 4zm-15-6zm-2 6zm-6-2zm-13 2zm-24 2zm-4-4zm-8-3zm-16 4zm-7 3zm-9 0zm-33-5zm-10-2zm-65 4zm-10-5zm-3 9zm-7-1zm-7-6zm-9 4zm-3-7zm-8 1zm-11 3zm-17 5zm-18-8zm-3 5zm-78-1zm-26 1zm-21-3zm-8-1zm-4 6zm-51-4zm-22 0zm-17 2zm-7-4zm-34 8zm-22-1zm-44-8zm-8 8zm-29-3zm-17-1zm-27-1zm-14-3zm-43 7zm-12-1zm-18-6zm-7 6zm-6 3z" stroke="#000" stroke-width="3.8" stroke-linecap="round" fill="none"/><path transform="scale(.5)" d="M3018 1459zm49-5zm3 5zm13 0zm13-2zm19 0zm121-3zm68 4zm12-1zm19 1zm11-1zm50 1zm1 0zm9-4zm5 3zm5 0zm28 1zm10-4zm8 4zm4 1zm6 0zm50-1zm12 1zm49-6zm7 4zm12-2zm13-2zm118 6zm21 0zm9-4zm7 2zm24-2zm81 2zm10 2zm11-2zm2 1zm0 0zm19-2zm52-2zm32 14zm-8 11zm-14-4zm0-10zm-4 1zm-3 5zm-16-3zm-23-5zm-4 12zm-2-4zm-14-3zm-5 4zm-4 0zm-28-6zm-11-5zm-5 12zm-29 4zm-4-12zm-7 14zm-43-19zm-7 17zm-39-10zm-4-5zm-5 8zm-16-1zm-2 8zm-5-3zm-1-10zm-23-1zm0 2zm-4 9zm-4-11zm-7-2zm-10 11zm-5 6zm-4-9zm-21 10zm-10-19zm-41 19zm-3-15zm-3 12zm-4-16zm-26 3zm-12 10zm-2-13zm-23 16zm-26-4zm-25 7zm-8-18zm-17-1zm-7 18zm-7-9zm-4-6zm-10 2zm-14 6zm-1-7zm-11 3zm-2 7zm-17-8zm-49 3zm-12-5zm-10 3zm-16 9zm-19-11zm0 11zm-2 3zm-1-11zm0-5zm-9 10zm-1-8zm-10 13zm-1-15zm-16 12zm-1-1zm-2 3zm0-16zm-6 12zm-7-8zm-12 14zm-20-14zm-12-2zm-6 10zm-7-7zm-1 10zm-13-16zm-11 18zm-9-8zm-2 1zm-11-1zm-1 1zm-4-9zm-9 0zm-3 2zm-5-3zm-9-1zm-36 35zm24-5zm6 0zm5-1zm6 9zm4-6zm38 0zm13-3zm7 2zm14-11zm7 16zm3 2zm1-2zm1-8zm5-6zm0 0zm15 13zm24-8zm22-7zm2 10zm2-8zm3 14zm9-15zm13 7zm2-2zm17 4zm1 7zm5-2zm0-15zm3 19zm3-12zm45-7zm8 5zm5-3zm39-2zm2 4zm15 0zm11 6zm3-4zm2 8zm4-8zm7 4zm1-3zm0-2zm0-2zm12 16zm3-1zm20-6zm4-11zm13 3zm10 8zm2-10zm2 8zm0-7zm10 7zm25 7zm10-8zm8 1zm0-7zm22 3zm11 0zm9 11zm21-4zm15-9zm8-4zm4 11zm7-6zm20 0zm6 13zm2-15zm22 7zm38-6zm6 1zm8 7zm21 3zm14-13zm0-2zm2 4zm24-3zm15 0zm2 6zm15-6zm1 14zm3-7zm2 0zm7 11zm7-16zm12 4zm11 7zm6 5zm14-17zm11 13zm13-2zm2 5zm17-5zm50-2zm22-3zm2-4zm-1 21zm-3 0zm-1 6zm-19 1zm-15-6zm0 1zm-18 4zm-2-7zm-30-4zm-19 2zm-2 16zm-25-12zm-8 7zm-9 4zm-1-16zm-6 10zm-1 0zm-17 6zm-3-9zm-1 6zm-8 5zm-23-2zm-19 1zm-3-3zm-17-7zm-55 6zm-14 5zm-6-6zm-12-1zm-7 7zm-9-12zm-16-3zm-13 3zm-3-7zm-6 18zm-2 0zm-31-6zm-2-1zm-12 6zm-6-1zm-32-6zm-13-1zm-21 8zm-12-12zm0-5zm-1 1zm-4 4zm-10-4zm-24 13zm-31-10zm-2-2zm-18 5zm-4 2zm-16 0zm-10 0zm-4 0zm-16 10zm-3-10zm-5-5zm-4 1zm-3-1zm-4 13zm-19-16zm-9 8zm-5-8zm-2 7zm-3 6zm-30 0zm-17 5zm-19-13zm-11 13zm-11-1zm-15 1zm-12-11zm-4-5zm-15 6zm-4 8zm-48-1zm-22 2zm-6-13zm-23 6zm-8 0zm-21-8zm4 29zm11-5zm22 9zm5-6zm9-2zm9-4zm2 4zm2 6zm20-4zm6 4zm27 3zm0-7zm10 7zm1-6zm1 6zm4-15zm2 2zm46 1zm41 3zm3 1zm16-1zm0-1zm1-3zm44 9zm16-9zm1-4zm5 15zm19 0zm26 2zm8-1zm4-7zm2-6zm3 10zm10-6zm4 4zm20 2zm5-2zm18 4zm21-1zm28-11zm11 1zm2 4zm3 2zm5-7zm1-2zm8 1zm25-1zm5-1zm12 1zm4 8zm19 5zm1-12zm8-2zm9 6zm9 0zm2 6zm6 1zm26-8zm29 2zm15-1zm17 5zm4-7zm4 3zm3-7zm12 9zm13 10zm9-8zm26 5zm16 1zm23-1zm11-16zm8 0zm7 4zm8 3zm33 2zm6-3zm5 11zm0-2zm8-14zm23 4zm11 7zm5 1zm4 1zm3 2zm7-16zm20 13zm0-13zm8 2zm7-1zm1 6zm-4 26zm-9 6zm-1-16zm-3 0zm-54 5zm0 9zm-8-13zm-5 3zm-4 1zm-12-4zm-6 14zm-44-7zm-9-11zm-1 5zm-2 8zm-24 2zm-6-5zm-7 2zm-4-4zm-5-6zm-3 13zm-24 3zm-11-7zm-9-9zm-12 16zm-20-4zm-9-1zm-30-12zm-61 17zm-1-1zm-11 0zm-6-6zm-19 3zm-2-10zm-8 1zm-8 13zm-1-2zm-6-3zm-2-3zm-13 5zm-14 2zm-11-7zm-18 4zm-6 2zm0-5zm-17-3zm-5 4zm-6-1zm-23-8zm-13-1zm-10-1zm-35 4zm-1 1zm-10 1zm0 4zm-1 7zm-9-11zm-3-3zm-5-2zm-8 4zm-3 9zm-13 4zm-7-11zm-32-7zm-15 6zm-3 4zm-2-5zm-23 4zm-6 2zm-21-9zm-3 6zm-11 9zm-14 1zm-25-19zm-18 0zm-5 16zm-1-8zm-14-6zm-3 2zm-1 4zm-10 3zm-1 4zm-4 4zm-9-2zm-5-6zm-9 7zm-11-3zm0-15zm-1 7zm-24 5zm-1 2zm-8-14zm-10 4zm-5-1zm0 1zm-1 28zm1-10zm0 2zm47-4zm6 13zm23 4zm0-8zm5-4zm23 11zm16 1zm11 0zm5-5zm3-3zm0-3zm10 9zm11-1zm14-5zm0 5zm3-3zm15 7zm6-9zm15 10zm2-11zm1 6zm18 1zm1 1zm9-2zm17-14zm2 16zm0-13zm27 10zm2 4zm9 2zm18-14zm0 1zm13-4zm0 12zm5-8zm5-5zm15 5zm2 6zm17 2zm12-4zm37 2zm24 0zm6-6zm8 11zm3-8zm37 2zm2-6zm4-3zm17 2zm12 10zm4-12zm17 1zm9 14zm16-1zm5-2zm5-12zm35 15zm19-9zm14 8zm21-9zm9 5zm3 6zm5-18zm2 1zm5 0zm6 4zm14 1zm33-1zm3 11zm4 3zm14-12zm7-5zm17 6zm13 6zm0-11zm8 15zm6-8zm8-9zm6 2zm1 4zm2 9zm2-7zm14-6zm12 2zm6 12zm1-3zm10 5zm13-17zm2 17zm1-1zm5-11zm3 1zm14-4zm12-4zm10 16zm11-11zm14 5zm4-5zm-6 25zm-11-1zm-26-1zm-4-5zm-5 0zm-1 8zm-14-4zm-7-5zm0 12zm-15-12zm-2 13zm-17-9zm-1-3zm-8 8zm-17-9zm-11 7zm-9-1zm0 6zm0 5zm-6-4zm-1-14zm-6 16zm-29-15zm-3 16zm-17-6zm-7-8zm-10 6zm-7-8zm-17 4zm-67 8zm-20-2zm-41-3zm-7 5zm-5-11zm-10 11zm-9-13zm-6 5zm-13-1zm-5 10zm-3-6zm-19-9zm-1 10zm-3 9zm-8-13zm-24 11zm-15-10zm-17 0zm-32 1zm-6 10zm-2-3zm-18-15zm-9 19zm-3-12zm-2 2zm-6 5zm-9-7zm-12-1zm-11 5zm-29-1zm-8-4zm-14 3zm-43-2zm-2 12zm-3-17zm-21-1zm-4 17zm-10-4zm-3-13zm-7 0zm-15 15zm-5-14zm-2 8zm-23 5zm-7-6zm-33 6zm-38-5zm-6 8zm0-9zm-6-6zm-13 3zm-3 3zm-5 10zm-11-13zm-7 5zm-4-9zm-6 1zm-5 6zm-3 0zm-4 15zm17 7zm3-11zm12 14zm1-7zm4 10zm33-16zm13 8zm24-8zm13 8zm13-1zm3 3zm40-9zm14 0zm28 11zm18-3zm5 4zm19-8zm1 4zm2-7zm57 15zm6-14zm6 14zm0-3zm9-1zm9-13zm2 6zm14-5zm13 13zm6-13zm19 3zm3-3zm8 7zm25 4zm6-8zm15 9zm8-10zm0 11zm1-7zm4 8zm17-8zm1-6zm9 4zm13-6zm35 15zm17-10zm11 4zm5 0zm33-1zm2 3zm2 3zm0 5zm4-11zm7 5zm14 5zm2-1zm35 2zm4-12zm19 7zm1-13zm16 6zm4-1zm19-4zm1 1zm1 14zm11 1zm24-15zm4 5zm1-1zm4-3zm19 12zm1 1zm26-2zm4-1zm1-8zm3 8zm7 1zm5-11zm19 1zm28 8zm7 3zm6-1zm6-10zm17-3zm5 3zm5-2zm7 3zm8 1zm3-4zm4-1zm8 17zm-2 4zm-1 5zm-27 4zm-11 5zm-4-14zm-10 12zm-9-12zm-1 2zm-11-4zm-3-1zm-4 3zm-32 3zm-13 3zm-6 4zm-3-11zm-3 4zm-1 13zm-6-17zm-55 9zm-2-10zm-4 18zm-10-16zm-4 11zm-4-3zm-13 6zm-16-3zm-24-13zm-44 18zm-7-8zm-46 1zm-9-10zm-3 14zm-4-5zm-7 8zm-4-7zm-35-12zm-1 6zm-1 7zm-79 2zm-5-2zm-9-3zm-13-3zm-19 0zm-13 9zm-45-11zm0 9zm-6-3zm-21-9zm-6 10zm-17 5zm-1 1zm-3-12zm-9 0zm-2 1zm-91 1zm-13 10zm-4-12zm-26 2zm-11 10zm-9-2zm-14-6zm-15 0zm-29-3zm-1-3zm-11 6zm-12-3zm-53 1zm-3-4zm-1 25zm23-1zm32 11zm4-6zm8-8zm23 5zm13-8zm3 8zm9 3zm6-10zm1 7zm4 2zm18-4zm10-6zm19 4zm2 7zm5-13zm3 18zm2-4zm10-10zm6 3zm11 0zm26 3zm34-2zm11-7zm4 12zm19-6zm2-3zm21 14zm9-2zm5-11zm7 14zm20-15zm3-1zm6 11zm13 3zm9-7zm6-2zm16-2zm5 2zm0 10zm13-5zm25 5zm15 1zm32-15zm15 11zm2 0zm2-14zm27 8zm22 10zm11-14zm1 8zm16 4zm21 0zm9-14zm7 9zm1-8zm19 0zm18 0zm11-1zm14-3zm7 0zm1 18zm1-18zm4 10zm5 9zm20-12zm3-4zm8 14zm20-14zm10 5zm5 0zm7 2zm25-6zm16 14zm4-8zm11 9zm15-3zm2-4zm44 3zm3 4zm9-5zm8-4zm8-1zm5 7zm27-15zm-6 30zm-27-2zm0-5zm-2 14zm-38-4zm-6-13zm-2 1zm-7-1zm-2 3zm-5 7zm-14 0zm-10 7zm-16 1zm-8-16zm-17 12zm0-15zm-27 19zm-3-5zm-4 1zm0-10zm-2-2zm-15 8zm-4 2zm-8 0zm-3 2zm-13-14zm-8 10zm-19-1zm-24 6zm-16 0zm-6-14zm-7 10zm-5 2zm-2 3zm-24-4zm-8-8zm-4-1zm-8 8zm-4-1zm-1 2zm-23 0zm-1 3zm-15-12zm-7-3zm-58 18zm-4-16zm-9 3zm-41 12zm-14 1zm0-3zm-6-4zm-4-4zm-11 3zm-13-1zm-12-5zm-6 5zm-9 5zm-5 1zm-1 0zm-16-10zm0-1zm-7 8zm0-3zm-8-2zm-48 4zm-6-5zm-11-4zm-7-3zm-4 10zm-8-3zm-39 5zm-12-10zm-3 14zm-25-5zm-6 2zm-24-11zm-3-2zm-4 9zm-38-6zm-10-1zm-1 14zm-2-6zm-6 7zm-5-10zm-15-1zm-4 7zm-2-9zm-39-4zm-14 10zm12 29zm10-19zm3 3zm0 10zm2-5zm12 11zm2-13zm1 5zm19-1zm2-2zm10 1zm30 0zm13-3zm4 0zm22 10zm10-11zm12-1zm43 5zm19 6zm12-12zm3 3zm5 6zm4-4zm6 11zm4-1zm16-13zm17 4zm7 0zm17-3zm4 7zm0 5zm6-4zm5-5zm2 1zm7-9zm3-1zm38 15zm1-13zm3 14zm4-11zm5 3zm31-2zm13 13zm6-17zm25 8zm11 0zm9-5zm12 7zm2-11zm0-1zm8 11zm3 2zm9-2zm5 3zm3 0zm9-6zm16-1zm0 7zm6-5zm8 6zm19-13zm1 2zm0 7zm0-4zm17 11zm1-6zm9-7zm4 8zm6-7zm16 6zm4 4zm12-11zm6 6zm2-10zm4 11zm19-9zm2 6zm18 8zm7-3zm10-12zm5 13zm12-3zm5-5zm9-2zm2 3zm11 4zm7-11zm3 8zm2-4zm1 2zm1 6zm4 1zm31 5zm17-9zm10-9zm8 5zm6-6zm23 14zm10-9zm13 13zm3-15zm4 0zm14 10zm8-4zm1 5zm12 3zm8-4zm3 6zm12-3zm2 21zm0-8zm-21-2zm-1-5zm-5 1zm-6 9zm-70 2zm0-2zm-8-11zm-3 13zm-2-13zm-15 16zm-20-11zm-42-5zm-5 0zm-8 6zm-12 5zm-4-9zm-20 12zm-23-6zm-37 0zm0 10zm-22-16zm-11 12zm-6-15zm-7 1zm-8 3zm-15 2zm-10 12zm-5-11zm-16 2zm-18-1zm-9-7zm-17 12zm-7-6zm-3 7zm-28-3zm-10 4zm-3-14zm-9 6zm-29 9zm-11-13zm-9 15zm-4-7zm-1-5zm0 13zm0-12zm-1 5zm-11-12zm0 2zm-6 14zm-4 0zm-22 2zm-32-15zm-32 10zm-4-10zm-2 8zm-5 2zm-6 6zm-17-9zm-8 4zm-6-1zm-2-3zm-2 3zm-13-3zm-11 4zm-28 0zm-16-4zm-30-3zm-16-7zm-6 12zm-13 4zm-5 1zm-7-17zm-6 3zm-1 15zm-14-3zm-8-1zm-13-5zm-7 1zm-10-3zm-2 4zm-9-4zm-6-7zm-21 3zm-11 17zm0 7zm24 0zm8 2zm7 6zm9-4zm0-4zm8-4zm21 0zm12 11zm17 5zm14 0zm1-19zm11 18zm1-2zm9 3zm5-18zm4 14zm1-8zm1 8zm25 0zm10 4zm41-12zm16 10zm3-4zm1-5zm7-8zm4 5zm1 5zm6 3zm10-5zm1 5zm1-3zm4-1zm1 1zm5 7zm5-17zm11 6zm2 1zm4 0zm15 8zm18-7zm9 7zm3-11zm9 14zm2-10zm6-1zm2 1zm16-1zm15 10zm8-8zm1 1zm9 2zm12-11zm5 10zm13 7zm8-13zm14 0zm7-3zm3 3zm1 10zm17 4zm0-8zm15 1zm5 7zm16-9zm2 8zm7 1zm13-16zm3-2zm2 3zm3 11zm0-14zm13 5zm11-5zm41 0zm13 5zm5 5zm8 6zm11-4zm10 4zm17-14zm4 4zm6-1zm21-3zm5 11zm3-11zm0 6zm3-6zm5 0zm8-1zm12 2zm20 11zm29 0zm3-7zm1-7zm18 7zm8 0zm4-2zm20 6zm2-7zm19 2zm7-6zm0 1zm33 5zm9 7zm12-1zm3 2zm14-13zm1 18zm-23 10zm-14 6zm-10-6zm-4 6zm-10-14zm-5-1zm-5 3zm-5 9zm-28 6zm-1-17zm-9 17zm-2-6zm-4-12zm-4 9zm-6 6zm-18-15zm-5 0zm-9 13zm-12-1zm-5 0zm-17 4zm-5-8zm-1 4zm-3-8zm0 7zm-6 7zm-1-14zm-10 12zm-18-5zm-48 7zm-3-16zm-5 8zm-24 6zm-4-3zm-8 3zm-30-9zm-2-2zm0-6zm-6 12zm-2-5zm-6-1zm-4 9zm-16-4zm-21-7zm-1-4zm-6 8zm-1 10zm-8-16zm-3 7zm-27-6zm-6 16zm-1-14zm-11 8zm-18 3zm-6-14zm-3 0zm-21 10zm-6 1zm0-13zm-7 13zm-42-13zm-1 10zm-18 5zm-2-7zm-11-8zm-10 18zm-16-6zm-6-3zm-16 10zm-9-8zm-13 3zm-1-7zm-10-5zm-5 16zm-43-14zm-12-3zm-1 11zm-16-11zm-13 2zm-2 3zm-3 4zm-9-4zm-12 1zm-3 1zm-1 1zm-1 1zm-4-5zm-35 8zm0-10zm-1 6zm-1-6zm-10 11zm-1 3zm-1 0zm-3-4zm-13 5zm-20-14zm-13-1zm-21-3zm-17 38zm42-12zm0-4zm5 0zm10 7zm2-9zm8 8zm8 2zm8-6zm7 11zm8 1zm7-11zm7-2zm41 16zm6 0zm11-16zm3 15zm1-11zm17-2zm8 11zm10-15zm26 15zm5-1zm3-15zm4 7zm6 6zm1-4zm9-7zm11 1zm39 16zm2-10zm28-9zm3 2zm11 4zm17 6zm5-5zm12 6zm21-7zm64 11zm24-2zm15-1zm9-9zm7 6zm20-11zm5 5zm24 4zm16-2zm1-6zm8 7zm2-4zm5 6zm27 6zm3 0zm2 1zm10-3zm0-10zm9 9zm3-7zm6-1zm7 7zm23 5zm8-16zm20 10zm4-4zm7 9zm1-5zm17 5zm5-4zm9 2zm2 0zm3-13zm9 12zm6-3zm3-7zm6 5zm29-1zm10-1zm10 9zm9-5zm0-4zm27-2zm1 4zm11 7zm21-4zm10 1zm19 1zm18 15zm0-3zm0 1zm-5-2zm-2-4zm-3 15zm-4-4zm-3-3zm-22-3zm-24 9zm-46-3zm-14-5zm-7 8zm-4-9zm-17-1zm-6 10zm-19-5zm-8 10zm-3-3zm-8-15zm-2 15zm-21 0zm-18-2zm-1 0zm-19 1zm-28 4zm-9-4zm-2-7zm-11 1zm-4-4zm-2 14zm-27-7zm-1-4zm-16 9zm0-5zm-3-8zm-34 10zm-5-3zm-8 6zm0-9zm-2-8zm-5 5zm-16-5zm-18 11zm-2-6zm-13 11zm-10-1zm-3-1zm-13-4zm-8-1zm-12 2zm-1-6zm-10 11zm-11-14zm-19 17zm-10-7zm-3 2zm-23-3zm-18 0zm-4 4zm0-3zm-3 2zm-6 1zm-31 1zm-19-1zm-5 1zm-33-8zm-12 11zm-3-8zm-27-1zm-30 7zm-12-16zm-3 15zm-30 0zm-19-3zm-4-10zm-6-1zm-11 15zm-3-6zm-2-11zm-4 19zm-1-6zm-2-9zm-13 3zm-1 12zm-1-1zm-10-15zm-37 4zm-7 8zm-19-6zm-1 5zm-9-7zm-5 12zm7 9zm2-2zm22 1zm12-2zm1 14zm1-7zm3 1zm5-4zm8-4zm24 1zm5 7zm10 1zm5 5zm8-4zm10-11zm6 11zm1-8zm7-1zm5 9zm3 4zm19-5zm6-13zm3 3zm1 5zm8-2zm18-4zm3 7zm12-6zm4 11zm14-14zm13 6zm38 10zm25-9zm2 3zm3 2zm29-1zm10 2zm26-4zm7-7zm40 5zm9-4zm2 10zm4-4zm5 4zm15-1zm28-9zm3 1zm39-4zm58-1zm15 19zm52-2zm7-15zm20 9zm15 0zm2 2zm4 0zm3 3zm28-8zm15-5zm2 8zm5 6zm1-12zm12 6zm26 2zm12-10zm5 15zm18-3zm16-11zm1 4zm13 8zm7 0zm18 3zm14-16zm2 11zm9-3zm2-9zm4 3zm5-5zm40 14zm8-13zm10 1zm-5 22zm-9 9zm-3 1zm-21-3zm-1 4zm-19 0zm-5-13zm-3 11zm-3-12zm-16 13zm-2-9zm-10 6zm-38 5zm-3 0zm-2 3zm-11-10zm-1-6zm-2-1zm-20 13zm-1 2zm0-5zm-28-10zm-9 5zm-14 8zm-16-8zm-4 3zm-10 9zm-12-19zm-6 17zm-3-15zm-2 5zm-21 8zm-6-10zm-28 13zm-2-17zm-4 16zm-45-4zm0 3zm-7-8zm-7-1zm0 3zm-6-5zm-19-1zm-6 9zm-3-1zm-14-10zm-10 12zm-3-1zm-8-1zm-5 0zm-1 3zm-24 2zm-14-6zm-13 3zm-4-5zm-1-5zm-8 10zm-11-2zm-24 0zm-10 6zm-40-18zm-11 8zm-13 0zm-27 11zm-3-12zm-20-1zm-2 11zm-3-8zm-12-3zm-10 4zm-17 6zm-3 0zm-1-6zm-25 7zm-9-11zm-24 6zm-9-5zm-2-4zm-7 1zm-1 15zm-3-3zm-49-15zm-11 5zm-11 6zm-2-9zm-13 2zm-7-2zm-10 5zm-17-4zm-7 11zm-17 0zm-1-1zm-10 4zm1 5zm20-3zm13 6zm3 13zm11-3zm20 1zm6 0zm2-14zm12 1zm5-4zm24 16zm3-16zm28 7zm14 1zm1 11zm0-9zm21-3zm13 7zm42-3zm13-11zm0 13zm29-11zm3 1zm3 8zm17 7zm8-6zm9 0zm19-1zm20 1zm30-12zm9 19zm37-3zm28-6zm41-6zm2-3zm0 8zm18-3zm2 1zm4 12zm11-8zm11 6zm1-4zm9-2zm13 2zm1-2zm1 2zm17 5zm5-11zm0 2zm1 1zm22 4zm8-5zm19 6zm12-11zm38-4zm15 11zm35-8zm66 0zm7 4zm10 10zm2-8zm5 3zm1 5zm12-17zm13 13zm2-8zm4-4zm16 9zm23-9zm10 18zm54-19zm1 15zm3 0zm4-1zm0 2zm1-14zm-13 19zm-4 12zm-35 0zm-8-2zm-1 0zm-5-5zm-6 7zm-10-13zm-1 5zm-9 5zm-1-3zm-11 10zm-9-15zm-13 3zm-2-4zm-1 15zm-12 1zm-1 2zm-9-7zm-4 1zm-15 0zm-44-13zm-5 3zm-9 14zm-1-11zm-4-4zm-4-1zm-14 9zm-9-1zm-21 6zm-12-13zm-27 2zm-10-3zm-2 14zm-2-12zm-2 7zm-9 2zm-4 2zm-22-3zm-7 7zm-17-18zm-2 14zm-5-3zm-3 4zm-22-12zm-12 12zm-3-15zm-24 17zm-4-3zm-15-5zm-4-2zm-2-6zm-4 17zm-5-15zm-3 5zm-14 4zm-44 3zm-12 4zm-3-14zm-3 10zm-8-15zm-18 15zm0-8zm-14 0zm-8 8zm-3 4zm0-11zm-3 11zm-1-3zm-12-9zm-25-1zm-6 12zm-19-16zm-1 17zm-6-5zm-15-10zm-5 12zm-1-14zm-9 9zm-2-8zm-7-3zm-8 6zm-1 7zm-4-12zm-5-1zm-3 18zm-3-1zm-22-14zm-15 6zm-1-9zm-10 6zm-22 9zm-1-10zm-7-2zm-10 2zm-1 8zm-9 1zm-11 5zm-23-3zm-8 0zm-4 3zm-4-2zm-15-15zm-21-2zm-10 1zm-17 8zm-8 4zm5 26zm5-9zm13-4zm10 9zm8-3zm1 5zm1-8zm2 8zm9-17zm0 14zm27-6zm2-1zm24-4zm27 7zm7-2zm11-3zm4 8zm23-9zm25 15zm4-12zm14-3zm3 10zm1 5zm15-9zm3 0zm0-6zm8-1zm29 13zm14 0zm26-14zm7 6zm26-5zm4 9zm10-11zm9 14zm8 1zm6-2zm4 2zm5-3zm39 5zm2-11zm1-5zm34 0zm2 1zm14 12zm5-14zm15 13zm16-13zm4 1zm8 11zm17-1zm19 1zm4 6zm7-18zm10 9zm2 8zm9-12zm17 5zm1-11zm21 5zm17 14zm6-17zm14 8zm2-1zm1-8zm27 17zm6 0zm4-11zm7 4zm4 2zm5-9zm5-3zm37 14zm1 2zm6 2zm9-16zm29 14zm1-5zm1-1zm23-11zm24 2zm19 15zm6-1zm0 0zm7-8zm10-8zm2 12zm11 1zm5-6zm11 11zm13-11zm4 24zm0 8zm-17-18zm-2 9zm-3-1zm-16-1zm-3 4zm-50-9zm-8 2zm-46 12zm-26-1zm-25-8zm-8 9zm-4-11zm-7 0zm-44 0zm-2 8zm-16 1zm-47-11zm-9 4zm-14-3zm-3 14zm-16-11zm-9 0zm-21 11zm-10-2zm-3-12zm-21 12zm-19-9zm-11 10zm-10-16zm-17 17zm-7-3zm-3-11zm-15 2zm0 9zm-1 3zm-20 0zm-15 0zm-19-1zm-1-15zm-19 7zm-13-7zm-19 0zm-1 5zm-5 1zm-16-4zm0-3zm-7-2zm-13 0zm-7 3zm-5 7zm-1 3zm-17-1zm-15 1zm-2-9zm-12 0zm-19 12zm-1-12zm-16 2zm-12 13zm-3 0zm-1 0zm-67-18zm-2-1zm-13 1zm-10 6zm-8-3zm-10 1zm-34-5zm-11 17zm-16 2zm-3-8zm-2 1zm-13 0zm7 14zm6 7zm5-1zm23 7zm7-5zm8-5zm12-3zm3 9zm19 1zm147-13zm1 2zm24-5zm9 17zm10-11zm20 7zm35-1zm2 5zm14-9zm3-6zm36 4zm7-6zm0 3zm1 14zm17-10zm5 10zm5-5zm3-2zm3-8zm27 6zm3 6zm1 1zm2-14zm9 5zm7 1zm20-6zm12 4zm15-1zm8 0zm0 2zm18 0zm12 13zm2-7zm22-6zm11-2zm10-3zm9-1zm13 18zm2-15zm42 10zm22 6zm23-1zm4-4zm7-2zm7-1zm13-4zm8 5zm0-8zm14 15zm8-8zm1 7zm1-12zm10 6zm1-8zm3 10zm3-4zm4 6zm2-2zm7 1zm3-1zm23-8zm5 1zm16 6zm3 1zm2-1zm1 2zm3 1zm8-2zm2-3zm7 3zm12-7zm11 12zm5-16zm15 15zm0-13zm33 13zm10-2zm9-1zm-1 14zm-7 6zm-3-13zm-3 12zm-7-3zm-25-5zm-6 9zm-5-6zm0-9zm-2 15zm-8 4zm-6-6zm-2-1zm-3-9zm-9 13zm-7-12zm-9 7zm-5 3zm-5-4zm-34-6zm-3 7zm-21 2zm-19-5zm-13-2zm-1 6zm-14 6zm-4-5zm-31-7zm-8 5zm-9-11zm-13 0zm-8 10zm-30 4zm-11-10zm-12 3zm-7 9zm-7-15zm-11 12zm-2-9zm-7 12zm-2-1zm-13-4zm-5-2zm-2 9zm-17-13zm-14 11zm-39-9zm-13-2zm0 11zm-8-11zm-4 14zm-7-16zm-23 16zm-5 0zm-44 0zm-13-16zm-11-1zm-25 3zm-15 14zm-12-4zm0-2zm-33 6zm-5-3zm-10-11zm-14-5zm-17 9zm-2-5zm-18 9zm-137 1zm-1-13zm-2 12zm-34-8zm-1-5zm-7 8zm-14-1zm-20 2zm-9-3zm-11 26zm5-2zm3-10zm60 14zm5-4zm6 7zm11-9zm4 8zm8-13zm93 15zm6 0zm4-3zm10 4zm12-8zm4-5zm9-5zm5 16zm39-2zm8 0zm2 3zm2-16zm27 7zm5 4zm11-5zm1 1zm14-1zm0 7zm46-8zm6 0zm15 7zm10-12zm13 13zm9-11zm2 0zm19 2zm7-6zm2 18zm3-18zm6 12zm35 0zm3-2zm4 6zm7-6zm19 0zm2 7zm7-3zm22-13zm4 5zm6 2zm3-8zm2 5zm18 5zm6 5zm1 3zm3-10zm6-7zm3 2zm3 14zm15-16zm4 4zm31-2zm2 14zm7-6zm3-2zm11 8zm28-6zm24 4zm2-3zm2-12zm8 3zm5 3zm9 10zm17-15zm20 14zm13-1zm3-6zm1-1zm12 11zm8-7zm2-1zm6 1zm1 2zm6-5zm10 5zm0-4zm6 5zm11-8zm2-1zm12-3zm15 7zm7-2zm5 8zm5-12zm4-3zm7 15zm4-4zm10 12zm0 7zm-1 9zm-6-12zm-2-1zm-2 3zm-43 0zm-10-8zm-3 11zm0 3zm-2-3zm-17 2zm0-14zm-22 9zm-19-1zm-6 6zm-7-5zm-9-5zm-22 2zm-18 2zm-16 9zm-21-7zm-11 1zm-2-2zm-21-7zm-7 0zm-4 16zm0-14zm-28 5zm-7-2zm-3 1zm-13 2zm-14-9zm-17 15zm-12-12zm-4-3zm-31 17zm-3-10zm-10 5zm-1-8zm-1 9zm-8-6zm-4-8zm-37 9zm-10-3zm-1 8zm-29-6zm-13 5zm-27-8zm-15 11zm-2-15zm-10 8zm-2-3zm-2-5zm-4 3zm-2 3zm-1 10zm-10-4zm-8-7zm-5-4zm-5 4zm-10-4zm-1 8zm-1 4zm-2-6zm-7 7zm-3-1zm-5-11zm-5 14zm-14-9zm-5-6zm-13 15zm-6-12zm0 5zm-6-7zm-12-2zm-10-1zm-14 4zm-17-4zm-11 14zm-8 4zm-13 0zm-7-16zm-1-2zm-14 11zm-1-5zm-3 4zm-14 9zm-3-6zm-22 5zm-7-8zm-5 3zm-5-3zm-30 2zm-2 6zm-1 1zm-25-11zm-22 4zm-1-11zm-6-1zm-6 16zm-6-7zm-9 7zm-22 20zm17 1zm9-17zm0 18zm3-2zm3-15zm10 8zm2 6zm31-7zm2 10zm3-16zm23 5zm24-3zm1-2zm3 10zm10 5zm0-12zm11 2zm6-4zm9 13zm11 2zm6-3zm10 1zm8-9zm15 8zm2-15zm20 8zm7 4zm3 2zm18-11zm9 15zm17 1zm22 0zm22-18zm0 5zm7 2zm1 10zm21 1zm26-7zm15-7zm21-4zm11 13zm6 5zm9-4zm2-6zm9-9zm13 5zm2-3zm16 7zm12-7zm2 14zm7 0zm2-10zm12-6zm4 7zm8-1zm2 13zm11-13zm2 13zm7-2zm8-13zm7-1zm2-2zm7 1zm2 10zm21 7zm1-17zm8 0zm8 1zm4 15zm2-17zm4 16zm4-13zm32 8zm24-12zm4 16zm18-14zm43 17zm11-4zm4-11zm20 8zm9-1zm7-4zm9 7zm0-7zm41-2zm30 12zm7-3zm4-12zm21 4zm4 11zm13-16zm18 1zm15 16zm-16 4zm-20-2zm-1 2zm-19 3zm-4 9zm-13 2zm-17 3zm0-19zm-5 19zm-12-6zm0-5zm-2-1zm-9-3zm-12 5zm-20 1zm-46 7zm-27-17zm-2 4zm-2-2zm-5 17zm-3-15zm-1 15zm-7-17zm-4 12zm-7 0zm-12-1zm-5-13zm-12 9zm-1 3zm-14 2zm-20-1zm-8-1zm-1-2zm-7 9zm-23-1zm-14-1zm-24-6zm-10-5zm-1 1zm-2 4zm-12 6zm-5-17zm-11 7zm-17-1zm-4 5zm-3-9zm-8 2zm-10 13zm-1-2zm-16-2zm-9-12zm-4 15zm-28 2zm-26-17zm-26 17zm-10-5zm-9 4zm-27-3zm-22-13zm-12 9zm-22 1zm-6 3zm-4-12zm-21 2zm-22-4zm-8 19zm-5-19zm-10 19zm-28-7zm-6-4zm-7-7zm-7 16zm0-6zm-2 8zm-1-1zm-15-8zm-1 6zm-8-10zm-9 4zm-9 6zm-1-11zm-1 12zm-20-8zm-3-7zm-12-2zm-7 17zm-6-2zm-8-8zm-4-5zm-40 0zm-16 1zm6 32zm41 4zm3-6zm27-2zm3-9zm7 3zm1 0zm4 3zm8 10zm12-8zm1 5zm8-9zm8 8zm15-10zm6 1zm12 7zm4-10zm5-2zm10 12zm9-10zm21 3zm9 7zm16-8zm12 10zm10-6zm0-6zm3 13zm4-4zm13-3zm6-4zm9 12zm22-16zm32 13zm3-8zm2 7zm11-1zm40-2zm15 4zm0 5zm11-10zm7-4zm4 2zm1 3zm2-2zm6-7zm16 4zm23 9zm6-13zm6 18zm18-18zm2 16zm10-8zm20 0zm4 1zm12 3zm12-6zm10-6zm2 1zm63 12zm3 4zm27-6zm4-6zm3 10zm1 0zm4 2zm6-9zm16-5zm5 10zm17-13zm22 15zm3 4zm3-7zm4-6zm11 8zm14-7zm49-7zm3 9zm2-4zm2 2zm4 10zm6-16zm1 13zm3-6zm5 9zm10-5zm4 6zm5-4zm1-4zm22-7zm7 1zm1 7zm3 8zm20-11zm18 7zm8 3zm16 0zm-4 11zm-7-4zm-13 0zm-8 0zm-15 14zm-6-13zm0 8zm-3 2zm-1-11zm-8 4zm-26-7zm-41 7zm-4 10zm-2-19zm-4 12zm-8 6zm-8-9zm0 5zm-8 0zm0 5zm-5-12zm-8 6zm-11 3zm-2 2zm-3-3zm-4-1zm-16-1zm-1-13zm-3 6zm-24 7zm-2-3zm0-2zm-4 3zm-17-2zm-14 2zm-8 8zm-7-11zm-8 8zm-25-7zm-1 10zm-17-18zm-3 6zm-3-5zm-1 9zm-8-5zm-22 2zm-11 1zm-19-3zm-34-6zm-2 13zm-7-3zm-72-7zm-9 4zm-13 8zm-21 3zm-5-7zm-54 2zm-11-13zm-11 14zm0 0zm-13-9zm-7 4zm-2 1zm-16-6zm-14-3zm-17 5zm-7-3zm-8 8zm-19-9zm-9 17zm-1-11zm-17 1zm-22 4zm-9-10zm-41-1zm-4 11zm-19-7zm-11 4zm-9 2zm-17-2zm-21-7zm-1 10zm-25 0zm-20 19zm13-1zm0-5zm54 5zm1 4zm7 0zm3-13zm12 6zm0 2zm5 9zm18-16zm32 4zm15-3zm14 12zm0-15zm10 18zm5-14zm10 7zm26-12zm1 7zm35 7zm3-2zm7 6zm34-16zm8 15zm1 2zm11-9zm13-4zm5 11zm0-8zm22 5zm11-3zm13 4zm19-3zm30-2zm4-6zm8 1zm8 10zm9 1zm33-5zm3-8zm11 7zm3 2zm4-3zm3-4zm3 9zm13 3zm10-16zm5 10zm0-1zm7 9zm11-19zm2 5zm0 9zm1-6zm0 8zm30-8zm8 3zm8-10zm4 14zm4-1zm6-13zm14 2zm13 1zm23-1zm20-2zm2-1zm27 12zm18 2zm7-6zm5 4zm11-11zm4 15zm60-12zm2-2zm4 17zm2-6zm49-6zm13 0zm4 7zm0-2zm13-9zm8-2zm6 1zm26 10zm4-7zm1 5zm-5 12zm-15-2zm-17 8zm-6-3zm-15-5zm-1 7zm-5-7zm-33 4zm-2-3zm-8 2zm-5 1zm-2 2zm-15 1zm-3 1zm-6 1zm-14-2zm-9-4zm-15 7zm-28-4zm-1-2zm-48 1zm-4-4zm-12 5zm-63 5zm-47 0zm-8-7zm-2 5zm-34 0zm-60 2zm-38-6zm-8 5zm-8-9zm-8 9zm-88-2zm-6 1zm-3-1zm-2-7zm-26 0zm-16 10zm-20-6zm-12-3zm-1 8zm0-8zm-10 7zm-9-9zm-13 8zm-39-1zm-24-3zm-12-4zm-17 2zm-8 5zm-40 2zm-19-4zm-5 1zm-13 3zm-44-4zm0 1zm-1-6z" stroke="#000" stroke-width="2.6" stroke-linecap="round" fill="none"/></g></g>
<g clip-path="url(#cbl)"><rect x="1002" y="1067.6" width="493.4" height="328.2" fill="#d9e0e7" filter="url(#tbl)"/><g filter="url(#b2)"><g fill="#edf2f2" fill-opacity="0.9"><ellipse cx="1338.5" cy="1097.7" rx="11.5" ry="2.9" transform="rotate(60 1338.5 1097.7)"/><ellipse cx="1306.8" cy="1343.9" rx="9.2" ry="3" transform="rotate(142 1306.8 1343.9)"/><ellipse cx="1413.8" cy="1236.6" rx="15.4" ry="3.5" transform="rotate(64 1413.8 1236.6)"/><ellipse cx="1313.4" cy="1188.8" rx="10.3" ry="1.7" transform="rotate(170 1313.4 1188.8)"/><ellipse cx="1262.5" cy="1103" rx="16" ry="2.9" transform="rotate(98 1262.5 1103)"/><ellipse cx="1339" cy="1264.7" rx="12" ry="3.3" transform="rotate(7 1339 1264.7)"/><ellipse cx="1141.1" cy="1191.8" rx="13.5" ry="2.2" transform="rotate(67 1141.1 1191.8)"/><ellipse cx="1365.2" cy="1213.3" rx="8.8" ry="4.2" transform="rotate(119 1365.2 1213.3)"/><ellipse cx="1475.5" cy="1386.4" rx="11.6" ry="1.9" transform="rotate(94 1475.5 1386.4)"/><ellipse cx="1415.6" cy="1097.5" rx="10.3" ry="3.6" transform="rotate(60 1415.6 1097.5)"/><ellipse cx="1039.1" cy="1162.3" rx="12.5" ry="3.4" transform="rotate(112 1039.1 1162.3)"/><ellipse cx="1180.2" cy="1299" rx="10" ry="4.9" transform="rotate(64 1180.2 1299)"/><ellipse cx="1410" cy="1252.3" rx="14.6" ry="3.4" transform="rotate(144 1410 1252.3)"/><ellipse cx="1317.4" cy="1255.7" rx="12.7" ry="2.7" transform="rotate(13 1317.4 1255.7)"/><ellipse cx="1018.8" cy="1240.5" rx="7.7" ry="1.6" transform="rotate(131 1018.8 1240.5)"/><ellipse cx="1107.2" cy="1204.4" rx="8.1" ry="2.4" transform="rotate(157 1107.2 1204.4)"/><ellipse cx="1006.3" cy="1282.8" rx="11.2" ry="4.4" transform="rotate(177 1006.3 1282.8)"/><ellipse cx="1451.1" cy="1090.1" rx="12.9" ry="4.3" transform="rotate(93 1451.1 1090.1)"/><ellipse cx="1288.2" cy="1075.3" rx="6.8" ry="2.1" transform="rotate(36 1288.2 1075.3)"/><ellipse cx="1175.6" cy="1119.9" rx="8.8" ry="2.1" transform="rotate(149 1175.6 1119.9)"/><ellipse cx="1426.6" cy="1306.5" rx="12.1" ry="2" transform="rotate(16 1426.6 1306.5)"/><ellipse cx="1444.4" cy="1139.1" rx="15.1" ry="2.4" transform="rotate(21 1444.4 1139.1)"/><ellipse cx="1356.7" cy="1297.2" rx="7.3" ry="2.2" transform="rotate(43 1356.7 1297.2)"/><ellipse cx="1254" cy="1368.3" rx="13.3" ry="3.6" transform="rotate(0 1254 1368.3)"/><ellipse cx="1310.3" cy="1160.4" rx="8" ry="2.5" transform="rotate(112 1310.3 1160.4)"/><ellipse cx="1355.8" cy="1225.5" rx="8.8" ry="1.8" transform="rotate(75 1355.8 1225.5)"/><ellipse cx="1107.1" cy="1270.4" rx="10.3" ry="3.1" transform="rotate(166 1107.1 1270.4)"/><ellipse cx="1025.8" cy="1215" rx="7.3" ry="1.5" transform="rotate(150 1025.8 1215)"/><ellipse cx="1276.7" cy="1068.4" rx="9.8" ry="5.5" transform="rotate(37 1276.7 1068.4)"/><ellipse cx="1322" cy="1096.5" rx="10.7" ry="2" transform="rotate(122 1322 1096.5)"/><ellipse cx="1322.6" cy="1179.6" rx="10.7" ry="2.5" transform="rotate(92 1322.6 1179.6)"/><ellipse cx="1016.5" cy="1395.6" rx="13" ry="3.7" transform="rotate(74 1016.5 1395.6)"/><ellipse cx="1033.7" cy="1118.9" rx="8.2" ry="1.8" transform="rotate(19 1033.7 1118.9)"/><ellipse cx="1251.5" cy="1148" rx="7.3" ry="3.6" transform="rotate(89 1251.5 1148)"/><ellipse cx="1263.7" cy="1223.2" rx="13.7" ry="2.6" transform="rotate(105 1263.7 1223.2)"/><ellipse cx="1286.5" cy="1246" rx="9.1" ry="4.2" transform="rotate(68 1286.5 1246)"/><ellipse cx="1147.2" cy="1137" rx="6.1" ry="1.6" transform="rotate(65 1147.2 1137)"/><ellipse cx="1344.7" cy="1208.4" rx="7.2" ry="4" transform="rotate(173 1344.7 1208.4)"/><ellipse cx="1006.2" cy="1158.6" rx="10.4" ry="4.5" transform="rotate(152 1006.2 1158.6)"/><ellipse cx="1280" cy="1085.3" rx="12" ry="2.6" transform="rotate(99 1280 1085.3)"/><ellipse cx="1374" cy="1199.3" rx="10.5" ry="5" transform="rotate(154 1374 1199.3)"/><ellipse cx="1158.1" cy="1131.4" rx="13.6" ry="3" transform="rotate(178 1158.1 1131.4)"/><ellipse cx="1479" cy="1082.9" rx="9.5" ry="5.6" transform="rotate(44 1479 1082.9)"/><ellipse cx="1407.3" cy="1298.8" rx="12.2" ry="3" transform="rotate(102 1407.3 1298.8)"/><ellipse cx="1444.8" cy="1297.7" rx="11.8" ry="2.5" transform="rotate(20 1444.8 1297.7)"/><ellipse cx="1173.2" cy="1248.1" rx="6.4" ry="2.4" transform="rotate(88 1173.2 1248.1)"/><ellipse cx="1421.4" cy="1288.6" rx="9.9" ry="3" transform="rotate(61 1421.4 1288.6)"/><ellipse cx="1099.1" cy="1384.9" rx="8.4" ry="4" transform="rotate(38 1099.1 1384.9)"/><ellipse cx="1149.8" cy="1069.1" rx="15.9" ry="3.5" transform="rotate(33 1149.8 1069.1)"/><ellipse cx="1134" cy="1236.7" rx="8" ry="2.9" transform="rotate(85 1134 1236.7)"/><ellipse cx="1015.7" cy="1261.8" rx="15.4" ry="3" transform="rotate(3 1015.7 1261.8)"/><ellipse cx="1221.3" cy="1176.8" rx="14.5" ry="2.4" transform="rotate(74 1221.3 1176.8)"/><ellipse cx="1374.8" cy="1270.5" rx="6.7" ry="3" transform="rotate(55 1374.8 1270.5)"/><ellipse cx="1478.3" cy="1353" rx="12.1" ry="4.2" transform="rotate(44 1478.3 1353)"/><ellipse cx="1426.4" cy="1373.8" rx="11.4" ry="2" transform="rotate(1 1426.4 1373.8)"/><ellipse cx="1421.4" cy="1227.3" rx="6.4" ry="1.4" transform="rotate(6 1421.4 1227.3)"/><ellipse cx="1307.7" cy="1385.8" rx="7.5" ry="2.3" transform="rotate(80 1307.7 1385.8)"/><ellipse cx="1044.6" cy="1281.1" rx="9.2" ry="2.1" transform="rotate(52 1044.6 1281.1)"/><ellipse cx="1020.3" cy="1114.7" rx="13.2" ry="2.4" transform="rotate(136 1020.3 1114.7)"/><ellipse cx="1023.3" cy="1308.1" rx="10.1" ry="4.8" transform="rotate(72 1023.3 1308.1)"/><ellipse cx="1466.5" cy="1262.6" rx="9.9" ry="3.4" transform="rotate(56 1466.5 1262.6)"/><ellipse cx="1045.2" cy="1310.2" rx="6" ry="2" transform="rotate(171 1045.2 1310.2)"/><ellipse cx="1088.1" cy="1300.4" rx="6.6" ry="3.5" transform="rotate(62 1088.1 1300.4)"/><ellipse cx="1335.7" cy="1377.7" rx="6.8" ry="1.4" transform="rotate(35 1335.7 1377.7)"/><ellipse cx="1083.6" cy="1144.1" rx="13.7" ry="2.3" transform="rotate(87 1083.6 1144.1)"/><ellipse cx="1159.5" cy="1092.7" rx="13.8" ry="3.7" transform="rotate(30 1159.5 1092.7)"/><ellipse cx="1054.4" cy="1224.5" rx="6.8" ry="3.6" transform="rotate(108 1054.4 1224.5)"/><ellipse cx="1050.7" cy="1383.9" rx="9.4" ry="2.4" transform="rotate(31 1050.7 1383.9)"/><ellipse cx="1179.4" cy="1068.4" rx="10.2" ry="1.9" transform="rotate(116 1179.4 1068.4)"/><ellipse cx="1367.2" cy="1176.1" rx="10" ry="3.6" transform="rotate(51 1367.2 1176.1)"/><ellipse cx="1322.5" cy="1324.4" rx="7.1" ry="3.5" transform="rotate(145 1322.5 1324.4)"/><ellipse cx="1038.9" cy="1246.9" rx="5.8" ry="2.8" transform="rotate(25 1038.9 1246.9)"/><ellipse cx="1470.8" cy="1142.2" rx="7.3" ry="2.8" transform="rotate(149 1470.8 1142.2)"/><ellipse cx="1125" cy="1288.8" rx="11.4" ry="2.9" transform="rotate(159 1125 1288.8)"/><ellipse cx="1030.5" cy="1336.7" rx="7.2" ry="2.7" transform="rotate(128 1030.5 1336.7)"/><ellipse cx="1397.7" cy="1378.2" rx="10.1" ry="2.9" transform="rotate(14 1397.7 1378.2)"/><ellipse cx="1229" cy="1243.5" rx="14" ry="3.2" transform="rotate(51 1229 1243.5)"/><ellipse cx="1077.2" cy="1229.9" rx="11.5" ry="4.1" transform="rotate(37 1077.2 1229.9)"/><ellipse cx="1224" cy="1148.2" rx="9.2" ry="4.6" transform="rotate(15 1224 1148.2)"/><ellipse cx="1082.9" cy="1324.8" rx="7.5" ry="2.1" transform="rotate(86 1082.9 1324.8)"/><ellipse cx="1290.6" cy="1293.8" rx="16" ry="2.9" transform="rotate(163 1290.6 1293.8)"/><ellipse cx="1128.9" cy="1225" rx="8.4" ry="2.5" transform="rotate(30 1128.9 1225)"/><ellipse cx="1080.5" cy="1117.4" rx="6.7" ry="2.1" transform="rotate(59 1080.5 1117.4)"/><ellipse cx="1068.5" cy="1280.6" rx="6.5" ry="1.8" transform="rotate(106 1068.5 1280.6)"/><ellipse cx="1386.9" cy="1093.4" rx="11.1" ry="4.5" transform="rotate(165 1386.9 1093.4)"/><ellipse cx="1127.2" cy="1369.1" rx="6.9" ry="2" transform="rotate(31 1127.2 1369.1)"/><ellipse cx="1272.6" cy="1147.4" rx="10.6" ry="4.5" transform="rotate(62 1272.6 1147.4)"/><ellipse cx="1243.9" cy="1160.9" rx="8" ry="1.4" transform="rotate(157 1243.9 1160.9)"/><ellipse cx="1394.2" cy="1198.1" rx="8.2" ry="1.8" transform="rotate(26 1394.2 1198.1)"/><ellipse cx="1417.6" cy="1262.7" rx="14.6" ry="3.6" transform="rotate(21 1417.6 1262.7)"/><ellipse cx="1323.4" cy="1267.3" rx="9" ry="1.7" transform="rotate(107 1323.4 1267.3)"/><ellipse cx="1392" cy="1269.1" rx="8.8" ry="3.8" transform="rotate(167 1392 1269.1)"/><ellipse cx="1112.5" cy="1230.7" rx="16.7" ry="3.2" transform="rotate(170 1112.5 1230.7)"/><ellipse cx="1471.3" cy="1282.1" rx="6.5" ry="2.1" transform="rotate(139 1471.3 1282.1)"/><ellipse cx="1274.5" cy="1241.7" rx="14.5" ry="3.3" transform="rotate(178 1274.5 1241.7)"/><ellipse cx="1036.2" cy="1230.5" rx="6.6" ry="2.1" transform="rotate(118 1036.2 1230.5)"/><ellipse cx="1215.6" cy="1278.5" rx="15.3" ry="2.9" transform="rotate(160 1215.6 1278.5)"/><ellipse cx="1420.9" cy="1149.2" rx="11" ry="1.9" transform="rotate(141 1420.9 1149.2)"/><ellipse cx="1467.7" cy="1297.1" rx="14.2" ry="3.5" transform="rotate(19 1467.7 1297.1)"/><ellipse cx="1071.8" cy="1099" rx="9.6" ry="4.9" transform="rotate(96 1071.8 1099)"/><ellipse cx="1248.9" cy="1087.9" rx="12" ry="2.3" transform="rotate(133 1248.9 1087.9)"/><ellipse cx="1114.2" cy="1104.8" rx="9.4" ry="5.4" transform="rotate(172 1114.2 1104.8)"/><ellipse cx="1428.4" cy="1358.2" rx="12.8" ry="3.9" transform="rotate(32 1428.4 1358.2)"/><ellipse cx="1021.6" cy="1157.9" rx="11" ry="3" transform="rotate(92 1021.6 1157.9)"/><ellipse cx="1410.6" cy="1081" rx="16.8" ry="3.2" transform="rotate(88 1410.6 1081)"/><ellipse cx="1247.9" cy="1328.9" rx="7.6" ry="1.6" transform="rotate(118 1247.9 1328.9)"/><ellipse cx="1128.6" cy="1181.4" rx="16.2" ry="3.5" transform="rotate(74 1128.6 1181.4)"/><ellipse cx="1315.7" cy="1282.7" rx="15.4" ry="2.6" transform="rotate(159 1315.7 1282.7)"/><ellipse cx="1360.2" cy="1335.6" rx="8.3" ry="3.5" transform="rotate(38 1360.2 1335.6)"/><ellipse cx="1382.8" cy="1349.3" rx="6.2" ry="2.3" transform="rotate(169 1382.8 1349.3)"/><ellipse cx="1209.7" cy="1361.7" rx="7.9" ry="4.1" transform="rotate(29 1209.7 1361.7)"/><ellipse cx="1179.2" cy="1359.6" rx="13.8" ry="2.3" transform="rotate(161 1179.2 1359.6)"/><ellipse cx="1454.4" cy="1321.5" rx="13.4" ry="3.4" transform="rotate(38 1454.4 1321.5)"/><ellipse cx="1271.1" cy="1381.9" rx="11.7" ry="2.3" transform="rotate(46 1271.1 1381.9)"/><ellipse cx="1439" cy="1330.7" rx="7.1" ry="1.8" transform="rotate(38 1439 1330.7)"/><ellipse cx="1378.9" cy="1303.2" rx="6.5" ry="2.9" transform="rotate(38 1378.9 1303.2)"/><ellipse cx="1059.4" cy="1260" rx="12.8" ry="2.6" transform="rotate(158 1059.4 1260)"/><ellipse cx="1005.1" cy="1233.9" rx="7.6" ry="1.3" transform="rotate(57 1005.1 1233.9)"/><ellipse cx="1278.9" cy="1161.6" rx="5.2" ry="2.1" transform="rotate(85 1278.9 1161.6)"/><ellipse cx="1483.8" cy="1230.1" rx="8.6" ry="3.7" transform="rotate(43 1483.8 1230.1)"/><ellipse cx="1087.6" cy="1278.1" rx="12.1" ry="2.3" transform="rotate(149 1087.6 1278.1)"/><ellipse cx="1223.8" cy="1119.2" rx="7.4" ry="1.3" transform="rotate(59 1223.8 1119.2)"/><ellipse cx="1065.6" cy="1194.8" rx="11.8" ry="3.9" transform="rotate(33 1065.6 1194.8)"/><ellipse cx="1280.7" cy="1326.9" rx="12.4" ry="3.7" transform="rotate(155 1280.7 1326.9)"/><ellipse cx="1079.1" cy="1191.9" rx="10.2" ry="2.5" transform="rotate(115 1079.1 1191.9)"/><ellipse cx="1058" cy="1145.9" rx="7.9" ry="2.9" transform="rotate(137 1058 1145.9)"/><ellipse cx="1479.3" cy="1307.6" rx="9.6" ry="3.5" transform="rotate(17 1479.3 1307.6)"/><ellipse cx="1035.7" cy="1390" rx="6.2" ry="2.9" transform="rotate(90 1035.7 1390)"/><ellipse cx="1391.8" cy="1140.3" rx="9.7" ry="3.6" transform="rotate(29 1391.8 1140.3)"/><ellipse cx="1143.7" cy="1171.5" rx="13.8" ry="3.2" transform="rotate(113 1143.7 1171.5)"/><ellipse cx="1079.2" cy="1386" rx="7.7" ry="4.4" transform="rotate(48 1079.2 1386)"/><ellipse cx="1285.4" cy="1221.4" rx="12" ry="3.9" transform="rotate(21 1285.4 1221.4)"/><ellipse cx="1040.1" cy="1344.4" rx="7.7" ry="2.2" transform="rotate(120 1040.1 1344.4)"/><ellipse cx="1135.7" cy="1336.1" rx="8.8" ry="3.4" transform="rotate(13 1135.7 1336.1)"/><ellipse cx="1144.4" cy="1254.1" rx="7.7" ry="1.7" transform="rotate(76 1144.4 1254.1)"/><ellipse cx="1231.1" cy="1201.5" rx="15.3" ry="2.9" transform="rotate(158 1231.1 1201.5)"/><ellipse cx="1491.9" cy="1179.5" rx="10.4" ry="3.6" transform="rotate(82 1491.9 1179.5)"/><ellipse cx="1174.7" cy="1311.7" rx="10" ry="3.8" transform="rotate(80 1174.7 1311.7)"/><ellipse cx="1208.5" cy="1105.8" rx="8.4" ry="3" transform="rotate(104 1208.5 1105.8)"/><ellipse cx="1232.5" cy="1216.1" rx="12.6" ry="2.1" transform="rotate(147 1232.5 1216.1)"/><ellipse cx="1061.5" cy="1071.5" rx="9.1" ry="1.7" transform="rotate(32 1061.5 1071.5)"/><ellipse cx="1294.3" cy="1168.5" rx="5.9" ry="2.3" transform="rotate(115 1294.3 1168.5)"/><ellipse cx="1333.6" cy="1172.6" rx="12.6" ry="3.9" transform="rotate(138 1333.6 1172.6)"/><ellipse cx="1386.9" cy="1372.5" rx="14.8" ry="3.8" transform="rotate(168 1386.9 1372.5)"/><ellipse cx="1185.6" cy="1271.3" rx="11.8" ry="2.6" transform="rotate(9 1185.6 1271.3)"/><ellipse cx="1084.4" cy="1264.1" rx="6.2" ry="2.3" transform="rotate(177 1084.4 1264.1)"/><ellipse cx="1141.9" cy="1214.7" rx="12.9" ry="2.7" transform="rotate(119 1141.9 1214.7)"/><ellipse cx="1408.5" cy="1353.4" rx="12.8" ry="3.4" transform="rotate(47 1408.5 1353.4)"/><ellipse cx="1207.3" cy="1290.4" rx="5.2" ry="2.2" transform="rotate(102 1207.3 1290.4)"/><ellipse cx="1274.3" cy="1193.8" rx="16" ry="3.5" transform="rotate(17 1274.3 1193.8)"/><ellipse cx="1043.6" cy="1084.5" rx="12.8" ry="3.6" transform="rotate(18 1043.6 1084.5)"/><ellipse cx="1073.9" cy="1205.3" rx="13.1" ry="4" transform="rotate(101 1073.9 1205.3)"/><ellipse cx="1377.4" cy="1331.8" rx="6.6" ry="2.2" transform="rotate(157 1377.4 1331.8)"/><ellipse cx="1394" cy="1252.9" rx="15" ry="3.1" transform="rotate(162 1394 1252.9)"/><ellipse cx="1124.2" cy="1197.4" rx="16.6" ry="3" transform="rotate(17 1124.2 1197.4)"/><ellipse cx="1169.6" cy="1206.3" rx="5.5" ry="1.7" transform="rotate(43 1169.6 1206.3)"/><ellipse cx="1166.8" cy="1227.4" rx="10.9" ry="2.6" transform="rotate(36 1166.8 1227.4)"/><ellipse cx="1160" cy="1147.6" rx="13.4" ry="3" transform="rotate(0 1160 1147.6)"/><ellipse cx="1278.9" cy="1364.3" rx="10.9" ry="3.4" transform="rotate(126 1278.9 1364.3)"/><ellipse cx="1176.4" cy="1380.4" rx="13.5" ry="3.1" transform="rotate(46 1176.4 1380.4)"/><ellipse cx="1067.1" cy="1153.8" rx="7" ry="3.7" transform="rotate(178 1067.1 1153.8)"/><ellipse cx="1128.1" cy="1164" rx="13.1" ry="2.3" transform="rotate(45 1128.1 1164)"/><ellipse cx="1061.2" cy="1295.8" rx="7.1" ry="2.7" transform="rotate(141 1061.2 1295.8)"/><ellipse cx="1313.4" cy="1218.7" rx="9.3" ry="2" transform="rotate(28 1313.4 1218.7)"/><ellipse cx="1354" cy="1115.5" rx="17.5" ry="3" transform="rotate(75 1354 1115.5)"/><ellipse cx="1478.8" cy="1189.6" rx="11.6" ry="3.5" transform="rotate(22 1478.8 1189.6)"/><ellipse cx="1049.3" cy="1237.3" rx="11.1" ry="3.3" transform="rotate(83 1049.3 1237.3)"/><ellipse cx="1163" cy="1306" rx="12" ry="2.8" transform="rotate(78 1163 1306)"/><ellipse cx="1183.9" cy="1235.2" rx="9.5" ry="1.8" transform="rotate(6 1183.9 1235.2)"/><ellipse cx="1247.9" cy="1298.9" rx="12.2" ry="4.1" transform="rotate(132 1247.9 1298.9)"/></g></g><g filter="url(#b1)"><g fill="#a8b8d8" fill-opacity="0.85"><ellipse cx="1431.4" cy="1116.4" rx="7.1" ry="8.1" transform="rotate(39 1431.4 1116.4)"/><ellipse cx="1035.1" cy="1091.1" rx="8.6" ry="5.8" transform="rotate(15 1035.1 1091.1)"/><ellipse cx="1253.2" cy="1199.4" rx="8.1" ry="8" transform="rotate(52 1253.2 1199.4)"/><ellipse cx="1488.6" cy="1245.9" rx="4.9" ry="7.5" transform="rotate(106 1488.6 1245.9)"/><ellipse cx="1374.7" cy="1330" rx="7.2" ry="8.5" transform="rotate(151 1374.7 1330)"/><ellipse cx="1056.1" cy="1380" rx="8.1" ry="6.2" transform="rotate(27 1056.1 1380)"/><ellipse cx="1486.6" cy="1345.4" rx="9.1" ry="8.5" transform="rotate(33 1486.6 1345.4)"/><ellipse cx="1297.1" cy="1262.3" rx="6.3" ry="6" transform="rotate(32 1297.1 1262.3)"/><ellipse cx="1357.3" cy="1197.8" rx="7.8" ry="5.7" transform="rotate(14 1357.3 1197.8)"/><ellipse cx="1333.6" cy="1339" rx="6.3" ry="9.4" transform="rotate(69 1333.6 1339)"/><ellipse cx="1006.8" cy="1292.5" rx="7.7" ry="7.6" transform="rotate(129 1006.8 1292.5)"/><ellipse cx="1135.6" cy="1106.5" rx="6.7" ry="6.7" transform="rotate(167 1135.6 1106.5)"/><ellipse cx="1492.5" cy="1216.9" rx="9.6" ry="7" transform="rotate(125 1492.5 1216.9)"/><ellipse cx="1113" cy="1272" rx="7.3" ry="8.8" transform="rotate(113 1113 1272)"/><ellipse cx="1279.8" cy="1280.3" rx="6.9" ry="6.1" transform="rotate(89 1279.8 1280.3)"/><ellipse cx="1039.9" cy="1183.1" rx="8.9" ry="7.5" transform="rotate(150 1039.9 1183.1)"/><ellipse cx="1484.7" cy="1155.3" rx="10.6" ry="7.2" transform="rotate(88 1484.7 1155.3)"/><ellipse cx="1325.3" cy="1360.2" rx="4.8" ry="7.8" transform="rotate(82 1325.3 1360.2)"/><ellipse cx="1155" cy="1139.5" rx="8.1" ry="6.6" transform="rotate(31 1155 1139.5)"/><ellipse cx="1226.4" cy="1386.3" rx="8.6" ry="6.7" transform="rotate(19 1226.4 1386.3)"/><ellipse cx="1223" cy="1260.5" rx="7.9" ry="6.7" transform="rotate(15 1223 1260.5)"/><ellipse cx="1259.4" cy="1109.7" rx="8.1" ry="8.5" transform="rotate(9 1259.4 1109.7)"/><ellipse cx="1208.3" cy="1147.5" rx="5.7" ry="8.1" transform="rotate(7 1208.3 1147.5)"/><ellipse cx="1447" cy="1341.1" rx="8.3" ry="7.2" transform="rotate(79 1447 1341.1)"/><ellipse cx="1132.3" cy="1070.8" rx="6.1" ry="8.2" transform="rotate(65 1132.3 1070.8)"/><ellipse cx="1058.7" cy="1333.5" rx="8.8" ry="8.4" transform="rotate(53 1058.7 1333.5)"/><ellipse cx="1329.4" cy="1291" rx="7.1" ry="7.1" transform="rotate(129 1329.4 1291)"/><ellipse cx="1275.4" cy="1184.3" rx="9" ry="6.7" transform="rotate(159 1275.4 1184.3)"/><ellipse cx="1082.1" cy="1096.1" rx="8.4" ry="8.1" transform="rotate(125 1082.1 1096.1)"/><ellipse cx="1333.8" cy="1174.3" rx="7.4" ry="5.8" transform="rotate(30 1333.8 1174.3)"/><ellipse cx="1319.9" cy="1093.2" rx="6.7" ry="9" transform="rotate(119 1319.9 1093.2)"/><ellipse cx="1147.6" cy="1269.1" rx="6.1" ry="7.7" transform="rotate(124 1147.6 1269.1)"/><ellipse cx="1140.9" cy="1194.1" rx="9.6" ry="7.8" transform="rotate(14 1140.9 1194.1)"/><ellipse cx="1292.5" cy="1397.8" rx="8.1" ry="6.4" transform="rotate(141 1292.5 1397.8)"/><ellipse cx="1187.5" cy="1246" rx="7" ry="7.3" transform="rotate(62 1187.5 1246)"/><ellipse cx="1251.7" cy="1340.3" rx="8.3" ry="8" transform="rotate(68 1251.7 1340.3)"/><ellipse cx="1098" cy="1216.7" rx="9" ry="8.1" transform="rotate(117 1098 1216.7)"/><ellipse cx="1180.4" cy="1124.5" rx="5.6" ry="7.2" transform="rotate(7 1180.4 1124.5)"/><ellipse cx="1393.2" cy="1323.2" rx="6.6" ry="7" transform="rotate(97 1393.2 1323.2)"/><ellipse cx="1350.1" cy="1271.2" rx="7.6" ry="7.7" transform="rotate(46 1350.1 1271.2)"/><ellipse cx="1222.3" cy="1291.9" rx="7.6" ry="7.2" transform="rotate(53 1222.3 1291.9)"/><ellipse cx="1373.5" cy="1153.1" rx="6.1" ry="7.5" transform="rotate(143 1373.5 1153.1)"/><ellipse cx="1395.4" cy="1379.7" rx="6.9" ry="8.7" transform="rotate(41 1395.4 1379.7)"/><ellipse cx="1186.1" cy="1158.1" rx="8" ry="6.2" transform="rotate(65 1186.1 1158.1)"/><ellipse cx="1328.8" cy="1387.5" rx="7.5" ry="5.4" transform="rotate(126 1328.8 1387.5)"/><ellipse cx="1161.8" cy="1399.4" rx="7.6" ry="8.3" transform="rotate(17 1161.8 1399.4)"/><ellipse cx="1014.8" cy="1243.2" rx="7.8" ry="7.8" transform="rotate(175 1014.8 1243.2)"/><ellipse cx="1400.2" cy="1131.2" rx="7.6" ry="5.3" transform="rotate(142 1400.2 1131.2)"/><ellipse cx="1013.4" cy="1200.7" rx="8.5" ry="7.3" transform="rotate(165 1013.4 1200.7)"/><ellipse cx="1083" cy="1332.9" rx="8.3" ry="7" transform="rotate(29 1083 1332.9)"/><ellipse cx="1465.8" cy="1134.1" rx="6.6" ry="8.4" transform="rotate(143 1465.8 1134.1)"/><ellipse cx="1405.2" cy="1102" rx="6.3" ry="8.8" transform="rotate(151 1405.2 1102)"/><ellipse cx="1446" cy="1383.7" rx="9.9" ry="7" transform="rotate(86 1446 1383.7)"/><ellipse cx="1063.4" cy="1303.2" rx="5.1" ry="7.1" transform="rotate(127 1063.4 1303.2)"/><ellipse cx="1151.3" cy="1322.8" rx="8.6" ry="7.4" transform="rotate(20 1151.3 1322.8)"/><ellipse cx="1283.2" cy="1360.9" rx="9.3" ry="6.3" transform="rotate(124 1283.2 1360.9)"/><ellipse cx="1415.1" cy="1170" rx="7.2" ry="10.6" transform="rotate(94 1415.1 1170)"/><ellipse cx="1005.6" cy="1330.8" rx="7.7" ry="7.5" transform="rotate(73 1005.6 1330.8)"/><ellipse cx="1489.5" cy="1136.5" rx="8.4" ry="8.2" transform="rotate(56 1489.5 1136.5)"/><ellipse cx="1016.1" cy="1071.9" rx="6.5" ry="9.5" transform="rotate(67 1016.1 1071.9)"/><ellipse cx="1466.6" cy="1207.9" rx="6.3" ry="10.1" transform="rotate(163 1466.6 1207.9)"/><ellipse cx="1301.3" cy="1205.4" rx="5.7" ry="9.2" transform="rotate(117 1301.3 1205.4)"/><ellipse cx="1395.3" cy="1289.1" rx="7.2" ry="7.1" transform="rotate(11 1395.3 1289.1)"/><ellipse cx="1088.4" cy="1383.2" rx="9" ry="6.9" transform="rotate(35 1088.4 1383.2)"/><ellipse cx="1104.3" cy="1128" rx="7.8" ry="5.8" transform="rotate(165 1104.3 1128)"/><ellipse cx="1432.7" cy="1188.4" rx="9.7" ry="6.9" transform="rotate(85 1432.7 1188.4)"/><ellipse cx="1037.1" cy="1148.7" rx="6.4" ry="8.2" transform="rotate(64 1037.1 1148.7)"/><ellipse cx="1103.2" cy="1068.1" rx="5.4" ry="6.9" transform="rotate(85 1103.2 1068.1)"/><ellipse cx="1139.4" cy="1170.3" rx="8" ry="5.9" transform="rotate(41 1139.4 1170.3)"/><ellipse cx="1019.7" cy="1381.1" rx="6.2" ry="6.6" transform="rotate(148 1019.7 1381.1)"/><ellipse cx="1237.9" cy="1120.5" rx="8.5" ry="7.6" transform="rotate(50 1237.9 1120.5)"/><ellipse cx="1303.2" cy="1078.9" rx="8.9" ry="7.3" transform="rotate(148 1303.2 1078.9)"/><ellipse cx="1205.1" cy="1393.8" rx="7.8" ry="8.8" transform="rotate(31 1205.1 1393.8)"/><ellipse cx="1479.1" cy="1097" rx="7.1" ry="9" transform="rotate(51 1479.1 1097)"/><ellipse cx="1338.6" cy="1127.9" rx="6.1" ry="6.8" transform="rotate(145 1338.6 1127.9)"/><ellipse cx="1148.6" cy="1383" rx="5.7" ry="6.9" transform="rotate(23 1148.6 1383)"/><ellipse cx="1414.2" cy="1302.9" rx="6.1" ry="6.1" transform="rotate(40 1414.2 1302.9)"/><ellipse cx="1283.3" cy="1108.6" rx="7.4" ry="8.7" transform="rotate(72 1283.3 1108.6)"/><ellipse cx="1263.1" cy="1131.1" rx="6.4" ry="6" transform="rotate(18 1263.1 1131.1)"/><ellipse cx="1039.2" cy="1224.1" rx="9.5" ry="7.7" transform="rotate(84 1039.2 1224.1)"/><ellipse cx="1017.8" cy="1138.1" rx="9.4" ry="6.7" transform="rotate(26 1017.8 1138.1)"/><ellipse cx="1067.3" cy="1109.6" rx="6.6" ry="7.7" transform="rotate(164 1067.3 1109.6)"/><ellipse cx="1069" cy="1128.9" rx="8.8" ry="8.3" transform="rotate(80 1069 1128.9)"/><ellipse cx="1425.4" cy="1086.3" rx="7.7" ry="9.5" transform="rotate(6 1425.4 1086.3)"/><ellipse cx="1276.5" cy="1157.2" rx="9.7" ry="7.9" transform="rotate(39 1276.5 1157.2)"/></g><g fill="#a4b7db" fill-opacity="0.9"><ellipse cx="1130.9" cy="1240.2" rx="3.4" ry="2.5" transform="rotate(109 1130.9 1240.2)"/><ellipse cx="1158.6" cy="1174.8" rx="2.3" ry="3" transform="rotate(85 1158.6 1174.8)"/><ellipse cx="1327.2" cy="1179.7" rx="4" ry="2.9" transform="rotate(113 1327.2 1179.7)"/><ellipse cx="1072.5" cy="1190.5" rx="2" ry="3.6" transform="rotate(102 1072.5 1190.5)"/><ellipse cx="1378.9" cy="1151.3" rx="4.6" ry="2.5" transform="rotate(130 1378.9 1151.3)"/><ellipse cx="1142.9" cy="1174.5" rx="2" ry="3.9" transform="rotate(134 1142.9 1174.5)"/><ellipse cx="1042.7" cy="1240.3" rx="3.7" ry="3.1" transform="rotate(116 1042.7 1240.3)"/><ellipse cx="1131.7" cy="1205.1" rx="3.2" ry="2.6" transform="rotate(123 1131.7 1205.1)"/><ellipse cx="1338.6" cy="1138.5" rx="4.5" ry="2.3" transform="rotate(74 1338.6 1138.5)"/><ellipse cx="1026.6" cy="1350" rx="3.5" ry="4.1" transform="rotate(155 1026.6 1350)"/><ellipse cx="1040.5" cy="1344.8" rx="3.1" ry="3.2" transform="rotate(153 1040.5 1344.8)"/><ellipse cx="1463.1" cy="1227.1" rx="1.9" ry="3.9" transform="rotate(109 1463.1 1227.1)"/><ellipse cx="1195.1" cy="1301.8" rx="3.3" ry="2.7" transform="rotate(34 1195.1 1301.8)"/><ellipse cx="1331.5" cy="1234.1" rx="4.1" ry="3.3" transform="rotate(110 1331.5 1234.1)"/><ellipse cx="1027.2" cy="1191.7" rx="2.3" ry="3.2" transform="rotate(103 1027.2 1191.7)"/><ellipse cx="1470.9" cy="1182" rx="1.9" ry="6" transform="rotate(50 1470.9 1182)"/><ellipse cx="1080.5" cy="1151.6" rx="1.7" ry="5.6" transform="rotate(39 1080.5 1151.6)"/><ellipse cx="1477.8" cy="1305.2" rx="2.1" ry="5.7" transform="rotate(59 1477.8 1305.2)"/><ellipse cx="1389.8" cy="1323.6" rx="3.9" ry="1.9" transform="rotate(58 1389.8 1323.6)"/><ellipse cx="1456.8" cy="1107.4" rx="2.3" ry="4.6" transform="rotate(108 1456.8 1107.4)"/><ellipse cx="1266.1" cy="1257.4" rx="2" ry="5.1" transform="rotate(105 1266.1 1257.4)"/><ellipse cx="1016.3" cy="1111.5" rx="4.2" ry="2.1" transform="rotate(24 1016.3 1111.5)"/><ellipse cx="1407.4" cy="1329.7" rx="4.5" ry="2.3" transform="rotate(90 1407.4 1329.7)"/><ellipse cx="1344.5" cy="1194" rx="3.2" ry="2.3" transform="rotate(171 1344.5 1194)"/><ellipse cx="1061.9" cy="1310.1" rx="3.6" ry="1.9" transform="rotate(106 1061.9 1310.1)"/><ellipse cx="1195.8" cy="1180.7" rx="5" ry="2.6" transform="rotate(174 1195.8 1180.7)"/><ellipse cx="1004" cy="1252" rx="5.1" ry="2.6" transform="rotate(77 1004 1252)"/><ellipse cx="1183.8" cy="1154" rx="4.2" ry="2.2" transform="rotate(47 1183.8 1154)"/><ellipse cx="1341.2" cy="1307.4" rx="5.2" ry="2.8" transform="rotate(71 1341.2 1307.4)"/><ellipse cx="1280.3" cy="1388.7" rx="5.1" ry="2.6" transform="rotate(95 1280.3 1388.7)"/><ellipse cx="1305.4" cy="1218.6" rx="3.5" ry="2.5" transform="rotate(19 1305.4 1218.6)"/><ellipse cx="1442.2" cy="1323.7" rx="4" ry="3.4" transform="rotate(102 1442.2 1323.7)"/><ellipse cx="1100.8" cy="1079.7" rx="3.1" ry="3.6" transform="rotate(45 1100.8 1079.7)"/><ellipse cx="1203.2" cy="1170.5" rx="2.7" ry="4.7" transform="rotate(16 1203.2 1170.5)"/><ellipse cx="1256.3" cy="1236.7" rx="2.4" ry="2.9" transform="rotate(142 1256.3 1236.7)"/><ellipse cx="1139.3" cy="1151.9" rx="3" ry="2.6" transform="rotate(22 1139.3 1151.9)"/><ellipse cx="1320.3" cy="1359.6" rx="1.9" ry="4.8" transform="rotate(43 1320.3 1359.6)"/><ellipse cx="1285" cy="1272" rx="4.2" ry="3.1" transform="rotate(166 1285 1272)"/><ellipse cx="1177" cy="1127" rx="2" ry="6.2" transform="rotate(98 1177 1127)"/><ellipse cx="1253.6" cy="1383.5" rx="3" ry="3.2" transform="rotate(86 1253.6 1383.5)"/><ellipse cx="1068" cy="1355.9" rx="4" ry="2.2" transform="rotate(9 1068 1355.9)"/><ellipse cx="1170.5" cy="1320.6" rx="3.5" ry="3.3" transform="rotate(77 1170.5 1320.6)"/><ellipse cx="1139.7" cy="1319.8" rx="3.8" ry="2.6" transform="rotate(120 1139.7 1319.8)"/><ellipse cx="1280.4" cy="1144.4" rx="4.8" ry="2.3" transform="rotate(101 1280.4 1144.4)"/><ellipse cx="1203.9" cy="1102.9" rx="2.4" ry="3.4" transform="rotate(158 1203.9 1102.9)"/><ellipse cx="1374.6" cy="1096.1" rx="4.7" ry="3" transform="rotate(139 1374.6 1096.1)"/><ellipse cx="1159.4" cy="1111" rx="2.1" ry="5.5" transform="rotate(50 1159.4 1111)"/><ellipse cx="1390.3" cy="1283.1" rx="2.9" ry="4.1" transform="rotate(138 1390.3 1283.1)"/><ellipse cx="1409.2" cy="1185.1" rx="4.5" ry="2.7" transform="rotate(62 1409.2 1185.1)"/><ellipse cx="1039.2" cy="1297.9" rx="3.7" ry="3.1" transform="rotate(50 1039.2 1297.9)"/><ellipse cx="1474.8" cy="1146.1" rx="4.6" ry="3" transform="rotate(29 1474.8 1146.1)"/><ellipse cx="1370.6" cy="1119.3" rx="4.7" ry="2.6" transform="rotate(23 1370.6 1119.3)"/><ellipse cx="1409.3" cy="1391.2" rx="2.4" ry="4.8" transform="rotate(143 1409.3 1391.2)"/><ellipse cx="1170.8" cy="1139.6" rx="3.6" ry="3.6" transform="rotate(87 1170.8 1139.6)"/><ellipse cx="1293.7" cy="1112.8" rx="3.5" ry="3" transform="rotate(30 1293.7 1112.8)"/><ellipse cx="1223.9" cy="1214" rx="4.5" ry="2.3" transform="rotate(71 1223.9 1214)"/><ellipse cx="1296.2" cy="1387.3" rx="3.9" ry="2" transform="rotate(178 1296.2 1387.3)"/><ellipse cx="1110.1" cy="1391.3" rx="2.7" ry="3.4" transform="rotate(50 1110.1 1391.3)"/><ellipse cx="1075.7" cy="1318.1" rx="3" ry="3.5" transform="rotate(138 1075.7 1318.1)"/><ellipse cx="1199" cy="1218.5" rx="2.4" ry="3.7" transform="rotate(99 1199 1218.5)"/><ellipse cx="1115.5" cy="1315.2" rx="2.6" ry="5.4" transform="rotate(101 1115.5 1315.2)"/><ellipse cx="1261.5" cy="1147.1" rx="2.3" ry="3" transform="rotate(82 1261.5 1147.1)"/><ellipse cx="1136.3" cy="1287.7" rx="1.9" ry="4.2" transform="rotate(43 1136.3 1287.7)"/><ellipse cx="1278.4" cy="1118.5" rx="4.3" ry="2.7" transform="rotate(99 1278.4 1118.5)"/><ellipse cx="1248.3" cy="1171.1" rx="1.9" ry="4.3" transform="rotate(27 1248.3 1171.1)"/><ellipse cx="1390" cy="1168.2" rx="2.4" ry="4.7" transform="rotate(40 1390 1168.2)"/><ellipse cx="1160.1" cy="1364.1" rx="2.7" ry="3.4" transform="rotate(57 1160.1 1364.1)"/><ellipse cx="1194.8" cy="1079.1" rx="3" ry="3.9" transform="rotate(22 1194.8 1079.1)"/><ellipse cx="1491.5" cy="1114.3" rx="2" ry="4.8" transform="rotate(104 1491.5 1114.3)"/><ellipse cx="1070" cy="1294" rx="2.5" ry="3" transform="rotate(73 1070 1294)"/><ellipse cx="1291.1" cy="1250.1" rx="4.6" ry="2.7" transform="rotate(155 1291.1 1250.1)"/><ellipse cx="1480.8" cy="1172.5" rx="2.9" ry="4.8" transform="rotate(62 1480.8 1172.5)"/><ellipse cx="1295.7" cy="1234.9" rx="1.7" ry="4.4" transform="rotate(31 1295.7 1234.9)"/><ellipse cx="1161.8" cy="1283.2" rx="1.9" ry="4.5" transform="rotate(155 1161.8 1283.2)"/><ellipse cx="1144.3" cy="1244.2" rx="2" ry="3.8" transform="rotate(54 1144.3 1244.2)"/></g></g><g filter="url(#b2)"><path d="M1231.9 1346.3Q1231.7 1348 1231.3 1349.4Q1230.9 1350.7 1230.1 1351.7Q1229.2 1352.7 1228.4 1354.4Q1227.6 1356.2 1226 1356Q1224.5 1355.8 1223.1 1355.1Q1221.6 1354.4 1221 1352.8Q1220.5 1351.1 1220.3 1349.6Q1220.2 1348 1220.6 1346.6Q1221.1 1345.2 1221.9 1344.2Q1222.7 1343.2 1223.6 1341.5Q1224.4 1339.9 1225.9 1340.5Q1227.3 1341.2 1228.8 1341.4Q1230.3 1341.7 1231.2 1343.1Q1232.1 1344.6 1231.9 1346.3Z" fill="#eef3f3"/></g><g filter="url(#b0)"><path transform="scale(.5)" d="M2708 2178zm176 8zm-758 23zm636 12zm-155 24zm100 8zm21-6zm10 19zm-150 10zm-121-2zm-313-7zm-29-1zm97 17zm469 2zm100 7zm66-2zm-147 11zm-163 16zm-182-5zm221 38zm-109 8zm-20-17zm-266 7zm-11 5zm342 19zm212-2zm-77 19zm-467 17zm362-4zm340 18zm-145 18zm-349-2zm-115 9zm208 27zm-441 0zm32 18zm548 22zm-299 26zm328 21zm-410 20zm104-17zm24 76zm-102-18zm-207 28zm46 1zm346-7zm47 14zm120 6zm-591 34zm87-12zm180-3zm507 26zm-198-3zm-231 0zm-188 54zm-126-10zm97 26zm90-3zm381-6zm51 10z" stroke="#9a5a30" stroke-width="3.2" stroke-linecap="round" fill="none" stroke-opacity="0.8"/></g></g>
<g clip-path="url(#cbr)"><rect x="1507" y="1067.6" width="494" height="328.2" fill="#e3e4e5" filter="url(#tbr)"/><g filter="url(#b2)"><g fill="#eef0f0" fill-opacity="0.7"><ellipse cx="1627.3" cy="1232.4" rx="10.6" ry="2.8" transform="rotate(73 1627.3 1232.4)"/><ellipse cx="1587" cy="1337.1" rx="9.5" ry="3.3" transform="rotate(109 1587 1337.1)"/><ellipse cx="1621.3" cy="1248.9" rx="4.4" ry="2.1" transform="rotate(156 1621.3 1248.9)"/><ellipse cx="1964.6" cy="1198" rx="6.7" ry="2.1" transform="rotate(9 1964.6 1198)"/><ellipse cx="1985.1" cy="1307.7" rx="9.6" ry="3.4" transform="rotate(8 1985.1 1307.7)"/><ellipse cx="1777.8" cy="1274" rx="9.6" ry="1.6" transform="rotate(136 1777.8 1274)"/><ellipse cx="1796.5" cy="1185.8" rx="7.4" ry="1.2" transform="rotate(13 1796.5 1185.8)"/><ellipse cx="1999.4" cy="1200.2" rx="9.1" ry="2.4" transform="rotate(140 1999.4 1200.2)"/><ellipse cx="1993" cy="1347.4" rx="8" ry="1.5" transform="rotate(49 1993 1347.4)"/><ellipse cx="1521" cy="1152.3" rx="13.5" ry="2.3" transform="rotate(106 1521 1152.3)"/><ellipse cx="1743" cy="1335" rx="6.3" ry="1.4" transform="rotate(78 1743 1335)"/><ellipse cx="1594.7" cy="1269.7" rx="12.5" ry="2.5" transform="rotate(19 1594.7 1269.7)"/><ellipse cx="1688.4" cy="1325.5" rx="10.3" ry="2.4" transform="rotate(166 1688.4 1325.5)"/><ellipse cx="1964.7" cy="1317.7" rx="10.5" ry="2.5" transform="rotate(138 1964.7 1317.7)"/><ellipse cx="1602.5" cy="1317.1" rx="8.3" ry="1.5" transform="rotate(104 1602.5 1317.1)"/><ellipse cx="1723.5" cy="1342.4" rx="7.8" ry="3.5" transform="rotate(94 1723.5 1342.4)"/><ellipse cx="1739.2" cy="1365.2" rx="6.9" ry="2.9" transform="rotate(169 1739.2 1365.2)"/><ellipse cx="1915.1" cy="1336.4" rx="11" ry="3.2" transform="rotate(13 1915.1 1336.4)"/><ellipse cx="1799.5" cy="1125" rx="9.3" ry="4.5" transform="rotate(91 1799.5 1125)"/><ellipse cx="1994.2" cy="1219.9" rx="11.6" ry="2.1" transform="rotate(118 1994.2 1219.9)"/><ellipse cx="1515" cy="1210.2" rx="9.8" ry="2.7" transform="rotate(176 1515 1210.2)"/><ellipse cx="1712" cy="1133.5" rx="10.1" ry="3.4" transform="rotate(143 1712 1133.5)"/><ellipse cx="1981.4" cy="1104.4" rx="11.9" ry="3.4" transform="rotate(15 1981.4 1104.4)"/><ellipse cx="1953.6" cy="1248" rx="8" ry="1.3" transform="rotate(37 1953.6 1248)"/><ellipse cx="1595.2" cy="1185.2" rx="8.9" ry="3.8" transform="rotate(40 1595.2 1185.2)"/><ellipse cx="1729.5" cy="1106.2" rx="8.1" ry="1.6" transform="rotate(16 1729.5 1106.2)"/><ellipse cx="1883.9" cy="1281.5" rx="10.6" ry="2" transform="rotate(94 1883.9 1281.5)"/><ellipse cx="1895.3" cy="1394.8" rx="4" ry="2.3" transform="rotate(149 1895.3 1394.8)"/><ellipse cx="1967.4" cy="1279" rx="5.7" ry="2.9" transform="rotate(94 1967.4 1279)"/><ellipse cx="1773.4" cy="1239.5" rx="9.6" ry="3.5" transform="rotate(24 1773.4 1239.5)"/><ellipse cx="1909" cy="1371.3" rx="6.8" ry="2" transform="rotate(140 1909 1371.3)"/><ellipse cx="1550.1" cy="1259.7" rx="7.3" ry="1.5" transform="rotate(122 1550.1 1259.7)"/><ellipse cx="1793.6" cy="1251.6" rx="8.7" ry="2.8" transform="rotate(5 1793.6 1251.6)"/><ellipse cx="1930.8" cy="1141.4" rx="8.5" ry="2.7" transform="rotate(122 1930.8 1141.4)"/><ellipse cx="1867" cy="1260.1" rx="4.8" ry="2.1" transform="rotate(3 1867 1260.1)"/><ellipse cx="1612.3" cy="1388.7" rx="6.4" ry="3.4" transform="rotate(95 1612.3 1388.7)"/><ellipse cx="1533.5" cy="1220.2" rx="7.7" ry="2.7" transform="rotate(34 1533.5 1220.2)"/><ellipse cx="1771.6" cy="1263.1" rx="11.7" ry="3.3" transform="rotate(18 1771.6 1263.1)"/><ellipse cx="1992.1" cy="1248.6" rx="11.1" ry="2.3" transform="rotate(87 1992.1 1248.6)"/><ellipse cx="1945" cy="1164.2" rx="14.1" ry="2.7" transform="rotate(122 1945 1164.2)"/><ellipse cx="1744.8" cy="1115.8" rx="5.5" ry="1.7" transform="rotate(91 1744.8 1115.8)"/><ellipse cx="1823" cy="1206.2" rx="6.8" ry="1.9" transform="rotate(120 1823 1206.2)"/><ellipse cx="1894.7" cy="1104.5" rx="12.5" ry="2.5" transform="rotate(134 1894.7 1104.5)"/><ellipse cx="1736.4" cy="1382.2" rx="8.2" ry="2" transform="rotate(90 1736.4 1382.2)"/><ellipse cx="1512.6" cy="1284.3" rx="8.2" ry="3.9" transform="rotate(31 1512.6 1284.3)"/><ellipse cx="1841.7" cy="1305.8" rx="11.9" ry="2.5" transform="rotate(41 1841.7 1305.8)"/><ellipse cx="1981" cy="1160.6" rx="12.7" ry="2.5" transform="rotate(116 1981 1160.6)"/><ellipse cx="1854.6" cy="1287" rx="6.3" ry="3.4" transform="rotate(41 1854.6 1287)"/><ellipse cx="1866.8" cy="1224.4" rx="13.7" ry="2.3" transform="rotate(29 1866.8 1224.4)"/><ellipse cx="1515.3" cy="1322.1" rx="5.4" ry="1.8" transform="rotate(169 1515.3 1322.1)"/><ellipse cx="1645" cy="1324.4" rx="9.1" ry="1.6" transform="rotate(141 1645 1324.4)"/><ellipse cx="1994.6" cy="1322.5" rx="14.8" ry="2.4" transform="rotate(121 1994.6 1322.5)"/><ellipse cx="1706" cy="1348.9" rx="6.7" ry="2" transform="rotate(71 1706 1348.9)"/><ellipse cx="1697.6" cy="1172.6" rx="9.2" ry="3.1" transform="rotate(131 1697.6 1172.6)"/><ellipse cx="1789.1" cy="1282.1" rx="4.9" ry="2" transform="rotate(39 1789.1 1282.1)"/></g></g><g filter="url(#b1)"><g fill="#c0c2dc" fill-opacity="0.75"><ellipse cx="1588" cy="1316" rx="6.6" ry="8.2" transform="rotate(97 1588 1316)"/><ellipse cx="1943.5" cy="1094.6" rx="6.3" ry="8.7" transform="rotate(127 1943.5 1094.6)"/><ellipse cx="1742.3" cy="1065.4" rx="6" ry="6.5" transform="rotate(102 1742.3 1065.4)"/><ellipse cx="1626.8" cy="1111.5" rx="7" ry="9" transform="rotate(49 1626.8 1111.5)"/><ellipse cx="1926.7" cy="1155.5" rx="6.5" ry="9.8" transform="rotate(42 1926.7 1155.5)"/><ellipse cx="1708.5" cy="1140.7" rx="7.1" ry="7.3" transform="rotate(142 1708.5 1140.7)"/><ellipse cx="1836.4" cy="1140" rx="6.8" ry="5.3" transform="rotate(52 1836.4 1140)"/><ellipse cx="1888.3" cy="1221.7" rx="6" ry="5.7" transform="rotate(45 1888.3 1221.7)"/><ellipse cx="1779.5" cy="1357.5" rx="7.5" ry="5.5" transform="rotate(150 1779.5 1357.5)"/><ellipse cx="1967.8" cy="1153.2" rx="7.4" ry="7" transform="rotate(2 1967.8 1153.2)"/><ellipse cx="1868.2" cy="1154.9" rx="7.1" ry="5.7" transform="rotate(138 1868.2 1154.9)"/><ellipse cx="1507.4" cy="1350.3" rx="5.4" ry="5.7" transform="rotate(124 1507.4 1350.3)"/><ellipse cx="1598.1" cy="1157.7" rx="6.8" ry="7.1" transform="rotate(53 1598.1 1157.7)"/><ellipse cx="1697.8" cy="1304.7" rx="5.3" ry="8.5" transform="rotate(163 1697.8 1304.7)"/><ellipse cx="1701.7" cy="1068.7" rx="4.9" ry="6.5" transform="rotate(171 1701.7 1068.7)"/><ellipse cx="1780.9" cy="1121" rx="5.8" ry="8.3" transform="rotate(43 1780.9 1121)"/><ellipse cx="1607.7" cy="1200.6" rx="5.5" ry="8" transform="rotate(1 1607.7 1200.6)"/><ellipse cx="1612.4" cy="1255.5" rx="4.5" ry="7" transform="rotate(46 1612.4 1255.5)"/><ellipse cx="1640" cy="1252.2" rx="6" ry="8.1" transform="rotate(88 1640 1252.2)"/><ellipse cx="1841.6" cy="1166.4" rx="6.3" ry="6.5" transform="rotate(87 1841.6 1166.4)"/><ellipse cx="1954.6" cy="1389.7" rx="6.5" ry="5.9" transform="rotate(168 1954.6 1389.7)"/><ellipse cx="1521.8" cy="1084.7" rx="8.4" ry="5.9" transform="rotate(90 1521.8 1084.7)"/><ellipse cx="1557.1" cy="1228.8" rx="6.5" ry="7.2" transform="rotate(78 1557.1 1228.8)"/><ellipse cx="1653.7" cy="1310.1" rx="8.1" ry="5.5" transform="rotate(87 1653.7 1310.1)"/><ellipse cx="1998.6" cy="1215.9" rx="8" ry="6.4" transform="rotate(16 1998.6 1215.9)"/><ellipse cx="1640.1" cy="1137.2" rx="5.4" ry="5.8" transform="rotate(36 1640.1 1137.2)"/><ellipse cx="1961.3" cy="1338.2" rx="5.8" ry="7.5" transform="rotate(99 1961.3 1338.2)"/><ellipse cx="1730.2" cy="1315.3" rx="5.8" ry="7.5" transform="rotate(133 1730.2 1315.3)"/><ellipse cx="1671.5" cy="1110.2" rx="7.2" ry="8.8" transform="rotate(94 1671.5 1110.2)"/><ellipse cx="1851.2" cy="1188" rx="7.6" ry="5.4" transform="rotate(41 1851.2 1188)"/><ellipse cx="1774" cy="1254.6" rx="6.5" ry="4.7" transform="rotate(132 1774 1254.6)"/><ellipse cx="1624.2" cy="1070" rx="5.3" ry="8.4" transform="rotate(58 1624.2 1070)"/><ellipse cx="1877.1" cy="1320" rx="6.9" ry="6.5" transform="rotate(36 1877.1 1320)"/><ellipse cx="1887.5" cy="1173.3" rx="5.3" ry="7.6" transform="rotate(33 1887.5 1173.3)"/><ellipse cx="1670.7" cy="1274.7" rx="5.7" ry="6.2" transform="rotate(101 1670.7 1274.7)"/><ellipse cx="1932" cy="1373.1" rx="6.4" ry="8.9" transform="rotate(158 1932 1373.1)"/><ellipse cx="1944" cy="1129.2" rx="4.9" ry="7.7" transform="rotate(112 1944 1129.2)"/><ellipse cx="1661.4" cy="1146.1" rx="9.3" ry="6.5" transform="rotate(88 1661.4 1146.1)"/><ellipse cx="1578.8" cy="1338.8" rx="9.3" ry="6.7" transform="rotate(85 1578.8 1338.8)"/><ellipse cx="1765.6" cy="1391.3" rx="7.9" ry="6.5" transform="rotate(145 1765.6 1391.3)"/><ellipse cx="1817" cy="1319.1" rx="5.4" ry="5.9" transform="rotate(3 1817 1319.1)"/><ellipse cx="1972.1" cy="1247.8" rx="5.5" ry="5.7" transform="rotate(22 1972.1 1247.8)"/><ellipse cx="1725.1" cy="1117.2" rx="6.8" ry="4.6" transform="rotate(19 1725.1 1117.2)"/><ellipse cx="1780.4" cy="1324.1" rx="7.4" ry="7.6" transform="rotate(78 1780.4 1324.1)"/><ellipse cx="1666.5" cy="1071.1" rx="7.2" ry="6.4" transform="rotate(24 1666.5 1071.1)"/><ellipse cx="1553" cy="1186" rx="9.3" ry="6.6" transform="rotate(139 1553 1186)"/><ellipse cx="1602.1" cy="1220.4" rx="6.9" ry="6.3" transform="rotate(7 1602.1 1220.4)"/><ellipse cx="1990.1" cy="1141.2" rx="6.9" ry="6.1" transform="rotate(112 1990.1 1141.2)"/><ellipse cx="1584.3" cy="1357" rx="6.6" ry="8.8" transform="rotate(170 1584.3 1357)"/><ellipse cx="1997.1" cy="1067" rx="4.7" ry="6.7" transform="rotate(145 1997.1 1067)"/><ellipse cx="1700.1" cy="1335.8" rx="6.7" ry="4.6" transform="rotate(122 1700.1 1335.8)"/><ellipse cx="1511.5" cy="1250.7" rx="6" ry="6.4" transform="rotate(17 1511.5 1250.7)"/><ellipse cx="1909.4" cy="1385" rx="5.6" ry="7.9" transform="rotate(136 1909.4 1385)"/><ellipse cx="1598.5" cy="1376.1" rx="8" ry="7.7" transform="rotate(75 1598.5 1376.1)"/><ellipse cx="1743.7" cy="1394.8" rx="8.9" ry="6.4" transform="rotate(54 1743.7 1394.8)"/><ellipse cx="1629.9" cy="1394.9" rx="8.7" ry="6" transform="rotate(118 1629.9 1394.9)"/><ellipse cx="1731.1" cy="1381.7" rx="6.7" ry="5" transform="rotate(26 1731.1 1381.7)"/><ellipse cx="1749.4" cy="1270.7" rx="5.7" ry="7.2" transform="rotate(67 1749.4 1270.7)"/><ellipse cx="1697.9" cy="1357.8" rx="6.4" ry="8.8" transform="rotate(78 1697.9 1357.8)"/><ellipse cx="1918.2" cy="1071.2" rx="7.5" ry="5.7" transform="rotate(77 1918.2 1071.2)"/><ellipse cx="1971.6" cy="1371.2" rx="5.7" ry="7.4" transform="rotate(102 1971.6 1371.2)"/><ellipse cx="1900.9" cy="1289.1" rx="6.7" ry="8.3" transform="rotate(130 1900.9 1289.1)"/><ellipse cx="1649.9" cy="1370.7" rx="5.2" ry="7.1" transform="rotate(14 1649.9 1370.7)"/><ellipse cx="1928.4" cy="1287.1" rx="5.7" ry="6.4" transform="rotate(51 1928.4 1287.1)"/><ellipse cx="1508.1" cy="1379.7" rx="7.1" ry="6.2" transform="rotate(124 1508.1 1379.7)"/><ellipse cx="1544.2" cy="1068" rx="4.8" ry="6.3" transform="rotate(116 1544.2 1068)"/><ellipse cx="1541.7" cy="1319.4" rx="6.5" ry="9.3" transform="rotate(102 1541.7 1319.4)"/><ellipse cx="1521" cy="1159.8" rx="7.1" ry="4.9" transform="rotate(177 1521 1159.8)"/><ellipse cx="1666.8" cy="1201.3" rx="7.6" ry="7.2" transform="rotate(143 1666.8 1201.3)"/><ellipse cx="1643.5" cy="1095.6" rx="7" ry="8.3" transform="rotate(162 1643.5 1095.6)"/><ellipse cx="1763.2" cy="1085.2" rx="5.8" ry="8" transform="rotate(15 1763.2 1085.2)"/><ellipse cx="1704.1" cy="1158.8" rx="5.2" ry="8.5" transform="rotate(137 1704.1 1158.8)"/><ellipse cx="1545.9" cy="1093.6" rx="7.2" ry="5.4" transform="rotate(147 1545.9 1093.6)"/><ellipse cx="1870.8" cy="1087.9" rx="8" ry="5.5" transform="rotate(71 1870.8 1087.9)"/><ellipse cx="1960.2" cy="1269.1" rx="6.6" ry="5.7" transform="rotate(167 1960.2 1269.1)"/><ellipse cx="1560" cy="1080.2" rx="7.1" ry="8.1" transform="rotate(34 1560 1080.2)"/><ellipse cx="1740.8" cy="1171" rx="8.2" ry="5.6" transform="rotate(63 1740.8 1171)"/><ellipse cx="1581.5" cy="1195.4" rx="7.5" ry="5.1" transform="rotate(147 1581.5 1195.4)"/><ellipse cx="1738.6" cy="1341.4" rx="7" ry="6.4" transform="rotate(17 1738.6 1341.4)"/><ellipse cx="1614.6" cy="1096.9" rx="7.1" ry="6.9" transform="rotate(39 1614.6 1096.9)"/><ellipse cx="1806.6" cy="1354.6" rx="5.2" ry="7.1" transform="rotate(16 1806.6 1354.6)"/><ellipse cx="1945.4" cy="1344.9" rx="6.4" ry="7.3" transform="rotate(100 1945.4 1344.9)"/><ellipse cx="1799.5" cy="1197.9" rx="6.2" ry="9.2" transform="rotate(138 1799.5 1197.9)"/><ellipse cx="1749.3" cy="1201.7" rx="7.1" ry="5.5" transform="rotate(21 1749.3 1201.7)"/><ellipse cx="1560.7" cy="1321" rx="8" ry="7.8" transform="rotate(122 1560.7 1321)"/><ellipse cx="1804.6" cy="1257.1" rx="6.6" ry="6.7" transform="rotate(1 1804.6 1257.1)"/><ellipse cx="1952.1" cy="1203.1" rx="6.9" ry="5" transform="rotate(89 1952.1 1203.1)"/><ellipse cx="1566.3" cy="1254.9" rx="7.1" ry="5.3" transform="rotate(156 1566.3 1254.9)"/><ellipse cx="1993" cy="1188.9" rx="7.1" ry="8" transform="rotate(59 1993 1188.9)"/><ellipse cx="1683.6" cy="1387.5" rx="6.9" ry="7.7" transform="rotate(123 1683.6 1387.5)"/><ellipse cx="1567.4" cy="1215" rx="5" ry="6.8" transform="rotate(64 1567.4 1215)"/><ellipse cx="1586" cy="1109.9" rx="7" ry="8.6" transform="rotate(94 1586 1109.9)"/><ellipse cx="1537.6" cy="1300.1" rx="5.9" ry="5.5" transform="rotate(26 1537.6 1300.1)"/><ellipse cx="1924.5" cy="1132" rx="6.7" ry="6.5" transform="rotate(140 1924.5 1132)"/><ellipse cx="1523.9" cy="1396.6" rx="7.4" ry="7.4" transform="rotate(175 1523.9 1396.6)"/><ellipse cx="1786.1" cy="1287.6" rx="6.3" ry="6.8" transform="rotate(154 1786.1 1287.6)"/><ellipse cx="1777.4" cy="1156.1" rx="6.3" ry="8.9" transform="rotate(65 1777.4 1156.1)"/><ellipse cx="1712.8" cy="1082.4" rx="9.3" ry="6.4" transform="rotate(70 1712.8 1082.4)"/><ellipse cx="1631.1" cy="1364.6" rx="6.4" ry="4.8" transform="rotate(58 1631.1 1364.6)"/><ellipse cx="1536.3" cy="1264.9" rx="7.5" ry="6" transform="rotate(43 1536.3 1264.9)"/><ellipse cx="2005.4" cy="1326.2" rx="7.1" ry="8.3" transform="rotate(72 2005.4 1326.2)"/><ellipse cx="1719.9" cy="1349.8" rx="6.3" ry="5.7" transform="rotate(31 1719.9 1349.8)"/><ellipse cx="1893.7" cy="1395.3" rx="8.7" ry="7.3" transform="rotate(7 1893.7 1395.3)"/><ellipse cx="1726.2" cy="1096.1" rx="4.8" ry="6.4" transform="rotate(133 1726.2 1096.1)"/><ellipse cx="1954.2" cy="1318" rx="7.7" ry="6.4" transform="rotate(101 1954.2 1318)"/><ellipse cx="1561.2" cy="1139.6" rx="6.7" ry="6.5" transform="rotate(130 1561.2 1139.6)"/><ellipse cx="1753.6" cy="1253.9" rx="7.1" ry="5.7" transform="rotate(168 1753.6 1253.9)"/><ellipse cx="1708.8" cy="1235.8" rx="6.8" ry="7.9" transform="rotate(95 1708.8 1235.8)"/><ellipse cx="1707.9" cy="1283.4" rx="6.6" ry="6.7" transform="rotate(8 1707.9 1283.4)"/><ellipse cx="1630.5" cy="1205.2" rx="6.1" ry="5.4" transform="rotate(66 1630.5 1205.2)"/><ellipse cx="1801.4" cy="1311.7" rx="7.3" ry="5.8" transform="rotate(53 1801.4 1311.7)"/><ellipse cx="1528.5" cy="1201.3" rx="5.4" ry="8.1" transform="rotate(18 1528.5 1201.3)"/><ellipse cx="1783.6" cy="1181" rx="9.2" ry="6.8" transform="rotate(99 1783.6 1181)"/><ellipse cx="1955.4" cy="1221.6" rx="7.4" ry="7.4" transform="rotate(93 1955.4 1221.6)"/><ellipse cx="1636.8" cy="1295.5" rx="6.6" ry="9.7" transform="rotate(118 1636.8 1295.5)"/></g></g><g filter="url(#b2)"><path d="M1912.8 1349.4Q1915.3 1354.7 1915.7 1360.8Q1916 1366.9 1908.3 1370.6Q1900.6 1374.2 1894.1 1377.2Q1887.6 1380.2 1880.2 1380.2Q1872.7 1380.2 1863 1381.7Q1853.4 1383.2 1852 1376.5Q1850.7 1369.7 1847.6 1365.3Q1844.6 1360.9 1844.6 1355.5Q1844.5 1350.1 1846.7 1343.6Q1848.8 1337.1 1857.7 1334.3Q1866.6 1331.6 1875.7 1330.5Q1884.9 1329.3 1891.4 1333.5Q1897.9 1337.7 1904.1 1340.9Q1910.3 1344.1 1912.8 1349.4Z" fill="#e3edec"/><path d="M1944.3 1338.8Q1948.1 1340.6 1944.4 1343.8Q1940.7 1347 1938 1349.7Q1935.3 1352.3 1930.5 1354.3Q1925.6 1356.3 1920.1 1357.8Q1914.7 1359.3 1910.5 1358.2Q1906.4 1357.2 1902.7 1356.3Q1899.1 1355.5 1897.6 1353.6Q1896.1 1351.6 1895 1349.3Q1893.8 1347 1896.1 1344Q1898.3 1340.9 1903.4 1338.2Q1908.5 1335.4 1915.3 1333.9Q1922 1332.4 1926.4 1334.1Q1930.8 1335.8 1935.7 1336.4Q1940.5 1336.9 1944.3 1338.8Z" fill="#e3edec"/></g><g filter="url(#dbr)"><rect x="1507" y="1067.6" width="494" height="328.2" fill="none"/><path transform="scale(.5)" d="M3763 2155zm-29-11zm26 26zm-242 28zm-248 21zm301 0zm23-9zm5 9zm238-1zm-98 13zm-177 15zm336 5zm-574 11zm-108 33zm503-2zm48-7zm-703 51zm90-11zm449-6zm219 26zm-355 21zm256 0zm5 39zm117 18zm-660 16zm539 19zm236-19zm-834 51zm457 17zm-236 10zm421 11zm41 23zm-310 3zm-481 4zm649 9zm143-8zm192 1zm-308 20zm-32 0zm-223 15zm-252 13zm203-3zm147 2zm111 63zm-80 3zm-151 7zm-1 25zm-384-4zm368 23zm241 33z" stroke="#000" stroke-width="4.4" stroke-linecap="round" fill="none"/><path transform="scale(.5)" d="M3031 2137zm304 0zm506 21zm-57-7zm-99 3zm-25 5zm-5-6zm-98-9zm-135 14zm-56-4zm-167-3zm-7-8zm-62 16zm-45-3zm23 7zm42 4zm46 6zm39-8zm61 11zm26-9zm42 10zm170-9zm75 10zm26-14zm9 0zm53 11zm93-7zm59-8zm20 7zm84 3zm16 26zm-85-4zm-141-11zm-95 12zm-205 1zm-280-11zm-42 14zm82 6zm72-1zm70 10zm95-8zm3 3zm3-6zm198 6zm49-7zm88 5zm165 11zm-63 9zm-114 11zm-90-13zm-9 15zm-43-8zm-56 2zm-21 1zm-41-5zm-244 9zm-168-8zm-14 9zm-57-4zm66 10zm38 4zm64-2zm2-4zm12-2zm4 17zm21 2zm13-14zm57-4zm63 0zm228 6zm15-2zm76 4zm153-1zm123 10zm21-11zm-99 32zm-20-5zm-11-12zm-17 9zm-4-8zm-46 5zm-56-5zm-32 10zm-65-12zm-240 13zm-157 0zm-45 0zm-12 3zm-40 5zm29 13zm12-10zm25 10zm97-11zm5-3zm74 13zm114-6zm17 10zm121-3zm63-12zm28 13zm17-8zm34-5zm5 2zm197 10zm11 10zm-9 8zm-43 2zm-56-10zm-42-1zm-167 3zm-16 0zm-20 8zm-182-9zm-110 3zm-134-2zm-106 3zm-82 5zm133 6zm45 3zm76 11zm38 4zm17-12zm101 2zm200 8zm66-2zm98-5zm75-7zm65 28zm-39-10zm-1 1zm-23 16zm-20 1zm-70-4zm-31-15zm-92 14zm-159-10zm-8 15zm-71-2zm-39-17zm-14 4zm-28 7zm-165 7zm-114-14zm-44 10zm26 20zm98-8zm17 12zm217 0zm9-9zm45 6zm130-2zm75 1zm69 5zm3-8zm107-1zm45 2zm117-6zm15 5zm2 14zm-90 3zm-98-2zm-72 3zm-61-4zm-95 10zm-175 2zm0-16zm-145 13zm-170-3zm-33 10zm118 3zm40 5zm22-3zm226 12zm40-18zm130 14zm157-12zm38 13zm19-1zm84 4zm46 19zm-213-2zm-151-3zm-337 0zm-50-9zm-25 1zm-79 8zm-60 16zm4 2zm157-3zm24-7zm3 16zm234-8zm64-6zm24 16zm34-10zm250-4zm123 31zm-45 2zm-60-1zm-128-3zm-12-4zm-194 0zm-17 5zm-15-6zm-207-4zm-56 7zm-36-2zm-101 3zm-26 6zm-34-12zm7 31zm85-11zm181 6zm169 3zm60 0zm249-9zm184 3zm-7 19zm-134 0zm-75 7zm-157 0zm-116-7zm-226 8zm-126-4zm-14 3zm-41-7zm-57 5zm-3 12zm13 3zm187-7zm79 7zm161 3zm38 2zm102-7zm19 0zm21-1zm76-1zm61 5zm1-7zm65-2zm70 12zm17 24zm-23-13zm-57 0zm-20 16zm-102-4zm-12 1zm-18 0zm-40-16zm-142 16zm-5-15zm-12 6zm-3 1zm-77-4zm-274 4zm-94 16zm168 5zm122 3zm92 3zm45 1zm54-3zm34-11zm156 3zm52 11zm114-8zm6 8zm74-3zm-42 13zm-113-4zm-57 5zm-38-4zm-38 1zm-25 3zm-2-6zm-15 0zm-40 7zm-17 5zm-91 6zm-110-6zm-63 4zm-96-6zm-32-4zm-4-5zm-102 14zm77 11zm85-2zm5 8zm11-9zm91-1zm42 2zm135 11zm56-13zm4 16zm130-1zm53 0zm62-5zm84-7zm14 8zm2-9zm20 3zm32 14zm-67 7zm-2-7zm-29 5zm-34 6zm-53-8zm-24 5zm-84 6zm-284-11zm-86-3zm-14 1zm-15 8zm-49-3zm-59-4zm0 9zm-102 3zm-14-15zm-33 9zm-8-2zm9 22zm104 1zm33 5zm164 0zm43-12zm10 10zm21-3zm122 2zm89 5zm84-18zm38 8zm22 11zm87-6zm-49 12zm-191 14zm-19 0zm-228-1zm-5-3zm-97-6zm-56 10zm-143-17zm-51 19zm85 15zm60-3zm28-9zm180 10zm47 1zm36-12zm11-1zm106 0zm45 14zm59-3zm231 6zm65-2zm-337 5zm-32 9zm-64-3zm-338-8zm-29 7zm-123 3zm-13 5zm25 8zm254 6zm68 5zm171-8zm61 8zm23-12zm3 1zm345 29zm-123-6zm-180-5zm-212 0zm-57 13zm-222-8zm-131-4zm-18 9zm-14 24zm65-5zm72-5zm22-5zm250 3zm2 3zm49-2zm232-4zm123 18zm60-14zm14-2zm16 10zm5 3zm5-6zm26 22zm-117-2zm-218-1zm-55-5zm-11 3zm-54 1zm-83-4zm-19 4zm-169-5zm-74 6zm-103-2z" stroke="#000" stroke-width="3.2" stroke-linecap="round" fill="none"/><path transform="scale(.5)" d="M3031 2138zm43 1zm42 0zm61-3zm10 1zm39 2zm10-4zm4 4zm52-3zm16 0zm65 2zm94-1zm0 1zm19 1zm116 0zm33-2zm58 0zm50 2zm14-3zm50 3zm59-4zm2 3zm8-2zm14 1zm18 0zm36 2zm12 0zm18 5zm-13 14zm-2-17zm-3 6zm0 9zm-2-15zm-7 6zm-36-3zm-1 0zm-8 10zm-11-6zm-17 7zm0-6zm-4 8zm-1-11zm-20 10zm-10-3zm-32-2zm-21-10zm-4 2zm-64 11zm-13-7zm-34 5zm-22-6zm-13 8zm0-12zm-26 10zm-2-6zm-22 0zm-11 8zm-12-11zm-6 4zm-4-5zm-16 10zm-9 1zm-10-6zm-4 12zm-2-4zm-11-8zm-2 8zm-6-15zm-3 1zm-15 6zm-4-3zm-21 13zm-10-12zm-1-1zm0 7zm-46-3zm-2 7zm-5 4zm-18-2zm-6-15zm-12 9zm-2-8zm-37-3zm-14 11zm-11 0zm-14-10zm-15 2zm-3 6zm-4 6zm-4-11zm-1-2zm-3 3zm-1-5zm-2 15zm-1-1zm-20-8zm-3 12zm-17-3zm-16-5zm-26-10zm0 11zm-9-6zm-2 12zm-4 0zm-8 0zm0-12zm-9 7zm-32 4zm-15-2zm-10-11zm-4 6zm-23 5zm-5-4zm-10 0zm-1-10zm-3 5zm7 28zm5 3zm6-7zm10 4zm5-12zm6 8zm6-5zm4 7zm9 4zm8-14zm0 18zm4-7zm8-9zm43 3zm2 1zm1 1zm27 5zm62-12zm6 18zm3-1zm0-12zm41 5zm29-5zm9-6zm16 12zm1 3zm12-11zm13 5zm3-4zm2 8zm10 0zm21-3zm4 3zm17-9zm4-4zm11 5zm7 3zm2 11zm17-6zm9-8zm5 2zm2-3zm9 7zm6 3zm3-9zm10 3zm20-3zm17-1zm3-4zm2 10zm28-5zm2 12zm5 2zm1-7zm25 4zm11-10zm11-2zm5 9zm2-2zm7-6zm28-5zm8 18zm6-15zm18 5zm9-8zm2 2zm2 0zm2 9zm8 8zm10-11zm3-5zm17 1zm2-4zm3 9zm10 9zm3 1zm10-10zm0 10zm21-6zm4-10zm5 0zm12 13zm21-7zm1-3zm1 8zm1-4zm22 9zm28-15zm13 13zm2-2zm28-4zm7 8zm12-4zm35-9zm1 27zm-13-4zm-38 3zm-1 6zm-72-3zm-6-3zm-2-10zm-23 7zm-2 7zm-5-3zm-9-13zm-1 6zm-25 0zm-12 1zm0 7zm-7-8zm-10 10zm-5-1zm0 3zm-4 0zm-13-11zm-5 3zm-29 0zm-11 7zm-26 1zm-4-4zm-7 5zm-1-13zm-13 13zm-9-8zm-3 0zm-5 2zm-2 4zm-3-2zm0-12zm-1 6zm-6-4zm-5 8zm-11 5zm-7-3zm-28-3zm-2 4zm-13 0zm-10-6zm-2 1zm-12 3zm0 3zm-3 2zm-7-6zm-7-7zm-7-5zm-2 16zm-18-2zm-7-6zm-3 9zm0-7zm-28-7zm-81-1zm-3-2zm-4 13zm-12-7zm-6 2zm-14 5zm-9 1zm-12-9zm-1 12zm-2-12zm-5 9zm-9-3zm-27-2zm-11-7zm-11 9zm-1-11zm-5 0zm-2-1zm0 19zm-13-19zm-9 13zm-11-10zm-20 8zm-8 3zm-30-3zm-9-4zm-11-2zm-23-3zm-2 0zm-27 16zm-13-18zm-24 29zm8-9zm12 18zm1 1zm4-12zm8 11zm10-16zm12 9zm5 8zm21-2zm19-14zm3 12zm3 2zm6-6zm1-9zm9 8zm4-3zm10-2zm1 14zm6-1zm14-11zm12-3zm15 6zm7-1zm19 10zm1 0zm47-17zm3 5zm8-1zm5-6zm3 13zm46 6zm3-15zm13 4zm29 11zm20-19zm7 14zm12 4zm0-4zm7-2zm10 6zm2-12zm4-1zm3 8zm0-1zm5-6zm3 1zm1 5zm19-8zm4 4zm4-8zm1 17zm1-15zm1 0zm0-1zm14 6zm11 7zm7-12zm6 17zm4-6zm9 3zm15-3zm6-4zm6 6zm1 0zm8 3zm8-13zm3 11zm1-15zm3 1zm9 6zm26-7zm0 10zm22 6zm9-3zm3 2zm24-8zm5-2zm13-5zm6 15zm0-1zm5-12zm15 2zm51 1zm32 9zm7-1zm8-9zm0 6zm16-4zm2 5zm25-11zm8 11zm7-1zm15-9zm0 5zm10 0zm23-5zm12 0zm8-1zm10 16zm14-12zm-1 19zm-8 8zm-10 6zm-21-6zm-7-5zm-25 10zm-15-14zm-9 15zm-18-4zm-6-4zm-6 7zm-8 1zm-25-6zm-18 3zm-7 1zm-3-10zm-12 13zm-3-14zm-18 4zm-16-8zm-8 1zm-32 14zm-12 0zm-2-10zm-22 10zm-3 2zm-19-15zm-8 0zm-8 4zm-20 7zm-11-6zm-10-6zm-3 9zm-4 8zm-3-14zm-6 12zm-3-5zm-2-8zm-36 13zm-1-11zm-6 0zm-2 10zm-5 0zm-1-11zm-8 11zm-5-15zm-15 3zm-9 0zm-9 9zm-5-4zm-2 9zm-14-18zm-15 3zm-23-1zm-2 8zm-27-1zm-11-5zm-7 11zm-13 4zm-26-9zm-32-3zm-6 3zm0-8zm-16 17zm-4-11zm-2 11zm-6-5zm-36-3zm-13 0zm-2 5zm-4-16zm-2 5zm-1 2zm-19 8zm-2 2zm-1-17zm-17 8zm-15-8zm-18 12zm-13-10zm-28 4zm-16 11zm-1 2zm-13-11zm-45 10zm-3-12zm-7 7zm-3 2zm-4 15zm4 6zm6-16zm9 11zm14 8zm7-11zm0-5zm17 9zm3 2zm4 3zm6-7zm2-7zm43 15zm4-2zm1-1zm1-10zm11 3zm9-6zm4 15zm0-8zm9-9zm2 17zm3-8zm6-3zm14 11zm11-6zm5-5zm16-3zm0 8zm10-5zm8 5zm11-9zm35 0zm7 3zm22 0zm5-2zm8 14zm1-7zm18-3zm7 0zm2 3zm2-1zm26-9zm7 7zm13 5zm2-4zm3-3zm17 14zm37-2zm7-3zm2 4zm34-11zm2 11zm1-2zm0 0zm52-15zm2 2zm22 8zm65-7zm1 13zm18-15zm4 4zm0 13zm11-10zm6-5zm20 6zm5 5zm11-2zm6-7zm23-6zm8 7zm1 5zm0-2zm5 9zm6-1zm12-18zm14 2zm8 11zm12-9zm39 11zm16-13zm10 15zm16-8zm40 8zm23-11zm5 6zm3 1zm2-8zm17 7zm1 19zm-20-11zm-10 0zm-26 8zm-26 11zm-1-13zm0 6zm-2 6zm-2 0zm-14-13zm-9 14zm-9-18zm-35 8zm-2-5zm-14 15zm-7-7zm-10-3zm-4-7zm-7 0zm-4 13zm-5-13zm-29-1zm-8 16zm-11-15zm-17 6zm-1-1zm-4-4zm-13 5zm-10 8zm-20-6zm-2-5zm-4 0zm-28 11zm-11-10zm-16 13zm0-12zm-5-3zm-12 6zm-4-3zm-20 5zm-14-5zm-3 2zm-4-5zm-1-2zm-19 6zm-1-8zm-15 0zm-41 5zm-1 9zm0 0zm-3-1zm-16-9zm-9-4zm-7 3zm0 14zm-2-15zm-12 10zm-3-8zm-7-2zm-5 7zm-16-5zm-3 4zm-1-4zm-15-2zm-14 10zm-14-1zm-7-3zm-4-5zm-11 13zm-9-14zm-6 9zm-15 5zm-3-10zm-24 12zm0-9zm-12-2zm-2 4zm-21 4zm-26-10zm-32 8zm-1 5zm-7 0zm-14-13zm-8-5zm-8 7zm-7 9zm-6-9zm-27 9zm-3-4zm-2 0zm-2-8zm-14 5zm-5 1zm-1-2zm-13 3zm-3-10zm-21 4zm-7 1zm-4-2zm-9 23zm3-7zm31 16zm2-2zm16 0zm20-6zm7 8zm2-9zm10-2zm7-1zm49 2zm9 7zm8 5zm13 0zm4-10zm14-6zm20 14zm9-4zm30-4zm23-1zm5-3zm47 15zm11-6zm7-2zm10-10zm6 10zm10-8zm17 16zm5-16zm5 1zm9 3zm5 8zm32-14zm5 4zm16 9zm8-14zm9 4zm6 6zm18-6zm8-2zm43 10zm5-9zm9 7zm7 5zm0-1zm7-9zm2-2zm8 12zm4-13zm9 2zm3 2zm22-1zm17 7zm0-6zm0 1zm7-1zm3 3zm16-2zm14 12zm6-11zm3 4zm3 5zm12 0zm6-17zm24 5zm11 14zm17-19zm9 14zm15-13zm4 13zm8-7zm10-7zm35 13zm9 2zm10-12zm11 16zm8-17zm4 16zm14 1zm68-19zm0 17zm-5 14zm-2-2zm-4 3zm-2-8zm0-2zm-4 13zm-11 2zm-8-9zm-2 10zm-1-14zm-21 1zm-12 14zm-18-12zm-2 7zm-3-13zm-5 12zm-12 2zm-10 2zm-6-13zm-23-4zm0 13zm-7-5zm-2 10zm-8-16zm-20 10zm-3-4zm-5-4zm-18-3zm-7 16zm-8-16zm-17 12zm-1-1zm-2 4zm-10 1zm-1-12zm-1 3zm-5-1zm-4-2zm-1 8zm-3 0zm-21-13zm-14 12zm-4 0zm-20 4zm-4-10zm-14-4zm-13 2zm-7 8zm0 6zm-9 0zm-70 1zm-2-3zm-1-15zm-8 5zm-27 3zm-10 9zm-17 0zm-4-4zm-35 4zm-9-16zm-8 9zm-2-5zm-14 8zm-27 4zm-3 1zm-8-16zm-23 7zm-3 8zm-8-16zm-3 16zm-1-12zm-41 13zm-8-3zm-6-5zm-7 4zm-9-12zm-6 5zm-7 9zm-3-10zm-1 8zm-2 1zm-15-15zm-18 7zm0-5zm-8 2zm-30 12zm-8-16zm-10 7zm-5-2zm-6 9zm-8-7zm-2 0zm-27-8zm0 0zm0 10zm-20-4zm-11 1zm-14 8zm-9-14zm-12 9zm-5 6zm-13 2zm8 4zm4 14zm2-12zm21-2zm3 5zm11 12zm6-4zm18-14zm6 9zm17-10zm9 12zm18 1zm1 3zm11-9zm9-3zm10-2zm7 16zm16-2zm15-16zm1 5zm9-4zm3 5zm3-4zm19 17zm10-2zm7-11zm1-2zm32 5zm9 7zm9-5zm9-5zm12 7zm1-13zm13 11zm10 6zm30-7zm6 1zm14 0zm14 1zm30 2zm37-12zm2 15zm15-12zm3 3zm12 4zm5 7zm25-3zm10-13zm2 13zm12-13zm10-2zm4 2zm7 2zm4 7zm34-3zm2 3zm4-4zm8 2zm0 7zm16-13zm1 4zm1-3zm4-2zm26 8zm26-9zm12 16zm8 1zm10-7zm4 5zm11-1zm6-6zm5 2zm3-7zm5 14zm3-1zm6-4zm2 0zm10 4zm12-6zm3 2zm29-2zm1 7zm16-11zm25 3zm20-8zm17-1zm3 12zm0 3zm5-8zm2 2zm35-5zm6 4zm11-10zm6 4zm-5 21zm-4 14zm-27-2zm0-15zm-8 11zm-9 1zm-13-7zm-30 12zm-2-9zm-5-2zm-2 10zm-17-4zm-26 3zm-2 0zm-4-7zm-4-6zm-15 6zm-1 1zm-12-5zm-1 9zm-1 2zm-1-12zm-4 11zm-2 2zm-27-15zm-7-1zm-11 3zm-4-2zm-6 2zm-16 3zm-4 8zm-4-14zm-22 7zm0-7zm-1 13zm-21-10zm-5-4zm-1 8zm-9-3zm-7 5zm-12-6zm-31 9zm0 1zm-6-14zm-14 13zm-1-4zm-38-5zm-5 7zm-6 4zm-8-4zm-8 3zm-7 2zm-25-4zm-29 3zm-4-12zm-5-2zm-1 15zm-17 2zm-30-14zm-7 0zm-1-2zm-1 1zm-5 13zm-13 2zm-13-1zm-5-9zm-6-3zm0-2zm-9 1zm-6 2zm-15 5zm-4-2zm-10-9zm-39 1zm-4 12zm-34 0zm-5-8zm-22-5zm-19 1zm-35 1zm-7 12zm-3-5zm0 4zm-2 3zm-14-2zm-4-13zm-6 12zm-1-10zm-7 10zm-11 4zm-20-7zm-12-6zm-23-1zm-14 1zm-1 11zm-2-14zm-19 28zm24-10zm4 4zm2 4zm10 5zm12-10zm1 3zm6 1zm1 6zm11 3zm3-9zm7 5zm4 6zm13-18zm4 13zm8 2zm3 2zm0 0zm10-9zm2-5zm6 8zm28-5zm9 4zm28-10zm25 9zm9-4zm12 1zm6 2zm2-3zm7 6zm11-8zm17 3zm9-6zm0 14zm11 3zm6-9zm1 6zm4-13zm9 5zm11 2zm13-1zm8-7zm10 17zm9-4zm11 3zm4-9zm28-1zm4 13zm9-10zm18 10zm8-7zm2 6zm35-4zm1 0zm8-8zm5 4zm30 5zm12-1zm5-12zm12-1zm9 12zm17-6zm4-6zm5 12zm27 2zm0-6zm8-7zm16 2zm16 5zm4 0zm10-2zm7-1zm17 10zm4 1zm1-5zm13-5zm40-7zm5 14zm1 4zm29-15zm11 7zm24-5zm19 2zm14-2zm1 2zm2-4zm3 15zm1-4zm2 0zm3-7zm0-7zm3 7zm4-1zm3-2zm2 7zm7-6zm35 10zm3-7zm23 9zm6 1zm5-9zm8-8zm2 36zm-2 0zm-13-14zm-27 4zm-16-7zm-2 7zm-1 6zm-9-3zm-14 9zm-45-5zm-4-10zm-7 8zm-2-9zm-3 4zm-1 8zm-9-1zm0-1zm-4 4zm-24-10zm-8 3zm-22 4zm-13 1zm-7-12zm-1 9zm-27 5zm-3-10zm-18-3zm-25 10zm-27 1zm-17 0zm0-8zm-6-4zm-38 5zm-29-6zm-1 13zm-7 4zm-1-11zm-2 8zm-10 0zm-3-6zm-17 2zm-8-6zm-3-1zm0 4zm-2 4zm-2-8zm-10 0zm-3 6zm-21-9zm0 6zm-19 4zm-9-5zm-11 11zm-3-3zm-9-9zm-10 2zm-23 0zm-20 0zm-9 0zm-2 7zm-4-7zm0-7zm-24 3zm-41 14zm-2-13zm-9 3zm-4 11zm-3-8zm-32 6zm-3-2zm-33 3zm-36-3zm-16 1zm-22 3zm-13-5zm-9 0zm-2-9zm-17 12zm-14-4zm-21-7zm-9-5zm-10 0zm-14 13zm5 18zm24 7zm2-4zm3-6zm11 10zm26-16zm2 5zm19-4zm12 3zm5-4zm13-3zm27 9zm13-5zm11 2zm31 0zm1-1zm12 5zm5 4zm7-10zm1 6zm34 5zm33-7zm18 8zm16 0zm12-10zm5 13zm15-11zm20 0zm61-6zm16 16zm17-16zm1 4zm1 3zm2 10zm15-13zm5-6zm21 8zm8-3zm7 12zm4-3zm1-12zm0 6zm4-4zm30 15zm1-16zm4-1zm3 16zm5-12zm9 6zm23-5zm2-5zm1 15zm9-15zm4 7zm7 8zm7-15zm13 12zm19-3zm6 2zm10-6zm2-1zm8 2zm8-4zm21 6zm16 9zm0-15zm9-4zm13 14zm2-3zm8 7zm0-17zm3 6zm10-1zm24 10zm9-4zm2-8zm8-3zm4 5zm29 7zm4-11zm5 3zm12 9zm1 4zm5-12zm8 13zm10-15zm8 1zm17 8zm7-4zm0 6zm16-4zm0 21zm-17 6zm-6-2zm-25-5zm-19-3zm-13 1zm-2 8zm-4-12zm-2 11zm-2-15zm-24 18zm-38-1zm-9-4zm-11-5zm-9-7zm-31 5zm-6-1zm-8 0zm-17-2zm-7 8zm-8 0zm-20-7zm-18 8zm-20 3zm-12-6zm-5 1zm-17 6zm-3-8zm-50 1zm-2 0zm-16-5zm-21 13zm-9-4zm-17 1zm-9 4zm-14-6zm-12 0zm-3-5zm-1 6zm-8-3zm-7-5zm-1 9zm-9 3zm-31-10zm-15 10zm-28-15zm-8 4zm-1 8zm-5-1zm-5 0zm-35-6zm-6 6zm-18 0zm-6-2zm-5 5zm-8-10zm-7 7zm-5-1zm-35-2zm-3 1zm0 1zm-10-13zm-2 14zm-1-11zm-3-1zm-5 5zm-8 5zm-24 1zm-9 3zm-2-2zm-11 3zm-15-17zm-22 6zm-5 5zm-24-7zm-10-2zm-38 5zm-10-1zm-2 4zm-15-4zm-8-6zm22 26zm18-5zm35 1zm5-2zm8 7zm9 8zm21-4zm13 0zm17 4zm1-11zm18 5zm7-4zm2 9zm19 5zm1-4zm3-1zm52-2zm6-5zm11-5zm4 4zm7 6zm3-10zm22 11zm4 0zm41-6zm4 12zm11-8zm29 3zm10-12zm4 16zm2-2zm9-14zm9 6zm36-6zm2 6zm3 4zm5-4zm10-2zm0-2zm8-2zm7 9zm3-3zm22 4zm0 5zm7-16zm3 16zm20 0zm18-4zm14-4zm6 3zm13-5zm4 6zm17 5zm14-8zm14-4zm11 12zm21-13zm1 0zm8-1zm10 2zm8 0zm12 4zm7-2zm14 4zm5-4zm2 4zm16 2zm2-13zm3 17zm1-10zm2 5zm7-1zm9 3zm5-9zm6 7zm4 3zm9-13zm8-3zm15 8zm8-1zm12 3zm22 7zm7-13zm1 2zm2 10zm9-3zm14 0zm13 4zm12-9zm2-1zm3 10zm8-14zm16-1zm11 2zm-1 26zm-2-8zm-28 11zm-3-3zm-10-5zm-28 10zm-6 2zm0-1zm-15-11zm-13 13zm-14-12zm-26 12zm-5-17zm-12 17zm-8-18zm-10 13zm-6 6zm-14-14zm-2-4zm-3 18zm-1-9zm-4-4zm-6-2zm-4-2zm-2 17zm-8-13zm0 11zm-2-4zm-30-12zm-2-1zm-15 2zm-4 6zm-19-6zm-1 2zm-4 13zm-3 0zm-14-2zm-6 2zm-4-11zm-4 13zm-45-16zm-6 4zm-15 5zm-2-12zm-24 1zm-9 11zm-25 5zm-16-4zm-2 1zm-10-6zm-7-1zm-6 8zm-22-4zm-8-9zm-12 14zm-21-4zm-4-6zm-5-1zm-4 13zm-2-12zm-3 2zm0-2zm-4 5zm-1 2zm-17-4zm-19 3zm-7-10zm-8 1zm-9-3zm-4 13zm-1 1zm-30-6zm-17 11zm-15-5zm0-1zm-7-2zm-2 8zm-20-5zm-19-8zm-6 6zm-5-6zm-1 4zm-61 7zm-8-17zm-3 14zm-16-4zm-6-3zm-3 11zm-8-15zm-3 1zm-5 5zm-10 5zm-9-5zm-2 8zm-1-3zm-23-12zm-6 7zm-3 10zm-10-15zm-18 8zm-4-7zm-6 13zm5 17zm15 1zm16-9zm18-2zm0 5zm6 8zm17-11zm20 11zm10-15zm29 4zm18 9zm5-4zm43-3zm1-3zm12 8zm12-2zm0-11zm1 3zm8 11zm7-7zm10 10zm9-13zm0 12zm2-1zm3-9zm14 2zm10 6zm12-9zm0 2zm4-5zm2 8zm15 3zm2-10zm10-4zm14 6zm12 4zm4 5zm3-13zm34 15zm3-9zm3 0zm9 0zm4 9zm24-4zm1-11zm20 1zm2 10zm2-12zm9 11zm17 2zm12-5zm4 0zm1 8zm2-2zm4 0zm7 3zm9-2zm52-16zm3 12zm50-6zm14 3zm4-4zm4 4zm22-5zm2 0zm2 11zm4-9zm4 0zm17 4zm38-2zm1-8zm24 19zm6-11zm8-8zm19 7zm12 7zm19 3zm4-16zm5 8zm7 5zm4-8zm1 12zm23-15zm12 12zm6 4zm2-19zm2 7zm2 8zm76-3zm-9 9zm0 1zm-2 15zm-5-6zm-8 3zm0-8zm-36 3zm-3 2zm-26-1zm-2-10zm-1 16zm-4-14zm-15 15zm-4-12zm-33 12zm-6-8zm-10-9zm-1 12zm-8-8zm-17 3zm-6 6zm-1-11zm-2 13zm-31-4zm-19-2zm-1 6zm-9-11zm-12 8zm-8-9zm-7 7zm-7 0zm-51 3zm-20-7zm-8-1zm-1 1zm-8 2zm-11-5zm-19-2zm-6 10zm-4-2zm-11-4zm-30 8zm-12-9zm-15-4zm-20 4zm-9 3zm-10 4zm-5 4zm-9-6zm-10 1zm-7-9zm-14 0zm-20 3zm-6 6zm-15 7zm-18-15zm-11 1zm-2 13zm-18-12zm-24-2zm-39 3zm-10 14zm-2-3zm-2-9zm-42-3zm-8 4zm-20 7zm-18 2zm-8-3zm-16-4zm-24-6zm-20 2zm-36-2zm-6 5zm-8 6zm-6-14zm0 0zm-3-1zm-1 17zm-4-16zm-13 3zm2 16zm16 8zm4-1zm12 8zm14-5zm8 4zm20-11zm10 13zm5-6zm6 1zm26-9zm8 6zm7 9zm15 1zm3-10zm20 1zm12 4zm3 0zm8-4zm30-6zm6 2zm2 3zm9 1zm6 8zm10-14zm11 15zm13-10zm19 10zm17-9zm1 0zm9 10zm8-9zm15 7zm16-13zm6 7zm5-8zm2 12zm2-3zm48-7zm12-5zm2 9zm17-7zm1 10zm9 1zm18 4zm1-1zm16-6zm5 6zm0-6zm20-9zm2 14zm42-15zm1 10zm22-7zm11 16zm4-2zm3-16zm10 4zm9 0zm12 0zm9 3zm0 6zm1-7zm21 9zm20-1zm1-5zm15 6zm2-6zm15-1zm11 7zm6-11zm10 2zm13 10zm10-13zm9 2zm4 12zm2-8zm4 6zm10-12zm31 10zm4-8zm8-4zm6 9zm48 2zm0 6zm0-13zm23 10zm10-10zm0 11zm25 1zm-13 17zm-18-15zm-12 8zm-7-3zm-7 5zm-7-5zm-6-4zm-29 10zm-4 2zm-3-7zm-2 6zm-14 1zm-3-4zm-3 0zm-2 9zm-1-18zm-12 6zm-24 4zm-4-3zm-8 11zm-3-2zm-10 3zm-4-8zm-5-8zm-7 2zm0 11zm-18-12zm-14 3zm-5 11zm-1-17zm-11 17zm-6-13zm-4-1zm-2 7zm-15 3zm-19-7zm-34-3zm-5-2zm-3 15zm-11-6zm-3-11zm-4 10zm-20 7zm-31-14zm0 2zm-13 11zm-12-2zm-47-6zm-7 2zm-2-7zm-3 9zm-1-3zm-23 3zm-3 5zm-3 1zm-21 1zm-3-2zm-5-1zm-10-13zm-2-3zm0 2zm-9 12zm-9-3zm-3 1zm-7-5zm-7 3zm-12 6zm-2-10zm-4 10zm-5-6zm-4-9zm-21 3zm-4 2zm-13 12zm-1-14zm-8-3zm-53 2zm-9-2zm-3 16zm-30-13zm-3 4zm-9 8zm-10 0zm-9-12zm-5 0zm-2-4zm-2 3zm-12 0zm-45 10zm-6-1zm-13-4zm-4 11zm-7-10zm-8 10zm-8-12zm-16-7zm-1 7zm-19-4zm-6 4zm-3-2zm-8 13zm-1 10zm14 9zm8 2zm18-7zm1 5zm4 0zm7-16zm6 18zm3-11zm6-2zm0 12zm5-18zm5 3zm22 13zm10-5zm14-4zm25 1zm15-5zm8 8zm3-5zm4 1zm16 1zm7 6zm36-9zm7-4zm4 13zm4-11zm8 1zm11 11zm4-5zm6 0zm5 8zm35-1zm9-17zm15 7zm8 7zm4 2zm21 0zm85-14zm5 13zm4-9zm0 13zm1-19zm1 6zm0 6zm23 7zm4-8zm1 3zm16-13zm9 3zm21-4zm14 10zm2-5zm3 7zm6-9zm2 5zm13-6zm10 16zm6-17zm17 11zm17 3zm1-13zm5-2zm1 2zm2 10zm5-8zm9 10zm2 5zm20-18zm12 8zm15-3zm0-6zm4 0zm0 8zm7-6zm1 4zm7-6zm9 15zm11-5zm20 5zm4 0zm10-12zm5 1zm2 5zm15 3zm27 7zm2 0zm1-16zm20 0zm13 0zm0 16zm20-17zm19-1zm15 11zm4 7zm4-5zm21 4zm6-13zm1 5zm-3 14zm-7 3zm-3 8zm0-15zm-34 12zm-1-6zm-4 12zm-2 1zm-13-15zm0 5zm-2-8zm-6 0zm-4 5zm-4-3zm-10 6zm-12-8zm-17 13zm-9-12zm-7-1zm-4 18zm-16-18zm-19 11zm-3-10zm-11 8zm-4 1zm-2-9zm-15 11zm-6 4zm-19-12zm-7-4zm-2 15zm-22-15zm-22 16zm-18 1zm-3-3zm-4 4zm-14-19zm-86 7zm-1 11zm-2-11zm-6 1zm-6 8zm-4-8zm-8-5zm-13 12zm-5 3zm-2-13zm-2 3zm-3 1zm-19 8zm-18-15zm-7 5zm-11 5zm-21 4zm-7-10zm-5 11zm-7-6zm0-3zm-14-4zm-33 13zm-17-14zm-2 6zm-19 8zm-14-17zm-15 5zm0-5zm-1 16zm-3 0zm-9-3zm-9-7zm-4-4zm-4 0zm-7 7zm-6-7zm-4 17zm-8-5zm-10 0zm-3 3zm-26-6zm-20-3zm-11-3zm-2 12zm0-15zm-5 10zm-5-6zm-7 13zm-24-15zm-3 6zm-3-8zm-14 10zm-13-3zm-5 9zm-11-1zm-38-5zm-2 4zm-1-15zm-25 5zm-1 7zm0 5zm-3-6zm-4 19zm24-2zm3-4zm0-5zm1 13zm6-11zm19 8zm4 8zm10-4zm15 1zm1-12zm3 11zm3-6zm5 6zm6-7zm8 6zm0 6zm20-19zm15 16zm3-11zm20 11zm3 2zm18-15zm16 16zm0-15zm10-2zm6 11zm3-5zm13 6zm14-6zm15 11zm28-4zm5-11zm5 1zm4 8zm13-3zm15 9zm13-10zm16 0zm9-6zm16-1zm9 15zm11-4zm63-9zm17 6zm15-10zm4 4zm2 1zm6-3zm2 10zm33-6zm10 10zm7-16zm8 17zm22 1zm22-10zm25-2zm3 2zm7-8zm9 8zm6 1zm10-5zm4-4zm0 10zm5 3zm1-1zm4 6zm13-7zm5-10zm33 0zm16-1zm18 11zm1 1zm13 5zm13-4zm2-3zm31-10zm50 3zm2 6zm3 9zm4-12zm3 2zm5-1zm4-6zm4 7zm18 11zm24-16zm17-3zm4 4zm1-2zm3 0zm-1 35zm-15-11zm-10 3zm-3-8zm-5 9zm-2 7zm-1-13zm-4 12zm0 0zm-11-15zm-19 1zm-1 14zm-1-4zm-8-10zm-7 2zm-7 12zm-24-2zm-7-3zm-22-1zm-3-9zm-2 1zm-1 1zm-3 15zm-3-15zm-9 0zm-25 0zm-2 0zm-7 2zm-29 4zm-6 4zm-10-1zm-31-3zm-7 8zm-10 0zm-24-9zm-7 2zm-2-1zm-27-7zm-23 0zm-9 4zm-7 5zm-3-1zm-3-3zm0-5zm-24 4zm-15 2zm-6 5zm-9-8zm-3 12zm-12 0zm-2-10zm-3 2zm-9 10zm-9-10zm0 0zm0 10zm-6-3zm-4-6zm-2 8zm-13-15zm-35 11zm0-2zm-4 2zm-5 1zm0-13zm-7-2zm0 8zm-9-6zm-3 17zm-20-19zm-2 8zm-24 4zm-5 3zm-16 1zm-12 3zm-1-15zm-35 15zm-8-19zm-11 4zm-11 10zm-12-9zm-9 12zm-1-17zm-2 12zm-4 2zm-1-11zm-7 2zm-22 13zm-1 0zm-9-18zm-3 17zm-23-15zm-34 16zm-2-5zm-3 6zm-1-19zm-9 6zm-1 8zm-8 2zm-9-7zm-25 3zm-21 4zm-20-11zm-3 4zm-20-4zm8 26zm15 0zm18-2zm2-7zm2 2zm21-1zm11 1zm5 15zm16-5zm7-8zm7 4zm10 9zm10-8zm22 4zm21 0zm3-2zm12 5zm2-7zm2 3zm4 2zm6-16zm18 6zm2 5zm4-8zm16-2zm3 2zm3 5zm13 1zm12 2zm39 1zm18 7zm27-16zm1 8zm1-11zm27 6zm4 11zm2-5zm6 0zm34 4zm6 1zm23-5zm17-12zm17 5zm5 2zm1-7zm3 13zm22 6zm12-14zm24 7zm9-3zm6-7zm38 17zm11-19zm10 2zm10 15zm14-16zm30 3zm15 6zm8 9zm1-8zm1-10zm7 0zm1 17zm16-8zm11 6zm1-2zm8 1zm7-12zm22 8zm7-8zm9 13zm48 1zm12-9zm17 11zm4-14zm34 7zm1-12zm6 10zm3-1zm14-1zm15 9zm1-4zm1-10zm3-1zm14 15zm-26 18zm0-4zm-33-1zm-9 2zm-7-12zm-5 5zm-6 3zm-44 3zm-29-4zm-33 3zm-7 2zm-20-10zm-8-2zm-2 3zm-15 3zm-15-6zm-6 0zm-4 0zm-22 3zm-4 11zm0 4zm-13-11zm-21 8zm-5-4zm-4-4zm-10 6zm-2 1zm-9-8zm-13 9zm-8-10zm-1-2zm-13 6zm-5 8zm-4-10zm-2 3zm0 1zm-31-10zm-2 14zm-17 4zm-16-5zm-2 2zm-7-1zm-15-3zm-7 6zm-4-5zm-5 3zm-9-4zm-15 4zm-6-6zm-26-5zm-2 5zm-1 8zm-26-13zm-7-3zm-5 3zm-4-3zm-1 5zm-2-4zm-20 10zm-8 3zm-9 0zm-19-11zm-2 1zm-2 0zm-9 10zm-2-4zm-20 3zm-4-14zm0 4zm-5-5zm-13 7zm-8 2zm-10-6zm-6 14zm-2 2zm-1-19zm-34 2zm-1 11zm-22 5zm0-18zm-3 15zm-2-9zm-1 12zm-2-15zm-5 4zm-39 10zm-6-5zm-3-12zm-1 17zm-37-13zm-18 3zm-2-1zm-4-2zm-8 10zm-3-3zm-8-3zm-3 4zm-7-1zm-19 0zm0-11zm-4 16zm5 18zm7-11zm34 2zm30-2zm19 13zm1-4zm11-11zm23 3zm19-3zm26 0zm2 6zm2 11zm19-13zm17 2zm1-3zm3 8zm12 5zm30-1zm31 1zm4-5zm17 3zm3-4zm0 2zm12-12zm7 7zm12-8zm13 14zm2-9zm3 1zm18 3zm4-7zm3 12zm3-14zm5 6zm2 10zm9-11zm35-4zm6 15zm0-2zm3-11zm11 1zm37-1zm2 13zm26 1zm1 0zm3-4zm2-13zm1 14zm39-6zm9 11zm13-5zm12 5zm4-10zm8 8zm1-2zm39-3zm2-1zm3-5zm0-2zm5 0zm13-1zm198 10zm11 5zm23-9zm45 0zm9-6zm0 2zm14 29zm-17-13zm-18 12zm-7 4zm-14-14zm-27 1zm-16 14zm-10-11zm-8 2zm-5 0zm-40 9zm-163-15zm-4 1zm-1-3zm-4 0zm-2 4zm-24 7zm-8-10zm-1-1zm-17 13zm-10-3zm0 0zm-3-3zm-7 11zm-9-1zm-8 1zm-4-9zm-25-1zm-4 3zm-14 5zm-4 2zm-31-15zm-5-1zm-2-3zm-5 17zm-20-6zm-15-3zm-15 10zm-15-8zm-8 1zm-10-1zm-9-1zm-23-4zm-9 6zm-1 1zm-2-10zm0 4zm0 6zm-7 0zm-17-2zm-1-1zm-56 6zm-4 0zm-9-9zm-7-2zm-1-1zm-14-3zm-48 12zm-13-7zm-43-3zm-3 9zm0 5zm-5 3zm-5-5zm-5-8zm-26-6zm-6 13zm-3-5zm-5 8zm-3-3zm-10-7zm-10 11zm-19 1zm-3-4zm-1-6zm-11 4zm2 26zm4-7zm4 2zm6 2zm14-12zm6-3zm8 11zm4-8zm16 10zm25-3zm21-3zm5 10zm2 2zm4-1zm20 0zm15-1zm63-2zm1 4zm3-17zm3-1zm16 9zm5-8zm1 14zm2-5zm8 5zm10 0zm4-11zm17 5zm2-4zm5-5zm4 15zm19-8zm1-2zm11 5zm7-1zm10 7zm13-4zm1 0zm14 5zm9-6zm1-2zm4-9zm0 6zm4-6zm2 2zm4 9zm2-6zm19 3zm18 5zm10-8zm19 1zm5 10zm6-11zm16 13zm17-6zm15 2zm4-12zm6-3zm1 14zm2-7zm0 0zm5 7zm4 2zm12-9zm2 9zm8-15zm8 0zm15 11zm0-7zm17 10zm1-8zm3 12zm2-2zm12-4zm1 0zm1 6zm2 0zm16-8zm5-10zm12 12zm149-4zm1 4zm1 6zm14-5zm18-14zm1 5zm3 9zm2-12zm2 16zm31 1zm28-1zm3-10zm12 9zm1-9zm3 4zm10-3zm26 2zm5-9zm3 23zm-10 11zm-29-15zm-11 4zm-56 5zm-41 6zm-17-10zm-14-5zm-111 14zm-10-8zm-33 1zm-14-8zm-18 1zm-4 6zm0 0zm-6 10zm-1-4zm-10-4zm-5-1zm-16-3zm0-5zm-4 0zm-33 10zm-12-10zm-7 1zm-5 15zm0 0zm-3-8zm-16-8zm-1 17zm-2-1zm-3-2zm-2 0zm-14-9zm-6-4zm-21 9zm-11-1zm-45-8zm-9 6zm-6 3zm-11-1zm-3 0zm-24 1zm-7-9zm-3 0zm-7-1zm-3 8zm-23 8zm-3-12zm-1 0zm-3 6zm-16 6zm-4 1zm-39-9zm-24 11zm-20-4zm-3-14zm-6 17zm-10-1zm-4-6zm-3 3zm-1 3zm-5 0zm-1-13zm-2-2zm-25 0zm-17 16zm-8-4zm-5-8zm-25 3zm-3 4zm-7 4zm-7-8zm-11 6zm-7-6zm-3 8zm-2-2zm-14-3zm-6 6zm-6-18zm0 24zm2 4zm2-3zm10 3zm2-8zm24 12zm7 6zm15-13zm33 8zm33 4zm0-8zm11-9zm7 14zm18-8zm11-4zm31-1zm36 13zm0-6zm11 10zm23-14zm1-2zm11 16zm4-15zm7 7zm32 7zm3-5zm41-9zm52 6zm14 3zm3 6zm10-6zm5 6zm47-3zm2-3zm3 1zm10 6zm20-14zm2-4zm1 18zm27-18zm5 13zm8 5zm7-8zm2-7zm30 4zm1 1zm10 5zm12 4zm1-8zm2 8zm3-9zm3 2zm18 1zm2-1zm16-10zm0 17zm26-13zm5 1zm8 6zm10 6zm16 1zm8-14zm9 7zm4-12zm16 3zm15 16zm4-13zm1-6zm10 3zm10 14zm13-1zm5-7zm11 9zm1-14zm30 10zm7-14zm18 12zm1-3zm11 6zm50 7zm-24 5zm-5-4zm-2-1zm-21 9zm0-11zm-1 11zm-17-7zm-14 1zm-6 3zm-30-7zm-2 5zm-22 1zm-69-6zm-4 6zm-8-5zm-14 7zm-39-4zm-3-5zm-2 10zm-6-5zm0 2zm-7-2zm-9 6zm-18-6zm-3-5zm-105 7zm-47 0zm-23 3zm-7-10zm-2 11zm0-5zm-3 0zm-13 5zm-23-3zm-68 3zm-46-2zm-11 2zm-5-10zm-20 10zm-11-8zm-5 0zm-12 7zm-6-4zm-34-3zm-20 1zm-11-2zm-15 4zm-58 4zm-18-5zm-3-5zm-22 6zm-7 1zm-8-7zm-11 3zm-22 3zm-17-1z" stroke="#000" stroke-width="2.3" stroke-linecap="round" fill="none"/></g></g>
<rect x="1902.6" y="1348.2" width="79.9" height="6.2" fill="#000"/>
<text transform="translate(1940 1378) scale(0.9627 1)" text-anchor="middle" font-size="29.5">50<tspan font-style="italic">µ</tspan>m</text>
<text transform="translate(0.2 38.3)" font-size="44" font-weight="bold">a</text>
<line x1="97.3" y1="73.6" x2="97.3" y2="556.7" stroke="#000" stroke-width="2.8"/>
<line x1="81.8" y1="75" x2="97.3" y2="75" stroke="#000" stroke-width="2.8"/>
<text transform="translate(38.53 85.9) scale(0.9627 1)" font-size="29.5">1.3</text>
<line x1="81.8" y1="162.4" x2="97.3" y2="162.4" stroke="#000" stroke-width="2.8"/>
<text transform="translate(38.53 173.3) scale(0.9627 1)" font-size="29.5">1.2</text>
<line x1="81.8" y1="249.9" x2="97.3" y2="249.9" stroke="#000" stroke-width="2.8"/>
<text transform="translate(38.53 260.8) scale(0.9627 1)" font-size="29.5">1.1</text>
<line x1="81.8" y1="337.3" x2="97.3" y2="337.3" stroke="#000" stroke-width="2.8"/>
<text transform="translate(38.53 348.2) scale(0.9627 1)" font-size="29.5">1.0</text>
<line x1="81.8" y1="424.8" x2="97.3" y2="424.8" stroke="#000" stroke-width="2.8"/>
<text transform="translate(38.53 435.7) scale(0.9627 1)" font-size="29.5">0.9</text>
<text transform="translate(38.53 522.9) scale(0.9627 1)" font-size="29.5">0.8</text>
<line x1="86.8" y1="513.4" x2="107.8" y2="513.4" stroke="#000" stroke-width="2.8"/>
<line x1="86.8" y1="524.4" x2="107.8" y2="524.4" stroke="#000" stroke-width="2.8"/>
<rect x="94.3" y="515.1" width="6" height="7.6" fill="#fff"/>
<text transform="translate(62.12 565.9) scale(0.9627 1)" font-size="29.5">0</text>
<line x1="81.8" y1="555.3" x2="480.3" y2="555.3" stroke="#000" stroke-width="2.8"/>
<line x1="113.5" y1="555.3" x2="113.5" y2="570" stroke="#000" stroke-width="2.8"/>
<line x1="146.8" y1="555.3" x2="146.8" y2="570" stroke="#000" stroke-width="2.8"/>
<line x1="180.1" y1="555.3" x2="180.1" y2="570" stroke="#000" stroke-width="2.8"/>
<line x1="213.4" y1="555.3" x2="213.4" y2="570" stroke="#000" stroke-width="2.8"/>
<line x1="246.7" y1="555.3" x2="246.7" y2="570" stroke="#000" stroke-width="2.8"/>
<line x1="280" y1="555.3" x2="280" y2="570" stroke="#000" stroke-width="2.8"/>
<line x1="313.3" y1="555.3" x2="313.3" y2="570" stroke="#000" stroke-width="2.8"/>
<line x1="346.6" y1="555.3" x2="346.6" y2="570" stroke="#000" stroke-width="2.8"/>
<line x1="379.9" y1="555.3" x2="379.9" y2="570" stroke="#000" stroke-width="2.8"/>
<line x1="413.2" y1="555.3" x2="413.2" y2="570" stroke="#000" stroke-width="2.8"/>
<line x1="446.5" y1="555.3" x2="446.5" y2="570" stroke="#000" stroke-width="2.8"/>
<line x1="479.8" y1="555.3" x2="479.8" y2="570" stroke="#000" stroke-width="2.8"/>
<text transform="translate(102.06 600.8) scale(0.9627 1)" font-size="29.5">0</text>
<text transform="translate(168.66 600.8) scale(0.9627 1)" font-size="29.5">2</text>
<text transform="translate(235.26 600.8) scale(0.9627 1)" font-size="29.5">4</text>
<text transform="translate(301.86 600.8) scale(0.9627 1)" font-size="29.5">6</text>
<text transform="translate(368.46 600.8) scale(0.9627 1)" font-size="29.5">8</text>
<text transform="translate(424.24 600.8) scale(0.9627 1)" font-size="29.5">10</text>
<text transform="translate(231.6 637.6) scale(0.9025 1)" font-size="29.5">Weeks</text>
<text transform="translate(24.9 423.5) rotate(-90) scale(0.8673 1)" font-size="29.5">relative weight gain</text>
<line x1="113.5" y1="304.16" x2="113.5" y2="370.62" stroke="#000" stroke-width="2.2"/>
<line x1="105.5" y1="304.16" x2="121.5" y2="304.16" stroke="#000" stroke-width="2.2"/>
<line x1="105.5" y1="370.62" x2="121.5" y2="370.62" stroke="#000" stroke-width="2.2"/>
<line x1="146.8" y1="301.39" x2="146.8" y2="357.46" stroke="#000" stroke-width="2.2"/>
<line x1="138.8" y1="301.39" x2="154.8" y2="301.39" stroke="#000" stroke-width="2.2"/>
<line x1="138.8" y1="357.46" x2="154.8" y2="357.46" stroke="#000" stroke-width="2.2"/>
<line x1="180.1" y1="279.92" x2="180.1" y2="341.08" stroke="#000" stroke-width="2.2"/>
<line x1="172.1" y1="279.92" x2="188.1" y2="279.92" stroke="#000" stroke-width="2.2"/>
<line x1="172.1" y1="341.08" x2="188.1" y2="341.08" stroke="#000" stroke-width="2.2"/>
<line x1="213.4" y1="259.15" x2="213.4" y2="320.77" stroke="#000" stroke-width="2.2"/>
<line x1="205.4" y1="259.15" x2="221.4" y2="259.15" stroke="#000" stroke-width="2.2"/>
<line x1="205.4" y1="320.77" x2="221.4" y2="320.77" stroke="#000" stroke-width="2.2"/>
<line x1="246.7" y1="234.46" x2="246.7" y2="295.16" stroke="#000" stroke-width="2.2"/>
<line x1="238.7" y1="234.46" x2="254.7" y2="234.46" stroke="#000" stroke-width="2.2"/>
<line x1="238.7" y1="295.16" x2="254.7" y2="295.16" stroke="#000" stroke-width="2.2"/>
<line x1="280" y1="221.08" x2="280" y2="280.16" stroke="#000" stroke-width="2.2"/>
<line x1="272" y1="221.08" x2="288" y2="221.08" stroke="#000" stroke-width="2.2"/>
<line x1="272" y1="280.16" x2="288" y2="280.16" stroke="#000" stroke-width="2.2"/>
<line x1="313.3" y1="207.69" x2="313.3" y2="265.39" stroke="#000" stroke-width="2.2"/>
<line x1="305.3" y1="207.69" x2="321.3" y2="207.69" stroke="#000" stroke-width="2.2"/>
<line x1="305.3" y1="265.39" x2="321.3" y2="265.39" stroke="#000" stroke-width="2.2"/>
<line x1="346.6" y1="187.62" x2="346.6" y2="248.77" stroke="#000" stroke-width="2.2"/>
<line x1="338.6" y1="187.62" x2="354.6" y2="187.62" stroke="#000" stroke-width="2.2"/>
<line x1="338.6" y1="248.77" x2="354.6" y2="248.77" stroke="#000" stroke-width="2.2"/>
<line x1="379.9" y1="167.08" x2="379.9" y2="236.08" stroke="#000" stroke-width="2.2"/>
<line x1="371.9" y1="167.08" x2="387.9" y2="167.08" stroke="#000" stroke-width="2.2"/>
<line x1="371.9" y1="236.08" x2="387.9" y2="236.08" stroke="#000" stroke-width="2.2"/>
<line x1="413.2" y1="163.15" x2="413.2" y2="240.46" stroke="#000" stroke-width="2.2"/>
<line x1="405.2" y1="163.15" x2="421.2" y2="163.15" stroke="#000" stroke-width="2.2"/>
<line x1="405.2" y1="240.46" x2="421.2" y2="240.46" stroke="#000" stroke-width="2.2"/>
<line x1="446.5" y1="154.62" x2="446.5" y2="230.77" stroke="#000" stroke-width="2.2"/>
<line x1="438.5" y1="154.62" x2="454.5" y2="154.62" stroke="#000" stroke-width="2.2"/>
<line x1="438.5" y1="230.77" x2="454.5" y2="230.77" stroke="#000" stroke-width="2.2"/>
<polyline points="113.5,337.39 146.8,331.16 180.1,311.08 213.4,290.77 246.7,265.39 280,250.62 313.3,236.54 346.6,218.08 379.9,201.92 413.2,201.92 446.5,192.46" fill="none" stroke="#000" stroke-width="2.2" stroke-linejoin="miter"/>
<rect x="106.3" y="330.19" width="14.4" height="14.4" fill="#1f96f2"/>
<rect x="139.6" y="323.96" width="14.4" height="14.4" fill="#1f96f2"/>
<rect x="172.9" y="303.88" width="14.4" height="14.4" fill="#1f96f2"/>
<rect x="206.2" y="283.57" width="14.4" height="14.4" fill="#1f96f2"/>
<rect x="239.5" y="258.19" width="14.4" height="14.4" fill="#1f96f2"/>
<rect x="272.8" y="243.42" width="14.4" height="14.4" fill="#1f96f2"/>
<rect x="306.1" y="229.34" width="14.4" height="14.4" fill="#1f96f2"/>
<rect x="339.4" y="210.88" width="14.4" height="14.4" fill="#1f96f2"/>
<rect x="372.7" y="194.72" width="14.4" height="14.4" fill="#1f96f2"/>
<rect x="406" y="194.72" width="14.4" height="14.4" fill="#1f96f2"/>
<rect x="439.3" y="185.26" width="14.4" height="14.4" fill="#1f96f2"/>
<line x1="113.5" y1="322.62" x2="113.5" y2="353.08" stroke="#000" stroke-width="2.2"/>
<line x1="105.5" y1="322.62" x2="121.5" y2="322.62" stroke="#000" stroke-width="2.2"/>
<line x1="105.5" y1="353.08" x2="121.5" y2="353.08" stroke="#000" stroke-width="2.2"/>
<line x1="146.8" y1="315.69" x2="146.8" y2="338.54" stroke="#000" stroke-width="2.2"/>
<line x1="138.8" y1="315.69" x2="154.8" y2="315.69" stroke="#000" stroke-width="2.2"/>
<line x1="138.8" y1="338.54" x2="154.8" y2="338.54" stroke="#000" stroke-width="2.2"/>
<line x1="180.1" y1="288.23" x2="180.1" y2="312.69" stroke="#000" stroke-width="2.2"/>
<line x1="172.1" y1="288.23" x2="188.1" y2="288.23" stroke="#000" stroke-width="2.2"/>
<line x1="172.1" y1="312.69" x2="188.1" y2="312.69" stroke="#000" stroke-width="2.2"/>
<line x1="213.4" y1="254.54" x2="213.4" y2="285" stroke="#000" stroke-width="2.2"/>
<line x1="205.4" y1="254.54" x2="221.4" y2="254.54" stroke="#000" stroke-width="2.2"/>
<line x1="205.4" y1="285" x2="221.4" y2="285" stroke="#000" stroke-width="2.2"/>
<line x1="246.7" y1="245.31" x2="246.7" y2="277.16" stroke="#000" stroke-width="2.2"/>
<line x1="238.7" y1="245.31" x2="254.7" y2="245.31" stroke="#000" stroke-width="2.2"/>
<line x1="238.7" y1="277.16" x2="254.7" y2="277.16" stroke="#000" stroke-width="2.2"/>
<line x1="280" y1="250.15" x2="280" y2="280.62" stroke="#000" stroke-width="2.2"/>
<line x1="272" y1="250.15" x2="288" y2="250.15" stroke="#000" stroke-width="2.2"/>
<line x1="272" y1="280.62" x2="288" y2="280.62" stroke="#000" stroke-width="2.2"/>
<line x1="313.3" y1="233.54" x2="313.3" y2="271.16" stroke="#000" stroke-width="2.2"/>
<line x1="305.3" y1="233.54" x2="321.3" y2="233.54" stroke="#000" stroke-width="2.2"/>
<line x1="305.3" y1="271.16" x2="321.3" y2="271.16" stroke="#000" stroke-width="2.2"/>
<line x1="346.6" y1="218.77" x2="346.6" y2="260.31" stroke="#000" stroke-width="2.2"/>
<line x1="338.6" y1="218.77" x2="354.6" y2="218.77" stroke="#000" stroke-width="2.2"/>
<line x1="338.6" y1="260.31" x2="354.6" y2="260.31" stroke="#000" stroke-width="2.2"/>
<line x1="379.9" y1="194.54" x2="379.9" y2="244.85" stroke="#000" stroke-width="2.2"/>
<line x1="371.9" y1="194.54" x2="387.9" y2="194.54" stroke="#000" stroke-width="2.2"/>
<line x1="371.9" y1="244.85" x2="387.9" y2="244.85" stroke="#000" stroke-width="2.2"/>
<line x1="413.2" y1="191.08" x2="413.2" y2="240.46" stroke="#000" stroke-width="2.2"/>
<line x1="405.2" y1="191.08" x2="421.2" y2="191.08" stroke="#000" stroke-width="2.2"/>
<line x1="405.2" y1="240.46" x2="421.2" y2="240.46" stroke="#000" stroke-width="2.2"/>
<line x1="446.5" y1="192.92" x2="446.5" y2="244.85" stroke="#000" stroke-width="2.2"/>
<line x1="438.5" y1="192.92" x2="454.5" y2="192.92" stroke="#000" stroke-width="2.2"/>
<line x1="438.5" y1="244.85" x2="454.5" y2="244.85" stroke="#000" stroke-width="2.2"/>
<polyline points="113.5,337.39 146.8,327 180.1,300.23 213.4,269.77 246.7,261.23 280,265.39 313.3,252.92 346.6,240 379.9,219.92 413.2,216 446.5,219" fill="none" stroke="#000" stroke-width="2.2" stroke-linejoin="miter"/>
<circle cx="113.5" cy="337.39" r="7.4" fill="#000"/>
<circle cx="146.8" cy="327" r="7.4" fill="#000"/>
<circle cx="180.1" cy="300.23" r="7.4" fill="#000"/>
<circle cx="213.4" cy="269.77" r="7.4" fill="#000"/>
<circle cx="246.7" cy="261.23" r="7.4" fill="#000"/>
<circle cx="280" cy="265.39" r="7.4" fill="#000"/>
<circle cx="313.3" cy="252.92" r="7.4" fill="#000"/>
<circle cx="346.6" cy="240" r="7.4" fill="#000"/>
<circle cx="379.9" cy="219.92" r="7.4" fill="#000"/>
<circle cx="413.2" cy="216" r="7.4" fill="#000"/>
<circle cx="446.5" cy="219" r="7.4" fill="#000"/>
<line x1="302.7" y1="450.8" x2="355" y2="450.8" stroke="#000" stroke-width="2.6"/>
<circle cx="328.5" cy="450.8" r="8.6" fill="#000"/>
<text transform="translate(365.9 463.4) scale(0.8717 1)" font-size="29.5">Ctrl</text>
<line x1="302.7" y1="495.8" x2="355" y2="495.8" stroke="#1f96f2" stroke-width="2.6"/>
<rect x="320" y="487.2" width="17.2" height="17.2" fill="#1f96f2"/>
<text transform="translate(367.6 508.5) scale(0.9098 1)" font-size="29.5"><tspan font-style="italic">Spring</tspan><tspan font-size="16.9" dx="0.6" dy="-10.3">LKO</tspan></text>
<text transform="translate(558.7 38.5)" font-size="44" font-weight="bold">b</text>
<line x1="671.9" y1="73.65" x2="671.9" y2="555.6" stroke="#000" stroke-width="3.3"/>
<line x1="660" y1="75.5" x2="671.9" y2="75.5" stroke="#000" stroke-width="3.3"/>
<text transform="translate(595.74 84.8) scale(0.9627 1)" font-size="29.5">0.05</text>
<line x1="660" y1="171.5" x2="671.9" y2="171.5" stroke="#000" stroke-width="3.3"/>
<text transform="translate(595.74 180.8) scale(0.9627 1)" font-size="29.5">0.04</text>
<line x1="660" y1="267.5" x2="671.9" y2="267.5" stroke="#000" stroke-width="3.3"/>
<text transform="translate(595.74 276.8) scale(0.9627 1)" font-size="29.5">0.03</text>
<line x1="660" y1="363.5" x2="671.9" y2="363.5" stroke="#000" stroke-width="3.3"/>
<text transform="translate(595.74 372.8) scale(0.9627 1)" font-size="29.5">0.02</text>
<line x1="660" y1="459.5" x2="671.9" y2="459.5" stroke="#000" stroke-width="3.3"/>
<text transform="translate(595.74 468.8) scale(0.9627 1)" font-size="29.5">0.01</text>
<line x1="660" y1="555.6" x2="671.9" y2="555.6" stroke="#000" stroke-width="3.3"/>
<text transform="translate(595.74 564.9) scale(0.9627 1)" font-size="29.5">0.00</text>
<line x1="660" y1="555.6" x2="992" y2="555.6" stroke="#000" stroke-width="3.3"/>
<text transform="translate(582.1 398.6) rotate(-90) scale(0.9026 1)" font-size="29.5">Liver/BW ratio</text>
<line x1="762.85" y1="112.21" x2="762.85" y2="139.67" stroke="#000" stroke-width="2.05"/>
<line x1="762.85" y1="189.89" x2="762.85" y2="199.31" stroke="#000" stroke-width="2.05"/>
<rect x="718.59" y="139.67" width="88.51" height="50.22" fill="#c8c8c8" stroke="#000" stroke-width="2.05"/>
<line x1="718.59" y1="172.47" x2="807.11" y2="172.47" stroke="#000" stroke-width="2.05"/>
<line x1="739.39" y1="112.21" x2="786.31" y2="112.21" stroke="#000" stroke-width="2.05"/>
<line x1="739.39" y1="199.31" x2="786.31" y2="199.31" stroke="#000" stroke-width="2.05"/>
<circle cx="762.85" cy="112.52" r="6.85" fill="none" stroke="#000" stroke-width="2"/>
<circle cx="762.85" cy="147.05" r="6.85" fill="none" stroke="#000" stroke-width="2"/>
<circle cx="780.11" cy="165.57" r="6.85" fill="none" stroke="#000" stroke-width="2"/>
<circle cx="746.53" cy="179.69" r="6.85" fill="none" stroke="#000" stroke-width="2"/>
<circle cx="779.49" cy="189.42" r="6.85" fill="none" stroke="#000" stroke-width="2"/>
<circle cx="746.84" cy="199.47" r="6.85" fill="none" stroke="#000" stroke-width="2"/>
<line x1="900.33" y1="149.87" x2="900.33" y2="187.07" stroke="#000" stroke-width="2.05"/>
<line x1="900.33" y1="210.61" x2="900.33" y2="224.73" stroke="#000" stroke-width="2.05"/>
<rect x="856.07" y="187.07" width="88.51" height="23.54" fill="#1f96f2" stroke="#000" stroke-width="2.05"/>
<line x1="856.07" y1="192.56" x2="944.58" y2="192.56" stroke="#000" stroke-width="2.05"/>
<line x1="876.87" y1="149.87" x2="923.78" y2="149.87" stroke="#000" stroke-width="2.05"/>
<line x1="876.87" y1="224.73" x2="923.78" y2="224.73" stroke="#000" stroke-width="2.05"/>
<circle cx="900.33" cy="149.56" r="6.85" fill="none" stroke="#000" stroke-width="2"/>
<circle cx="938.31" cy="182.2" r="6.85" fill="none" stroke="#000" stroke-width="2"/>
<circle cx="863.29" cy="188.48" r="6.85" fill="none" stroke="#000" stroke-width="2"/>
<circle cx="881.81" cy="192.56" r="6.85" fill="none" stroke="#000" stroke-width="2"/>
<circle cx="900.33" cy="190.05" r="6.85" fill="none" stroke="#000" stroke-width="2"/>
<circle cx="918.84" cy="195.7" r="6.85" fill="none" stroke="#000" stroke-width="2"/>
<circle cx="900.33" cy="207.94" r="6.85" fill="none" stroke="#000" stroke-width="2"/>
<circle cx="918.84" cy="216.1" r="6.85" fill="none" stroke="#000" stroke-width="2"/>
<circle cx="881.81" cy="225.2" r="6.85" fill="none" stroke="#000" stroke-width="2"/>
<polyline points="762.85,93.22 762.85,73.76 900.33,73.76 900.33,93.22" fill="none" stroke="#000" stroke-width="2.05" stroke-linejoin="miter"/>
<text transform="translate(804.22 64.6) scale(0.9627 1)" font-size="29.5">0.09</text>
<text transform="translate(740.71 590.6) scale(0.9627 1)" font-size="29.5">Ctrl</text>
<text transform="translate(842.74 590.6) scale(0.9627 1)" font-size="29.5"><tspan font-style="italic">Spring</tspan><tspan font-size="16.9" dx="0.6" dy="-10.3">LKO</tspan></text>
<text transform="translate(1070.4 38.5)" font-size="44" font-weight="bold">c</text>
<line x1="1179.7" y1="77.45" x2="1179.7" y2="559.3" stroke="#000" stroke-width="3.3"/>
<line x1="1166.2" y1="79.1" x2="1179.7" y2="79.1" stroke="#000" stroke-width="3.3"/>
<text transform="translate(1111.59 88.9) scale(0.9627 1)" font-size="29.5">150</text>
<line x1="1166.2" y1="239.2" x2="1179.7" y2="239.2" stroke="#000" stroke-width="3.3"/>
<text transform="translate(1111.59 249) scale(0.9627 1)" font-size="29.5">100</text>
<line x1="1166.2" y1="399.2" x2="1179.7" y2="399.2" stroke="#000" stroke-width="3.3"/>
<text transform="translate(1127.47 409) scale(0.9627 1)" font-size="29.5">50</text>
<line x1="1166.2" y1="559.3" x2="1179.7" y2="559.3" stroke="#000" stroke-width="3.3"/>
<text transform="translate(1143.12 569.1) scale(0.9627 1)" font-size="29.5">0</text>
<line x1="1166.2" y1="559.3" x2="1499.8" y2="559.3" stroke="#000" stroke-width="3.3"/>
<text transform="translate(1094 482.5) rotate(-90) scale(0.9178 1)" font-size="29.5">Plasma cholesterol [mg/dL]</text>
<line x1="1270.7" y1="154.74" x2="1270.7" y2="158.19" stroke="#000" stroke-width="2.05"/>
<line x1="1270.7" y1="234.78" x2="1270.7" y2="237.92" stroke="#000" stroke-width="2.05"/>
<rect x="1226.6" y="158.19" width="88.2" height="76.59" fill="#c8c8c8" stroke="#000" stroke-width="2.05"/>
<line x1="1226.6" y1="201.82" x2="1314.8" y2="201.82" stroke="#000" stroke-width="2.05"/>
<line x1="1247.32" y1="154.74" x2="1294.07" y2="154.74" stroke="#000" stroke-width="2.05"/>
<line x1="1247.32" y1="237.92" x2="1294.07" y2="237.92" stroke="#000" stroke-width="2.05"/>
<circle cx="1270.7" cy="156.94" r="6.85" fill="none" stroke="#000" stroke-width="2"/>
<circle cx="1308.36" cy="154.74" r="6.85" fill="none" stroke="#000" stroke-width="2"/>
<circle cx="1270.7" cy="181.1" r="6.85" fill="none" stroke="#000" stroke-width="2"/>
<circle cx="1270.7" cy="222.85" r="6.85" fill="none" stroke="#000" stroke-width="2"/>
<circle cx="1233.66" cy="238.23" r="6.85" fill="none" stroke="#000" stroke-width="2"/>
<circle cx="1308.36" cy="235.72" r="6.85" fill="none" stroke="#000" stroke-width="2"/>
<line x1="1408.17" y1="322.03" x2="1408.17" y2="332.71" stroke="#000" stroke-width="2.05"/>
<line x1="1408.17" y1="400.82" x2="1408.17" y2="440.99" stroke="#000" stroke-width="2.05"/>
<rect x="1363.92" y="332.71" width="88.51" height="68.11" fill="#1f96f2" stroke="#000" stroke-width="2.05"/>
<line x1="1363.92" y1="367.23" x2="1452.43" y2="367.23" stroke="#000" stroke-width="2.05"/>
<line x1="1384.72" y1="322.03" x2="1431.63" y2="322.03" stroke="#000" stroke-width="2.05"/>
<line x1="1384.72" y1="440.99" x2="1431.63" y2="440.99" stroke="#000" stroke-width="2.05"/>
<circle cx="1408.17" cy="325.8" r="6.85" fill="none" stroke="#000" stroke-width="2"/>
<circle cx="1445.84" cy="322.03" r="6.85" fill="none" stroke="#000" stroke-width="2"/>
<circle cx="1370.82" cy="337.41" r="6.85" fill="none" stroke="#000" stroke-width="2"/>
<circle cx="1408.17" cy="349.34" r="6.85" fill="none" stroke="#000" stroke-width="2"/>
<circle cx="1370.82" cy="367.23" r="6.85" fill="none" stroke="#000" stroke-width="2"/>
<circle cx="1408.17" cy="376.02" r="6.85" fill="none" stroke="#000" stroke-width="2"/>
<circle cx="1445.84" cy="375.08" r="6.85" fill="none" stroke="#000" stroke-width="2"/>
<circle cx="1426.69" cy="428.12" r="6.85" fill="none" stroke="#000" stroke-width="2"/>
<circle cx="1389.34" cy="440.99" r="6.85" fill="none" stroke="#000" stroke-width="2"/>
<polyline points="1270.7,134.97 1270.7,113.94 1408.17,113.94 1408.17,134.97" fill="none" stroke="#000" stroke-width="2.05" stroke-linejoin="miter"/>
<text x="1317.4" y="117.68" font-size="37.2" letter-spacing="0.57">***</text>
<text transform="translate(1248.55 590.6) scale(0.9627 1)" font-size="29.5">Ctrl</text>
<text transform="translate(1350.59 590.6) scale(0.9627 1)" font-size="29.5"><tspan font-style="italic">Spring</tspan><tspan font-size="16.9" dx="0.6" dy="-10.3">LKO</tspan></text>
<text transform="translate(1578.2 38.5)" font-size="44" font-weight="bold">d</text>
<line x1="1680.3" y1="75.85" x2="1680.3" y2="557.7" stroke="#000" stroke-width="3.3"/>
<line x1="1666.8" y1="77.5" x2="1680.3" y2="77.5" stroke="#000" stroke-width="3.3"/>
<text transform="translate(1624.77 87.3) scale(0.9627 1)" font-size="29.5">80</text>
<line x1="1666.8" y1="197.5" x2="1680.3" y2="197.5" stroke="#000" stroke-width="3.3"/>
<text transform="translate(1624.77 207.3) scale(0.9627 1)" font-size="29.5">60</text>
<line x1="1666.8" y1="317.6" x2="1680.3" y2="317.6" stroke="#000" stroke-width="3.3"/>
<text transform="translate(1624.77 327.4) scale(0.9627 1)" font-size="29.5">40</text>
<line x1="1666.8" y1="437.6" x2="1680.3" y2="437.6" stroke="#000" stroke-width="3.3"/>
<text transform="translate(1624.77 447.4) scale(0.9627 1)" font-size="29.5">20</text>
<line x1="1666.8" y1="557.7" x2="1680.3" y2="557.7" stroke="#000" stroke-width="3.3"/>
<text transform="translate(1640.42 567.5) scale(0.9627 1)" font-size="29.5">0</text>
<line x1="1666.8" y1="557.7" x2="2001" y2="557.7" stroke="#000" stroke-width="3.3"/>
<text transform="translate(1602.5 488.5) rotate(-90) scale(0.9217 1)" font-size="29.5">Plasma triglycerides [mg/dL]</text>
<line x1="1771.59" y1="296.87" x2="1771.59" y2="382.23" stroke="#000" stroke-width="2.05"/>
<line x1="1771.59" y1="473.55" x2="1771.59" y2="498.65" stroke="#000" stroke-width="2.05"/>
<rect x="1727.35" y="382.23" width="88.5" height="91.32" fill="#bbbbbb" stroke="#000" stroke-width="2.05"/>
<line x1="1727.35" y1="437.14" x2="1815.84" y2="437.14" stroke="#000" stroke-width="2.05"/>
<line x1="1748.14" y1="296.87" x2="1795.05" y2="296.87" stroke="#000" stroke-width="2.05"/>
<line x1="1748.14" y1="498.65" x2="1795.05" y2="498.65" stroke="#000" stroke-width="2.05"/>
<circle cx="1771.59" cy="296.87" r="6.85" fill="none" stroke="#000" stroke-width="2"/>
<circle cx="1754.96" cy="408.59" r="6.85" fill="none" stroke="#000" stroke-width="2"/>
<circle cx="1787.6" cy="424.59" r="6.85" fill="none" stroke="#000" stroke-width="2"/>
<circle cx="1754.96" cy="451.26" r="6.85" fill="none" stroke="#000" stroke-width="2"/>
<circle cx="1787.6" cy="466.96" r="6.85" fill="none" stroke="#000" stroke-width="2"/>
<circle cx="1771.59" cy="498.65" r="6.85" fill="none" stroke="#000" stroke-width="2"/>
<line x1="1908.73" y1="148.43" x2="1908.73" y2="327.94" stroke="#000" stroke-width="2.05"/>
<line x1="1908.73" y1="423.02" x2="1908.73" y2="445.62" stroke="#000" stroke-width="2.05"/>
<rect x="1864.48" y="327.94" width="88.5" height="95.09" fill="#1f96f2" stroke="#000" stroke-width="2.05"/>
<line x1="1864.48" y1="371.24" x2="1952.98" y2="371.24" stroke="#000" stroke-width="2.05"/>
<line x1="1885.28" y1="148.43" x2="1932.18" y2="148.43" stroke="#000" stroke-width="2.05"/>
<line x1="1885.28" y1="445.62" x2="1932.18" y2="445.62" stroke="#000" stroke-width="2.05"/>
<circle cx="1908.73" cy="148.43" r="6.85" fill="none" stroke="#000" stroke-width="2"/>
<circle cx="1908.73" cy="313.5" r="6.85" fill="none" stroke="#000" stroke-width="2"/>
<circle cx="1925.05" cy="339.86" r="6.85" fill="none" stroke="#000" stroke-width="2"/>
<circle cx="1892.41" cy="355.55" r="6.85" fill="none" stroke="#000" stroke-width="2"/>
<circle cx="1925.05" cy="371.87" r="6.85" fill="none" stroke="#000" stroke-width="2"/>
<circle cx="1892.41" cy="376.58" r="6.85" fill="none" stroke="#000" stroke-width="2"/>
<circle cx="1892.41" cy="419.57" r="6.85" fill="none" stroke="#000" stroke-width="2"/>
<circle cx="1925.05" cy="429.93" r="6.85" fill="none" stroke="#000" stroke-width="2"/>
<circle cx="1892.41" cy="445.93" r="6.85" fill="none" stroke="#000" stroke-width="2"/>
<polyline points="1771.59,129.61 1771.59,109.83 1908.73,109.83 1908.73,129.61" fill="none" stroke="#000" stroke-width="2.05" stroke-linejoin="miter"/>
<text transform="translate(1812.72 100.4) scale(0.9627 1)" font-size="29.5">0.12</text>
<text transform="translate(1749.45 590.6) scale(0.9627 1)" font-size="29.5">Ctrl</text>
<text transform="translate(1851.15 590.6) scale(0.9627 1)" font-size="29.5"><tspan font-style="italic">Spring</tspan><tspan font-size="16.9" dx="0.6" dy="-10.3">LKO</tspan></text>
<text transform="translate(0 685.5)" font-size="44" font-weight="bold">e</text>
<line x1="98" y1="804.25" x2="98" y2="1286.2" stroke="#000" stroke-width="3.3"/>
<line x1="85.8" y1="805.9" x2="98" y2="805.9" stroke="#000" stroke-width="3.3"/>
<text transform="translate(31.09 815.7) scale(0.9627 1)" font-size="29.5">180</text>
<line x1="85.8" y1="886" x2="98" y2="886" stroke="#000" stroke-width="3.3"/>
<text transform="translate(31.09 895.8) scale(0.9627 1)" font-size="29.5">150</text>
<line x1="85.8" y1="966" x2="98" y2="966" stroke="#000" stroke-width="3.3"/>
<text transform="translate(31.09 975.8) scale(0.9627 1)" font-size="29.5">120</text>
<line x1="85.8" y1="1046.1" x2="98" y2="1046.1" stroke="#000" stroke-width="3.3"/>
<text transform="translate(46.97 1055.9) scale(0.9627 1)" font-size="29.5">90</text>
<line x1="85.8" y1="1126.1" x2="98" y2="1126.1" stroke="#000" stroke-width="3.3"/>
<text transform="translate(46.97 1135.9) scale(0.9627 1)" font-size="29.5">60</text>
<line x1="85.8" y1="1206.2" x2="98" y2="1206.2" stroke="#000" stroke-width="3.3"/>
<text transform="translate(46.97 1216) scale(0.9627 1)" font-size="29.5">30</text>
<line x1="85.8" y1="1286.2" x2="98" y2="1286.2" stroke="#000" stroke-width="3.3"/>
<text transform="translate(62.62 1296) scale(0.9627 1)" font-size="29.5">0</text>
<line x1="85.8" y1="1286.2" x2="417.6" y2="1286.2" stroke="#000" stroke-width="3.3"/>
<text transform="translate(24 1090) rotate(-90) scale(0.9412 1)" font-size="29.5">IU AST</text>
<line x1="189.41" y1="864.09" x2="189.41" y2="887.58" stroke="#000" stroke-width="2.05"/>
<line x1="189.41" y1="918.15" x2="189.41" y2="924.86" stroke="#000" stroke-width="2.05"/>
<rect x="145.23" y="887.58" width="88.37" height="30.57" fill="#bbbbbb" stroke="#000" stroke-width="2.05"/>
<line x1="145.23" y1="906.96" x2="233.59" y2="906.96" stroke="#000" stroke-width="2.05"/>
<line x1="165.99" y1="864.09" x2="212.83" y2="864.09" stroke="#000" stroke-width="2.05"/>
<line x1="165.99" y1="924.86" x2="212.83" y2="924.86" stroke="#000" stroke-width="2.05"/>
<circle cx="189.41" cy="864.09" r="6.85" fill="none" stroke="#000" stroke-width="2"/>
<circle cx="227.44" cy="893.91" r="6.85" fill="none" stroke="#000" stroke-width="2"/>
<circle cx="151.38" cy="902.86" r="6.85" fill="none" stroke="#000" stroke-width="2"/>
<circle cx="189.41" cy="910.32" r="6.85" fill="none" stroke="#000" stroke-width="2"/>
<circle cx="227.44" cy="917.78" r="6.85" fill="none" stroke="#000" stroke-width="2"/>
<circle cx="151.38" cy="925.23" r="6.85" fill="none" stroke="#000" stroke-width="2"/>
<line x1="326.99" y1="866.32" x2="326.99" y2="879" stroke="#000" stroke-width="2.05"/>
<line x1="326.99" y1="956.18" x2="326.99" y2="994.96" stroke="#000" stroke-width="2.05"/>
<rect x="282.62" y="879" width="88.74" height="77.18" fill="#1f96f2" stroke="#000" stroke-width="2.05"/>
<line x1="282.62" y1="905.1" x2="371.36" y2="905.1" stroke="#000" stroke-width="2.05"/>
<line x1="303.48" y1="866.32" x2="350.51" y2="866.32" stroke="#000" stroke-width="2.05"/>
<line x1="303.48" y1="994.96" x2="350.51" y2="994.96" stroke="#000" stroke-width="2.05"/>
<circle cx="310.59" cy="866.32" r="6.85" fill="none" stroke="#000" stroke-width="2"/>
<circle cx="343.03" cy="871.92" r="6.85" fill="none" stroke="#000" stroke-width="2"/>
<circle cx="310.59" cy="884.22" r="6.85" fill="none" stroke="#000" stroke-width="2"/>
<circle cx="343.03" cy="893.91" r="6.85" fill="none" stroke="#000" stroke-width="2"/>
<circle cx="310.59" cy="905.85" r="6.85" fill="none" stroke="#000" stroke-width="2"/>
<circle cx="343.03" cy="915.54" r="6.85" fill="none" stroke="#000" stroke-width="2"/>
<circle cx="310.59" cy="929.71" r="6.85" fill="none" stroke="#000" stroke-width="2"/>
<circle cx="343.03" cy="985.26" r="6.85" fill="none" stroke="#000" stroke-width="2"/>
<circle cx="310.59" cy="994.96" r="6.85" fill="none" stroke="#000" stroke-width="2"/>
<polyline points="189.41,838.73 189.41,819.34 326.99,819.34 326.99,838.73" fill="none" stroke="#000" stroke-width="2.05" stroke-linejoin="miter"/>
<text transform="translate(221.8 809.7) scale(0.9627 1)" font-size="29.5">0.448</text>
<text transform="translate(167.27 1319) scale(0.9627 1)" font-size="29.5">Ctrl</text>
<text transform="translate(269.41 1319) scale(0.9627 1)" font-size="29.5"><tspan font-style="italic">Spring</tspan><tspan font-size="16.9" dx="0.6" dy="-10.3">LKO</tspan></text>
<text transform="translate(440 685.5)" font-size="44" font-weight="bold">f</text>
<line x1="535.2" y1="815.35" x2="535.2" y2="1296.7" stroke="#000" stroke-width="3.3"/>
<line x1="523.2" y1="817" x2="535.2" y2="817" stroke="#000" stroke-width="3.3"/>
<text transform="translate(463.79 826.8) scale(0.9627 1)" font-size="29.5">100</text>
<line x1="523.2" y1="912.9" x2="535.2" y2="912.9" stroke="#000" stroke-width="3.3"/>
<text transform="translate(479.67 922.7) scale(0.9627 1)" font-size="29.5">80</text>
<line x1="523.2" y1="1008.9" x2="535.2" y2="1008.9" stroke="#000" stroke-width="3.3"/>
<text transform="translate(479.67 1018.7) scale(0.9627 1)" font-size="29.5">60</text>
<line x1="523.2" y1="1104.8" x2="535.2" y2="1104.8" stroke="#000" stroke-width="3.3"/>
<text transform="translate(479.67 1114.6) scale(0.9627 1)" font-size="29.5">40</text>
<line x1="523.2" y1="1200.8" x2="535.2" y2="1200.8" stroke="#000" stroke-width="3.3"/>
<text transform="translate(479.67 1210.6) scale(0.9627 1)" font-size="29.5">20</text>
<line x1="523.2" y1="1296.7" x2="535.2" y2="1296.7" stroke="#000" stroke-width="3.3"/>
<text transform="translate(495.32 1306.5) scale(0.9627 1)" font-size="29.5">0</text>
<line x1="523.2" y1="1296.7" x2="855.3" y2="1296.7" stroke="#000" stroke-width="3.3"/>
<text transform="translate(464 1100) rotate(-90) scale(0.9318 1)" font-size="29.5">IU ALT</text>
<line x1="626.11" y1="862.88" x2="626.11" y2="867.36" stroke="#000" stroke-width="2.05"/>
<line x1="626.11" y1="888.23" x2="626.11" y2="898.67" stroke="#000" stroke-width="2.05"/>
<rect x="581.76" y="867.36" width="88.71" height="20.87" fill="#bbbbbb" stroke="#000" stroke-width="2.05"/>
<line x1="581.76" y1="878.54" x2="670.47" y2="878.54" stroke="#000" stroke-width="2.05"/>
<line x1="602.61" y1="862.88" x2="649.62" y2="862.88" stroke="#000" stroke-width="2.05"/>
<line x1="602.61" y1="898.67" x2="649.62" y2="898.67" stroke="#000" stroke-width="2.05"/>
<circle cx="626.11" cy="863.26" r="6.85" fill="none" stroke="#000" stroke-width="2"/>
<circle cx="664.13" cy="866.61" r="6.85" fill="none" stroke="#000" stroke-width="2"/>
<circle cx="588.84" cy="875.18" r="6.85" fill="none" stroke="#000" stroke-width="2"/>
<circle cx="626.11" cy="883.38" r="6.85" fill="none" stroke="#000" stroke-width="2"/>
<circle cx="664.13" cy="886.74" r="6.85" fill="none" stroke="#000" stroke-width="2"/>
<circle cx="588.84" cy="899.04" r="6.85" fill="none" stroke="#000" stroke-width="2"/>
<line x1="763.65" y1="855.06" x2="763.65" y2="869.59" stroke="#000" stroke-width="2.05"/>
<line x1="763.65" y1="885.62" x2="763.65" y2="885.62" stroke="#000" stroke-width="2.05"/>
<rect x="719.11" y="869.59" width="89.08" height="16.03" fill="#1f96f2" stroke="#000" stroke-width="2.05"/>
<line x1="719.11" y1="874.81" x2="808.18" y2="874.81" stroke="#000" stroke-width="2.05"/>
<line x1="740.04" y1="855.06" x2="787.25" y2="855.06" stroke="#000" stroke-width="2.05"/>
<line x1="740.04" y1="885.62" x2="787.25" y2="885.62" stroke="#000" stroke-width="2.05"/>
<circle cx="782.28" cy="855.06" r="6.85" fill="none" stroke="#000" stroke-width="2"/>
<circle cx="763.65" cy="866.24" r="6.85" fill="none" stroke="#000" stroke-width="2"/>
<circle cx="726.37" cy="871.08" r="6.85" fill="none" stroke="#000" stroke-width="2"/>
<circle cx="745.01" cy="875.18" r="6.85" fill="none" stroke="#000" stroke-width="2"/>
<circle cx="800.92" cy="875.18" r="6.85" fill="none" stroke="#000" stroke-width="2"/>
<circle cx="763.65" cy="886.37" r="6.85" fill="none" stroke="#000" stroke-width="2"/>
<circle cx="782.28" cy="886.37" r="6.85" fill="none" stroke="#000" stroke-width="2"/>
<circle cx="745.01" cy="891.21" r="6.85" fill="none" stroke="#000" stroke-width="2"/>
<polyline points="626.11,834.56 626.11,814.43 763.65,814.43 763.65,834.56" fill="none" stroke="#000" stroke-width="2.05" stroke-linejoin="miter"/>
<text transform="translate(659.2 804.7) scale(0.9627 1)" font-size="29.5">0.674</text>
<text transform="translate(603.97 1323) scale(0.9627 1)" font-size="29.5">Ctrl</text>
<text transform="translate(706.06 1323) scale(0.9627 1)" font-size="29.5"><tspan font-style="italic">Spring</tspan><tspan font-size="16.9" dx="0.6" dy="-10.3">LKO</tspan></text>
<text transform="translate(0.8 1453)" font-size="44" font-weight="bold">h</text>
<text transform="translate(167.04 1440) scale(0.9627 1)" font-size="29.5">Chow Diet</text>
<line x1="141.7" y1="1447.5" x2="323.4" y2="1447.5" stroke="#000" stroke-width="2.9"/>
<text transform="translate(401.57 1440) scale(0.9627 1)" font-size="29.5">HFr Diet</text>
<line x1="363.5" y1="1447.5" x2="545.2" y2="1447.5" stroke="#000" stroke-width="2.9"/>
<line x1="108.2" y1="1532.2" x2="108.2" y2="2125" stroke="#000" stroke-width="2.9"/>
<line x1="86" y1="1533.8" x2="108.2" y2="1533.8" stroke="#000" stroke-width="3.2"/>
<text transform="translate(42.39 1542.1) scale(0.9161 1)" font-size="31">20</text>
<line x1="86" y1="1676.4" x2="108.2" y2="1676.4" stroke="#000" stroke-width="3.2"/>
<text transform="translate(42.39 1684.7) scale(0.9161 1)" font-size="31">15</text>
<line x1="86" y1="1819" x2="108.2" y2="1819" stroke="#000" stroke-width="3.2"/>
<text transform="translate(42.39 1827.3) scale(0.9161 1)" font-size="31">10</text>
<line x1="86" y1="1961.7" x2="108.2" y2="1961.7" stroke="#000" stroke-width="3.2"/>
<text transform="translate(58.2 1970) scale(0.9161 1)" font-size="31">5</text>
<line x1="86" y1="2104.3" x2="108.2" y2="2104.3" stroke="#000" stroke-width="3.2"/>
<text transform="translate(58.2 2112.6) scale(0.9161 1)" font-size="31">0</text>
<line x1="106.75" y1="2125" x2="587.4" y2="2125" stroke="#000" stroke-width="3.2"/>
<text transform="translate(24.5 1989.6) rotate(-90) scale(0.8986 1)" font-size="30.8">Oil Red O [% positive Area]</text>
<line x1="181.33" y1="1939.03" x2="181.33" y2="1960.93" stroke="#000" stroke-width="2.05"/>
<line x1="181.33" y1="2101.36" x2="181.33" y2="2104.25" stroke="#000" stroke-width="2.05"/>
<rect x="147.25" y="1960.93" width="68.15" height="140.44" fill="#fff" stroke="#000" stroke-width="2.05"/>
<line x1="147.25" y1="2048.91" x2="215.41" y2="2048.91" stroke="#000" stroke-width="2.05"/>
<line x1="162.33" y1="1939.03" x2="200.33" y2="1939.03" stroke="#000" stroke-width="2.05"/>
<line x1="162.33" y1="2104.25" x2="200.33" y2="2104.25" stroke="#000" stroke-width="2.05"/>
<circle cx="204.05" cy="1939.03" r="6.6" fill="none" stroke="#000" stroke-width="2"/>
<circle cx="159.44" cy="1965.47" r="6.6" fill="none" stroke="#000" stroke-width="2"/>
<circle cx="203.22" cy="2036.51" r="6.6" fill="none" stroke="#000" stroke-width="2"/>
<circle cx="159.44" cy="2061.71" r="6.6" fill="none" stroke="#000" stroke-width="2"/>
<circle cx="159.44" cy="2104.25" r="6.6" fill="none" stroke="#000" stroke-width="2"/>
<circle cx="203.22" cy="2104.25" r="6.6" fill="none" stroke="#000" stroke-width="2"/>
<line x1="292.03" y1="2063.78" x2="292.03" y2="2084.01" stroke="#000" stroke-width="2.05"/>
<line x1="292.03" y1="2101.78" x2="292.03" y2="2104.25" stroke="#000" stroke-width="2.05"/>
<rect x="257.74" y="2084.01" width="68.57" height="17.76" fill="#f5a21e" stroke="#000" stroke-width="2.05"/>
<line x1="257.74" y1="2100.95" x2="326.31" y2="2100.95" stroke="#000" stroke-width="2.05"/>
<line x1="273.03" y1="2063.78" x2="311.03" y2="2063.78" stroke="#000" stroke-width="2.05"/>
<line x1="273.03" y1="2104.25" x2="311.03" y2="2104.25" stroke="#000" stroke-width="2.05"/>
<circle cx="303.59" cy="2064.19" r="6.6" fill="none" stroke="#000" stroke-width="2"/>
<circle cx="280.88" cy="2087.32" r="6.6" fill="none" stroke="#000" stroke-width="2"/>
<circle cx="303.59" cy="2100.12" r="6.6" fill="none" stroke="#000" stroke-width="2"/>
<circle cx="269.31" cy="2104.25" r="6.6" fill="none" stroke="#000" stroke-width="2"/>
<circle cx="292.03" cy="2104.25" r="6.6" fill="none" stroke="#000" stroke-width="2"/>
<circle cx="314.75" cy="2104.25" r="6.6" fill="none" stroke="#000" stroke-width="2"/>
<line x1="403.14" y1="1577.2" x2="403.14" y2="1631.31" stroke="#000" stroke-width="2.05"/>
<line x1="403.14" y1="1834.94" x2="403.14" y2="1991.49" stroke="#000" stroke-width="2.05"/>
<rect x="369.27" y="1631.31" width="67.74" height="203.63" fill="#bbbbbb" stroke="#000" stroke-width="2.05"/>
<line x1="369.27" y1="1742.83" x2="437.01" y2="1742.83" stroke="#000" stroke-width="2.05"/>
<line x1="384.14" y1="1577.2" x2="422.14" y2="1577.2" stroke="#000" stroke-width="2.05"/>
<line x1="384.14" y1="1991.49" x2="422.14" y2="1991.49" stroke="#000" stroke-width="2.05"/>
<circle cx="403.14" cy="1577.61" r="6.6" fill="none" stroke="#000" stroke-width="2"/>
<circle cx="403.14" cy="1645.77" r="6.6" fill="none" stroke="#000" stroke-width="2"/>
<circle cx="403.14" cy="1712.68" r="6.6" fill="none" stroke="#000" stroke-width="2"/>
<circle cx="380.42" cy="1773.81" r="6.6" fill="none" stroke="#000" stroke-width="2"/>
<circle cx="425.44" cy="1787.44" r="6.6" fill="none" stroke="#000" stroke-width="2"/>
<circle cx="403.14" cy="1991.49" r="6.6" fill="none" stroke="#000" stroke-width="2"/>
<line x1="513.42" y1="1843.62" x2="513.42" y2="1872.12" stroke="#000" stroke-width="2.05"/>
<line x1="513.42" y1="2084.43" x2="513.42" y2="2092.69" stroke="#000" stroke-width="2.05"/>
<rect x="479.35" y="1872.12" width="68.15" height="212.31" fill="#1f96f2" stroke="#000" stroke-width="2.05"/>
<line x1="479.35" y1="2004.3" x2="547.5" y2="2004.3" stroke="#000" stroke-width="2.05"/>
<line x1="494.42" y1="1843.62" x2="532.42" y2="1843.62" stroke="#000" stroke-width="2.05"/>
<line x1="494.42" y1="2092.69" x2="532.42" y2="2092.69" stroke="#000" stroke-width="2.05"/>
<circle cx="535.73" cy="1843.62" r="6.6" fill="none" stroke="#000" stroke-width="2"/>
<circle cx="513.42" cy="1869.64" r="6.6" fill="none" stroke="#000" stroke-width="2"/>
<circle cx="513.42" cy="1951.84" r="6.6" fill="none" stroke="#000" stroke-width="2"/>
<circle cx="513.42" cy="2004.71" r="6.6" fill="none" stroke="#000" stroke-width="2"/>
<circle cx="513.42" cy="2077.82" r="6.6" fill="none" stroke="#000" stroke-width="2"/>
<circle cx="535.73" cy="2087.73" r="6.6" fill="none" stroke="#000" stroke-width="2"/>
<circle cx="491.12" cy="2092.69" r="6.6" fill="none" stroke="#000" stroke-width="2"/>
<polyline points="294.09,1503.26 294.09,1483.44 403.55,1483.44 403.55,1503.26" fill="none" stroke="#000" stroke-width="2.05" stroke-linejoin="miter"/>
<text x="326.7" y="1484.38" font-size="37.2" letter-spacing="0.57">***</text>
<polyline points="173.07,1559.44 173.07,1540.02 392.4,1540.02 392.4,1559.44" fill="none" stroke="#000" stroke-width="2.05" stroke-linejoin="miter"/>
<text x="260.7" y="1545.08" font-size="37.2" letter-spacing="0.57">***</text>
<polyline points="406.44,1559.44 406.44,1540.02 513.01,1540.02 513.01,1559.44" fill="none" stroke="#000" stroke-width="2.05" stroke-linejoin="miter"/>
<text x="437.4" y="1545.08" font-size="37.2" letter-spacing="0.57">***</text>
<text transform="translate(159.69 2176.61) rotate(-45) scale(0.9627 1)" font-size="29.5">Ctrl</text>
<text transform="translate(226.27 2231.93) rotate(-45) scale(0.9627 1)" font-size="29.5"><tspan font-style="italic">Spring</tspan><tspan font-size="16.9" dx="0.6" dy="-10.3">LKO</tspan></text>
<text transform="translate(380.49 2176.31) rotate(-45) scale(0.9627 1)" font-size="29.5">Ctrl</text>
<text transform="translate(455.77 2231.83) rotate(-45) scale(0.9627 1)" font-size="29.5"><tspan font-style="italic">Spring</tspan><tspan font-size="16.9" dx="0.6" dy="-10.3">LKO</tspan></text>
<text transform="translate(788.5 1453)" font-size="44" font-weight="bold">i</text>
<line x1="915.7" y1="1532.15" x2="915.7" y2="2109.6" stroke="#000" stroke-width="3.3"/>
<line x1="901.7" y1="1533.8" x2="915.7" y2="1533.8" stroke="#000" stroke-width="3.3"/>
<text transform="translate(862.47 1543.6) scale(0.9627 1)" font-size="29.5">30</text>
<line x1="901.7" y1="1725.7" x2="915.7" y2="1725.7" stroke="#000" stroke-width="3.3"/>
<text transform="translate(862.47 1735.5) scale(0.9627 1)" font-size="29.5">20</text>
<line x1="901.7" y1="1917.7" x2="915.7" y2="1917.7" stroke="#000" stroke-width="3.3"/>
<text transform="translate(862.47 1927.5) scale(0.9627 1)" font-size="29.5">10</text>
<line x1="901.7" y1="2109.6" x2="915.7" y2="2109.6" stroke="#000" stroke-width="3.3"/>
<text transform="translate(878.12 2119.4) scale(0.9627 1)" font-size="29.5">0</text>
<line x1="901.7" y1="2109.6" x2="1299.9" y2="2109.6" stroke="#000" stroke-width="3.3"/>
<text transform="translate(812 1938) rotate(-90) scale(0.8814 1)" font-size="29.5">Hepatic triglycerides</text>
<text transform="translate(848.5 1883) rotate(-90) scale(0.9081 1)" font-size="29.5">[mg/g liver]</text>
<line x1="1024.77" y1="1647.01" x2="1024.77" y2="1776.7" stroke="#000" stroke-width="2.05"/>
<line x1="1024.77" y1="1894.01" x2="1024.77" y2="1943.16" stroke="#000" stroke-width="2.05"/>
<rect x="971.69" y="1776.7" width="106.15" height="117.31" fill="#bbbbbb" stroke="#000" stroke-width="2.05"/>
<line x1="971.69" y1="1839.07" x2="1077.84" y2="1839.07" stroke="#000" stroke-width="2.05"/>
<line x1="996.64" y1="1647.01" x2="1052.9" y2="1647.01" stroke="#000" stroke-width="2.05"/>
<line x1="996.64" y1="1943.16" x2="1052.9" y2="1943.16" stroke="#000" stroke-width="2.05"/>
<circle cx="1024.77" cy="1647.01" r="8.5" fill="none" stroke="#000" stroke-width="2"/>
<circle cx="1005.35" cy="1817.18" r="8.5" fill="none" stroke="#000" stroke-width="2"/>
<circle cx="1044.59" cy="1819.25" r="8.5" fill="none" stroke="#000" stroke-width="2"/>
<circle cx="1024.77" cy="1859.31" r="8.5" fill="none" stroke="#000" stroke-width="2"/>
<circle cx="1024.77" cy="1880.38" r="8.5" fill="none" stroke="#000" stroke-width="2"/>
<circle cx="1024.77" cy="1943.16" r="8.5" fill="none" stroke="#000" stroke-width="2"/>
<line x1="1189.99" y1="1840.31" x2="1189.99" y2="1926.64" stroke="#000" stroke-width="2.05"/>
<line x1="1189.99" y1="2010.9" x2="1189.99" y2="2020.82" stroke="#000" stroke-width="2.05"/>
<rect x="1136.7" y="1926.64" width="106.57" height="84.26" fill="#1f96f2" stroke="#000" stroke-width="2.05"/>
<line x1="1136.7" y1="1946.47" x2="1243.27" y2="1946.47" stroke="#000" stroke-width="2.05"/>
<line x1="1161.75" y1="1840.31" x2="1218.23" y2="1840.31" stroke="#000" stroke-width="2.05"/>
<line x1="1161.75" y1="2020.82" x2="1218.23" y2="2020.82" stroke="#000" stroke-width="2.05"/>
<circle cx="1189.99" cy="1840.31" r="8.5" fill="none" stroke="#000" stroke-width="2"/>
<circle cx="1189.99" cy="1917.55" r="8.5" fill="none" stroke="#000" stroke-width="2"/>
<circle cx="1145.38" cy="1932.01" r="8.5" fill="none" stroke="#000" stroke-width="2"/>
<circle cx="1234.6" cy="1942.75" r="8.5" fill="none" stroke="#000" stroke-width="2"/>
<circle cx="1189.99" cy="1947.29" r="8.5" fill="none" stroke="#000" stroke-width="2"/>
<circle cx="1189.99" cy="1972.08" r="8.5" fill="none" stroke="#000" stroke-width="2"/>
<circle cx="1189.99" cy="2011.73" r="8.5" fill="none" stroke="#000" stroke-width="2"/>
<circle cx="1234.6" cy="2014.21" r="8.5" fill="none" stroke="#000" stroke-width="2"/>
<circle cx="1144.96" cy="2020.82" r="8.5" fill="none" stroke="#000" stroke-width="2"/>
<polyline points="1025.59,1607.35 1025.59,1583.81 1190.81,1583.81 1190.81,1607.35" fill="none" stroke="#000" stroke-width="2.05" stroke-linejoin="miter"/>
<text x="1100.95" y="1590.48" font-size="37.2">*</text>
<text transform="translate(1002.62 2138) scale(0.9627 1)" font-size="29.5">Ctrl</text>
<text transform="translate(1132.41 2138) scale(0.9627 1)" font-size="29.5"><tspan font-style="italic">Spring</tspan><tspan font-size="16.9" dx="0.6" dy="-10.3">LKO</tspan></text>
<text transform="translate(1500 1453)" x="0.75" font-size="44" font-weight="bold">j</text>
<line x1="1616.9" y1="1533.85" x2="1616.9" y2="2111.7" stroke="#000" stroke-width="3.3"/>
<line x1="1601.2" y1="1535.5" x2="1616.9" y2="1535.5" stroke="#000" stroke-width="3.3"/>
<text transform="translate(1576.92 1545.3) scale(0.9627 1)" font-size="29.5">8</text>
<line x1="1601.2" y1="1679.6" x2="1616.9" y2="1679.6" stroke="#000" stroke-width="3.3"/>
<text transform="translate(1576.92 1689.4) scale(0.9627 1)" font-size="29.5">6</text>
<line x1="1601.2" y1="1823.6" x2="1616.9" y2="1823.6" stroke="#000" stroke-width="3.3"/>
<text transform="translate(1576.92 1833.4) scale(0.9627 1)" font-size="29.5">4</text>
<line x1="1601.2" y1="1967.7" x2="1616.9" y2="1967.7" stroke="#000" stroke-width="3.3"/>
<text transform="translate(1576.92 1977.5) scale(0.9627 1)" font-size="29.5">2</text>
<line x1="1601.2" y1="2111.7" x2="1616.9" y2="2111.7" stroke="#000" stroke-width="3.3"/>
<text transform="translate(1576.92 2121.5) scale(0.9627 1)" font-size="29.5">0</text>
<line x1="1601.2" y1="2111.7" x2="2001" y2="2111.7" stroke="#000" stroke-width="3.3"/>
<text transform="translate(1524 1938) rotate(-90) scale(0.9163 1)" font-size="29.5">Hepatic cholesterol</text>
<text transform="translate(1561 1889) rotate(-90) scale(0.9081 1)" font-size="29.5">[mg/g liver]</text>
<line x1="1725.49" y1="1644.53" x2="1725.49" y2="1692.03" stroke="#000" stroke-width="2.05"/>
<line x1="1725.49" y1="1794.88" x2="1725.49" y2="1859.31" stroke="#000" stroke-width="2.05"/>
<rect x="1672.41" y="1692.03" width="106.15" height="102.85" fill="#bbbbbb" stroke="#000" stroke-width="2.05"/>
<line x1="1672.41" y1="1738.7" x2="1778.56" y2="1738.7" stroke="#000" stroke-width="2.05"/>
<line x1="1697.35" y1="1644.53" x2="1753.62" y2="1644.53" stroke="#000" stroke-width="2.05"/>
<line x1="1697.35" y1="1859.31" x2="1753.62" y2="1859.31" stroke="#000" stroke-width="2.05"/>
<circle cx="1725.49" cy="1644.53" r="8.5" fill="none" stroke="#000" stroke-width="2"/>
<circle cx="1725.49" cy="1705.66" r="8.5" fill="none" stroke="#000" stroke-width="2"/>
<circle cx="1725.49" cy="1726.31" r="8.5" fill="none" stroke="#000" stroke-width="2"/>
<circle cx="1725.49" cy="1750.68" r="8.5" fill="none" stroke="#000" stroke-width="2"/>
<circle cx="1725.49" cy="1776.29" r="8.5" fill="none" stroke="#000" stroke-width="2"/>
<circle cx="1725.49" cy="1859.31" r="8.5" fill="none" stroke="#000" stroke-width="2"/>
<line x1="1890.71" y1="1938.21" x2="1890.71" y2="1946.06" stroke="#000" stroke-width="2.05"/>
<line x1="1890.71" y1="1961.34" x2="1890.71" y2="1967.53" stroke="#000" stroke-width="2.05"/>
<rect x="1837.63" y="1946.06" width="106.15" height="15.28" fill="#1f96f2" stroke="#000" stroke-width="2.05"/>
<line x1="1837.63" y1="1960.93" x2="1943.78" y2="1960.93" stroke="#000" stroke-width="2.05"/>
<line x1="1862.58" y1="1938.21" x2="1918.84" y2="1938.21" stroke="#000" stroke-width="2.05"/>
<line x1="1862.58" y1="1967.53" x2="1918.84" y2="1967.53" stroke="#000" stroke-width="2.05"/>
<circle cx="1935.73" cy="1937.79" r="8.5" fill="none" stroke="#000" stroke-width="2"/>
<circle cx="1881.21" cy="1942.34" r="8.5" fill="none" stroke="#000" stroke-width="2"/>
<circle cx="1845.68" cy="1945.23" r="8.5" fill="none" stroke="#000" stroke-width="2"/>
<circle cx="1863.44" cy="1946.88" r="8.5" fill="none" stroke="#000" stroke-width="2"/>
<circle cx="1881.21" cy="1961.75" r="8.5" fill="none" stroke="#000" stroke-width="2"/>
<circle cx="1898.97" cy="1960.93" r="8.5" fill="none" stroke="#000" stroke-width="2"/>
<circle cx="1935.73" cy="1961.75" r="8.5" fill="none" stroke="#000" stroke-width="2"/>
<circle cx="1845.68" cy="1964.64" r="8.5" fill="none" stroke="#000" stroke-width="2"/>
<circle cx="1917.14" cy="1967.12" r="8.5" fill="none" stroke="#000" stroke-width="2"/>
<polyline points="1725.49,1601.57 1725.49,1577.61 1890.71,1577.61 1890.71,1601.57" fill="none" stroke="#000" stroke-width="2.05" stroke-linejoin="miter"/>
<text x="1785.8" y="1585.08" font-size="37.2" letter-spacing="0.57">***</text>
<text transform="translate(1703.34 2140) scale(0.9627 1)" font-size="29.5">Ctrl</text>
<text transform="translate(1833.12 2140) scale(0.9627 1)" font-size="29.5"><tspan font-style="italic">Spring</tspan><tspan font-size="16.9" dx="0.6" dy="-10.3">LKO</tspan></text>
</svg>
</body></html>
